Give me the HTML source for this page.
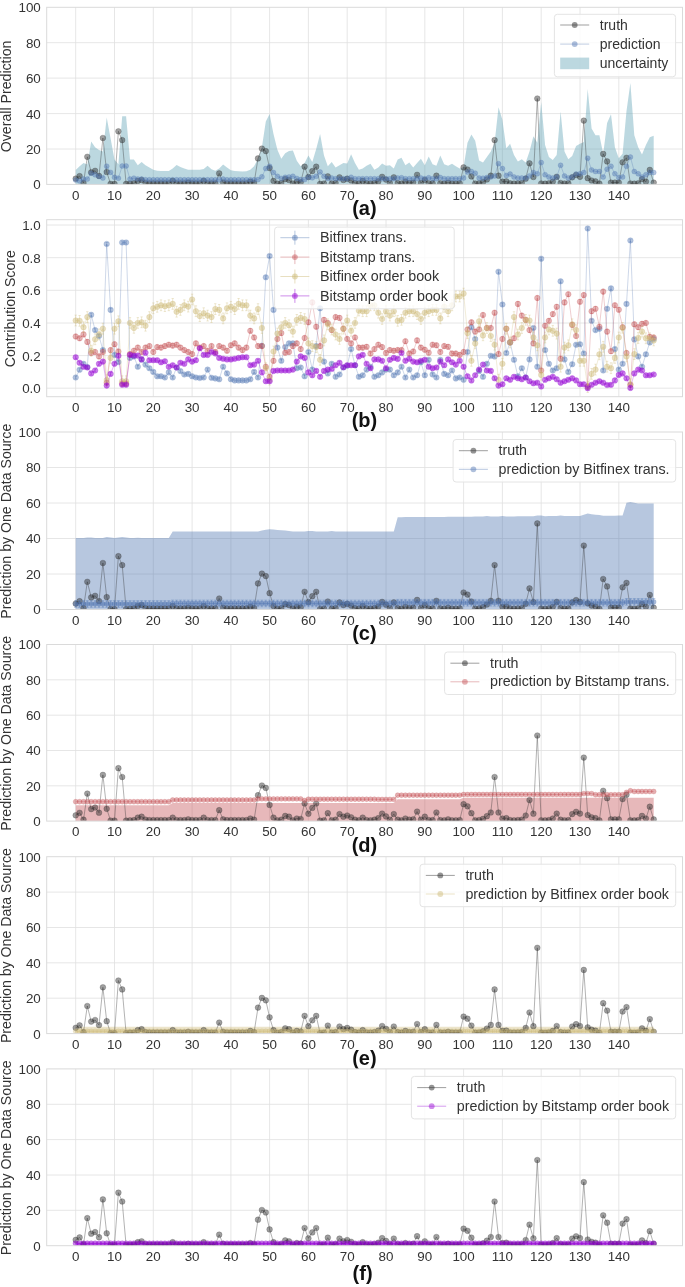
<!DOCTYPE html>
<html lang="en"><head><meta charset="utf-8"><title>Figure</title>
<style>html,body{margin:0;padding:0;background:#fff}svg{display:block;will-change:transform}text{font-family:"Liberation Sans",Arial,sans-serif}</style>
</head><body>
<svg width="685" height="1287" viewBox="0 0 685 1287">
<rect width="685" height="1287" fill="#fff"/>
<rect x="46.7" y="7.3" width="635.8" height="177.1" fill="#fff"/>
<path d="M75.7 7.3V184.4M114.5 7.3V184.4M153.3 7.3V184.4M192.1 7.3V184.4M230.9 7.3V184.4M269.6 7.3V184.4M308.4 7.3V184.4M347.2 7.3V184.4M386 7.3V184.4M424.8 7.3V184.4M463.6 7.3V184.4M502.4 7.3V184.4M541.2 7.3V184.4M580 7.3V184.4M618.8 7.3V184.4M46.7 149H682.5M46.7 113.6H682.5M46.7 78.1H682.5M46.7 42.7H682.5" stroke="#e0e0e0" stroke-width="0.8" fill="none"/>
<clipPath id="cpa"><rect x="46.7" y="7.3" width="635.8" height="177.1"/></clipPath><g clip-path="url(#cpa)">
<polygon points="75.7,170.1 79.6,166.2 83.5,163.1 87.3,164.6 91.2,141.5 95.1,147.2 99,149.9 102.9,151.6 106.7,117.5 110.6,138.4 114.5,159.6 118.4,164.2 122.2,116.2 126.1,116.2 130,159.6 133.9,159.6 137.8,165.3 141.6,161.9 145.5,165.3 149.4,167.4 153.3,169.7 157.2,170.8 161,171.1 164.9,171.1 168.8,171.1 172.7,168.5 176.6,164.9 180.4,167 184.3,168.5 188.2,169.7 192.1,169.7 195.9,169.7 199.8,169.7 203.7,169 207.6,165.8 211.5,169.3 215.3,170.8 219.2,168.5 223.1,164.6 227,167.6 230.9,170.2 234.7,171.1 238.6,171.3 242.5,171.6 246.4,171.3 250.3,169.7 254.1,166.3 258,158.7 261.9,147.2 265.8,121.4 269.6,113.9 273.5,133.9 277.4,149.7 281.3,158.7 285.2,153.2 289,150.9 292.9,150.6 296.8,160.8 300.7,166.3 304.6,163.1 308.4,155.4 312.3,161.9 316.2,149 320.1,134.1 324,155.4 327.8,166.3 331.7,161.9 335.6,167.4 339.5,165.3 343.4,163.1 347.2,163.5 351.1,154.3 355,163.1 358.9,169.7 362.7,168.5 366.6,165.8 370.5,163.7 374.4,169.7 378.3,167.4 382.1,163.5 386,165.8 389.9,165.3 393.8,168.5 397.7,159.6 401.5,157.8 405.4,165.3 409.3,162.6 413.2,167.4 417.1,163.1 420.9,158.7 424.8,165.3 428.7,156.4 432.6,164.2 436.4,165.8 440.3,155.4 444.2,164.2 448.1,165.8 452,163.7 455.8,166.3 459.7,168.5 463.6,167 467.5,142.8 471.4,134.5 475.2,140.7 479.1,160.5 483,162.6 486.9,157.1 490.8,151.6 494.6,142.8 498.5,107.2 502.4,119.8 506.3,148.3 510.1,143.8 514,155 517.9,161.6 521.8,159.3 525.7,162.6 529.5,151.6 533.4,136.2 537.3,142.8 541.2,102 545.1,145.1 548.9,157.1 552.8,160 556.7,155 560.6,111.6 564.5,151.6 568.3,159.3 572.2,156.1 576.1,146.1 580,143.8 583.8,141.9 587.7,88.9 591.6,128.4 595.5,135.2 599.4,135.2 603.2,153.8 607.1,122.9 611,114.3 614.9,147.2 618.8,158.2 622.6,153.8 626.5,110.9 630.4,82.9 634.3,135.2 638.2,147.2 642,154.5 645.9,145.1 649.8,137.3 653.7,135.7 653.7,184.4 649.8,184.4 645.9,184.4 642,184.4 638.2,184.4 634.3,184.4 630.4,184.4 626.5,184.4 622.6,184.4 618.8,184.4 614.9,184.4 611,184.4 607.1,184.4 603.2,184.4 599.4,184.4 595.5,184.4 591.6,184.4 587.7,184.4 583.8,184.4 580,184.4 576.1,184.4 572.2,184.4 568.3,184.4 564.5,184.4 560.6,184.4 556.7,184.4 552.8,184.4 548.9,184.4 545.1,184.4 541.2,184.4 537.3,184.4 533.4,184.4 529.5,184.4 525.7,184.4 521.8,184.4 517.9,184.4 514,184.4 510.1,184.4 506.3,184.4 502.4,184.4 498.5,184.4 494.6,184.4 490.8,184.4 486.9,184.4 483,184.4 479.1,184.4 475.2,184.4 471.4,184.4 467.5,184.4 463.6,184.4 459.7,184.4 455.8,184.4 452,184.4 448.1,184.4 444.2,184.4 440.3,184.4 436.4,184.4 432.6,184.4 428.7,184.4 424.8,184.4 420.9,184.4 417.1,184.4 413.2,184.4 409.3,184.4 405.4,184.4 401.5,184.4 397.7,184.4 393.8,184.4 389.9,184.4 386,184.4 382.1,184.4 378.3,184.4 374.4,184.4 370.5,184.4 366.6,184.4 362.7,184.4 358.9,184.4 355,184.4 351.1,184.4 347.2,184.4 343.4,184.4 339.5,184.4 335.6,184.4 331.7,184.4 327.8,184.4 324,184.4 320.1,184.4 316.2,184.4 312.3,184.4 308.4,184.4 304.6,184.4 300.7,184.4 296.8,184.4 292.9,184.4 289,184.4 285.2,184.4 281.3,184.4 277.4,184.4 273.5,184.4 269.6,184.4 265.8,184.4 261.9,184.4 258,184.4 254.1,184.4 250.3,184.4 246.4,184.4 242.5,184.4 238.6,184.4 234.7,184.4 230.9,184.4 227,184.4 223.1,184.4 219.2,184.4 215.3,184.4 211.5,184.4 207.6,184.4 203.7,184.4 199.8,184.4 195.9,184.4 192.1,184.4 188.2,184.4 184.3,184.4 180.4,184.4 176.6,184.4 172.7,184.4 168.8,184.4 164.9,184.4 161,184.4 157.2,184.4 153.3,184.4 149.4,184.4 145.5,184.4 141.6,184.4 137.8,184.4 133.9,184.4 130,184.4 126.1,184.4 122.2,184.4 118.4,184.4 114.5,184.4 110.6,184.4 106.7,184.4 102.9,184.4 99,184.4 95.1,184.4 91.2,184.4 87.3,184.4 83.5,184.4 79.6,184.4 75.7,184.4" fill="#5FA3B5" fill-opacity="0.42"/>
<polyline points="75.7,178.6 79.6,176.1 83.5,183 87.3,156.8 91.2,172.4 95.1,170.8 99,175.9 102.9,138 106.7,172 110.6,183.9 114.5,183.9 118.4,131.3 122.2,140.1 126.1,183.9 130,183.5 133.9,183.3 137.8,180.9 141.6,180 145.5,183 149.4,183.3 153.3,183.3 157.2,183.3 161,183.3 164.9,183.3 168.8,183.3 172.7,180.9 176.6,183.3 180.4,183.3 184.3,183.3 188.2,182.6 192.1,183.3 195.9,183.3 199.8,183.3 203.7,180.9 207.6,183.3 211.5,183.3 215.3,183.3 219.2,173.4 223.1,182.6 227,183.3 230.9,183.3 234.7,183.3 238.6,183.3 242.5,183.3 246.4,183.3 250.3,181.7 254.1,183 258,158.4 261.9,148.6 265.8,151.1 269.6,168.1 273.5,180.9 277.4,183.7 281.3,183 285.2,179.1 289,180 292.9,183.5 296.8,181.7 300.7,182.3 304.6,166.7 308.4,177 312.3,171.1 316.2,166.7 320.1,183.9 324,183.5 327.8,176.4 331.7,183.5 335.6,183 339.5,177.3 343.4,180 347.2,178.7 351.1,180.5 355,183 358.9,183.5 362.7,180.9 366.6,183.3 370.5,183.5 374.4,183 378.3,181.4 382.1,176.8 386,179.6 389.9,183 393.8,177.3 397.7,183 401.5,183.5 405.4,181.7 409.3,183 413.2,182.6 417.1,174.8 420.9,183 424.8,180 428.7,183.3 432.6,183.3 436.4,175.7 440.3,183.3 444.2,183.5 448.1,182.6 452,183.5 455.8,183.5 459.7,183.3 463.6,167.4 467.5,169.5 471.4,176.4 475.2,183.5 479.1,183.3 483,182.1 486.9,179.4 490.8,175.7 494.6,140.1 498.5,175.7 502.4,181.7 506.3,181.4 510.1,183.3 514,183.5 517.9,183.3 521.8,183 525.7,178.7 529.5,163.3 533.4,177 537.3,98.5 541.2,183.5 545.1,183.7 548.9,183.3 552.8,181.7 556.7,176.8 560.6,183 564.5,183.5 568.3,183.3 572.2,177.3 576.1,175 580,176.8 583.8,120.6 587.7,178.2 591.6,180.5 595.5,181.4 599.4,183.7 603.2,153.9 607.1,161.4 611,182.6 614.9,182.6 618.8,182.6 622.6,162.3 626.5,157.8 630.4,183.5 634.3,183.7 638.2,183.3 642,179.1 645.9,181.7 649.8,169.9 653.7,182.6" fill="none" stroke="#2a2a2a" stroke-width="0.8" stroke-opacity="0.45" stroke-linejoin="round"/>
<g fill="#2a2a2a" fill-opacity="0.45" stroke="#2a2a2a" stroke-opacity="0.45" stroke-width="0.5">
<circle cx="75.7" cy="178.6" r="2.85"/><circle cx="79.6" cy="176.1" r="2.85"/><circle cx="83.5" cy="183" r="2.85"/><circle cx="87.3" cy="156.8" r="2.85"/><circle cx="91.2" cy="172.4" r="2.85"/><circle cx="95.1" cy="170.8" r="2.85"/><circle cx="99" cy="175.9" r="2.85"/><circle cx="102.9" cy="138" r="2.85"/><circle cx="106.7" cy="172" r="2.85"/><circle cx="110.6" cy="183.9" r="2.85"/><circle cx="114.5" cy="183.9" r="2.85"/><circle cx="118.4" cy="131.3" r="2.85"/><circle cx="122.2" cy="140.1" r="2.85"/><circle cx="126.1" cy="183.9" r="2.85"/><circle cx="130" cy="183.5" r="2.85"/><circle cx="133.9" cy="183.3" r="2.85"/><circle cx="137.8" cy="180.9" r="2.85"/><circle cx="141.6" cy="180" r="2.85"/><circle cx="145.5" cy="183" r="2.85"/><circle cx="149.4" cy="183.3" r="2.85"/><circle cx="153.3" cy="183.3" r="2.85"/><circle cx="157.2" cy="183.3" r="2.85"/><circle cx="161" cy="183.3" r="2.85"/><circle cx="164.9" cy="183.3" r="2.85"/><circle cx="168.8" cy="183.3" r="2.85"/><circle cx="172.7" cy="180.9" r="2.85"/><circle cx="176.6" cy="183.3" r="2.85"/><circle cx="180.4" cy="183.3" r="2.85"/><circle cx="184.3" cy="183.3" r="2.85"/><circle cx="188.2" cy="182.6" r="2.85"/><circle cx="192.1" cy="183.3" r="2.85"/><circle cx="195.9" cy="183.3" r="2.85"/><circle cx="199.8" cy="183.3" r="2.85"/><circle cx="203.7" cy="180.9" r="2.85"/><circle cx="207.6" cy="183.3" r="2.85"/><circle cx="211.5" cy="183.3" r="2.85"/><circle cx="215.3" cy="183.3" r="2.85"/><circle cx="219.2" cy="173.4" r="2.85"/><circle cx="223.1" cy="182.6" r="2.85"/><circle cx="227" cy="183.3" r="2.85"/><circle cx="230.9" cy="183.3" r="2.85"/><circle cx="234.7" cy="183.3" r="2.85"/><circle cx="238.6" cy="183.3" r="2.85"/><circle cx="242.5" cy="183.3" r="2.85"/><circle cx="246.4" cy="183.3" r="2.85"/><circle cx="250.3" cy="181.7" r="2.85"/><circle cx="254.1" cy="183" r="2.85"/><circle cx="258" cy="158.4" r="2.85"/><circle cx="261.9" cy="148.6" r="2.85"/><circle cx="265.8" cy="151.1" r="2.85"/><circle cx="269.6" cy="168.1" r="2.85"/><circle cx="273.5" cy="180.9" r="2.85"/><circle cx="277.4" cy="183.7" r="2.85"/><circle cx="281.3" cy="183" r="2.85"/><circle cx="285.2" cy="179.1" r="2.85"/><circle cx="289" cy="180" r="2.85"/><circle cx="292.9" cy="183.5" r="2.85"/><circle cx="296.8" cy="181.7" r="2.85"/><circle cx="300.7" cy="182.3" r="2.85"/><circle cx="304.6" cy="166.7" r="2.85"/><circle cx="308.4" cy="177" r="2.85"/><circle cx="312.3" cy="171.1" r="2.85"/><circle cx="316.2" cy="166.7" r="2.85"/><circle cx="320.1" cy="183.9" r="2.85"/><circle cx="324" cy="183.5" r="2.85"/><circle cx="327.8" cy="176.4" r="2.85"/><circle cx="331.7" cy="183.5" r="2.85"/><circle cx="335.6" cy="183" r="2.85"/><circle cx="339.5" cy="177.3" r="2.85"/><circle cx="343.4" cy="180" r="2.85"/><circle cx="347.2" cy="178.7" r="2.85"/><circle cx="351.1" cy="180.5" r="2.85"/><circle cx="355" cy="183" r="2.85"/><circle cx="358.9" cy="183.5" r="2.85"/><circle cx="362.7" cy="180.9" r="2.85"/><circle cx="366.6" cy="183.3" r="2.85"/><circle cx="370.5" cy="183.5" r="2.85"/><circle cx="374.4" cy="183" r="2.85"/><circle cx="378.3" cy="181.4" r="2.85"/><circle cx="382.1" cy="176.8" r="2.85"/><circle cx="386" cy="179.6" r="2.85"/><circle cx="389.9" cy="183" r="2.85"/><circle cx="393.8" cy="177.3" r="2.85"/><circle cx="397.7" cy="183" r="2.85"/><circle cx="401.5" cy="183.5" r="2.85"/><circle cx="405.4" cy="181.7" r="2.85"/><circle cx="409.3" cy="183" r="2.85"/><circle cx="413.2" cy="182.6" r="2.85"/><circle cx="417.1" cy="174.8" r="2.85"/><circle cx="420.9" cy="183" r="2.85"/><circle cx="424.8" cy="180" r="2.85"/><circle cx="428.7" cy="183.3" r="2.85"/><circle cx="432.6" cy="183.3" r="2.85"/><circle cx="436.4" cy="175.7" r="2.85"/><circle cx="440.3" cy="183.3" r="2.85"/><circle cx="444.2" cy="183.5" r="2.85"/><circle cx="448.1" cy="182.6" r="2.85"/><circle cx="452" cy="183.5" r="2.85"/><circle cx="455.8" cy="183.5" r="2.85"/><circle cx="459.7" cy="183.3" r="2.85"/><circle cx="463.6" cy="167.4" r="2.85"/><circle cx="467.5" cy="169.5" r="2.85"/><circle cx="471.4" cy="176.4" r="2.85"/><circle cx="475.2" cy="183.5" r="2.85"/><circle cx="479.1" cy="183.3" r="2.85"/><circle cx="483" cy="182.1" r="2.85"/><circle cx="486.9" cy="179.4" r="2.85"/><circle cx="490.8" cy="175.7" r="2.85"/><circle cx="494.6" cy="140.1" r="2.85"/><circle cx="498.5" cy="175.7" r="2.85"/><circle cx="502.4" cy="181.7" r="2.85"/><circle cx="506.3" cy="181.4" r="2.85"/><circle cx="510.1" cy="183.3" r="2.85"/><circle cx="514" cy="183.5" r="2.85"/><circle cx="517.9" cy="183.3" r="2.85"/><circle cx="521.8" cy="183" r="2.85"/><circle cx="525.7" cy="178.7" r="2.85"/><circle cx="529.5" cy="163.3" r="2.85"/><circle cx="533.4" cy="177" r="2.85"/><circle cx="537.3" cy="98.5" r="2.85"/><circle cx="541.2" cy="183.5" r="2.85"/><circle cx="545.1" cy="183.7" r="2.85"/><circle cx="548.9" cy="183.3" r="2.85"/><circle cx="552.8" cy="181.7" r="2.85"/><circle cx="556.7" cy="176.8" r="2.85"/><circle cx="560.6" cy="183" r="2.85"/><circle cx="564.5" cy="183.5" r="2.85"/><circle cx="568.3" cy="183.3" r="2.85"/><circle cx="572.2" cy="177.3" r="2.85"/><circle cx="576.1" cy="175" r="2.85"/><circle cx="580" cy="176.8" r="2.85"/><circle cx="583.8" cy="120.6" r="2.85"/><circle cx="587.7" cy="178.2" r="2.85"/><circle cx="591.6" cy="180.5" r="2.85"/><circle cx="595.5" cy="181.4" r="2.85"/><circle cx="599.4" cy="183.7" r="2.85"/><circle cx="603.2" cy="153.9" r="2.85"/><circle cx="607.1" cy="161.4" r="2.85"/><circle cx="611" cy="182.6" r="2.85"/><circle cx="614.9" cy="182.6" r="2.85"/><circle cx="618.8" cy="182.6" r="2.85"/><circle cx="622.6" cy="162.3" r="2.85"/><circle cx="626.5" cy="157.8" r="2.85"/><circle cx="630.4" cy="183.5" r="2.85"/><circle cx="634.3" cy="183.7" r="2.85"/><circle cx="638.2" cy="183.3" r="2.85"/><circle cx="642" cy="179.1" r="2.85"/><circle cx="645.9" cy="181.7" r="2.85"/><circle cx="649.8" cy="169.9" r="2.85"/><circle cx="653.7" cy="182.6" r="2.85"/>
</g>
<polyline points="75.7,180 79.6,180.9 83.5,179.1 87.3,179.1 91.2,173.2 95.1,174.8 99,176.4 102.9,178 106.7,166.2 110.6,172.4 114.5,177.3 118.4,178.2 122.2,166 126.1,166 130,179.1 133.9,178.2 137.8,179.1 141.6,179.1 145.5,179.8 149.4,179.8 153.3,179.8 157.2,179.8 161,179.8 164.9,179.8 168.8,179.8 172.7,179.8 176.6,179.8 180.4,179.8 184.3,179.8 188.2,179.8 192.1,179.8 195.9,179.8 199.8,179.8 203.7,179.8 207.6,179.8 211.5,179.8 215.3,179.8 219.2,179.8 223.1,179.1 227,179.8 230.9,179.8 234.7,179.8 238.6,179.8 242.5,179.8 246.4,179.8 250.3,179.8 254.1,179.8 258,179.6 261.9,176.8 265.8,168.5 269.6,166.3 273.5,172.5 277.4,176.3 281.3,178.4 285.2,177.3 289,177 292.9,176.3 296.8,178.4 300.7,179.6 304.6,179.6 308.4,177.3 312.3,177.8 316.2,176.3 320.1,172 324,176.3 327.8,178.4 331.7,178 335.6,178.7 339.5,178.7 343.4,178.7 347.2,178.7 351.1,177.3 355,178.7 358.9,178.7 362.7,178.7 366.6,178.7 370.5,178.7 374.4,178.7 378.3,178.7 382.1,178.7 386,178.7 389.9,178.7 393.8,178.7 397.7,178 401.5,177.7 405.4,178.7 409.3,178.7 413.2,178.7 417.1,178.7 420.9,178 424.8,178.7 428.7,177.7 432.6,178.7 436.4,178.7 440.3,177.5 444.2,178.7 448.1,178.7 452,178.7 455.8,178.7 459.7,178.7 463.6,178 467.5,172 471.4,171.5 475.2,173.2 479.1,178 483,178.2 486.9,177.5 490.8,177 494.6,175.9 498.5,163.7 502.4,168.5 506.3,175.4 510.1,174.1 514,177 517.9,178 521.8,178 525.7,178 529.5,175.9 533.4,172.5 537.3,173.8 541.2,162.6 545.1,174.7 548.9,177 552.8,178 556.7,177 560.6,165.3 564.5,175.9 568.3,178 572.2,177 576.1,174.1 580,173.8 583.8,172.5 587.7,158.2 591.6,169.9 595.5,171.5 599.4,171.5 603.2,177 607.1,169.2 611,166.3 614.9,173.8 618.8,177.5 622.6,177 626.5,166.3 630.4,157.1 634.3,171.5 638.2,173.8 642,177 645.9,174.7 649.8,172.5 653.7,172.5" fill="none" stroke="#4C72B0" stroke-width="0.8" stroke-opacity="0.35" stroke-linejoin="round"/>
<g fill="#4C72B0" fill-opacity="0.42" stroke="#4C72B0" stroke-opacity="0.42" stroke-width="0.5">
<circle cx="75.7" cy="180" r="2.5"/><circle cx="79.6" cy="180.9" r="2.5"/><circle cx="83.5" cy="179.1" r="2.5"/><circle cx="87.3" cy="179.1" r="2.5"/><circle cx="91.2" cy="173.2" r="2.5"/><circle cx="95.1" cy="174.8" r="2.5"/><circle cx="99" cy="176.4" r="2.5"/><circle cx="102.9" cy="178" r="2.5"/><circle cx="106.7" cy="166.2" r="2.5"/><circle cx="110.6" cy="172.4" r="2.5"/><circle cx="114.5" cy="177.3" r="2.5"/><circle cx="118.4" cy="178.2" r="2.5"/><circle cx="122.2" cy="166" r="2.5"/><circle cx="126.1" cy="166" r="2.5"/><circle cx="130" cy="179.1" r="2.5"/><circle cx="133.9" cy="178.2" r="2.5"/><circle cx="137.8" cy="179.1" r="2.5"/><circle cx="141.6" cy="179.1" r="2.5"/><circle cx="145.5" cy="179.8" r="2.5"/><circle cx="149.4" cy="179.8" r="2.5"/><circle cx="153.3" cy="179.8" r="2.5"/><circle cx="157.2" cy="179.8" r="2.5"/><circle cx="161" cy="179.8" r="2.5"/><circle cx="164.9" cy="179.8" r="2.5"/><circle cx="168.8" cy="179.8" r="2.5"/><circle cx="172.7" cy="179.8" r="2.5"/><circle cx="176.6" cy="179.8" r="2.5"/><circle cx="180.4" cy="179.8" r="2.5"/><circle cx="184.3" cy="179.8" r="2.5"/><circle cx="188.2" cy="179.8" r="2.5"/><circle cx="192.1" cy="179.8" r="2.5"/><circle cx="195.9" cy="179.8" r="2.5"/><circle cx="199.8" cy="179.8" r="2.5"/><circle cx="203.7" cy="179.8" r="2.5"/><circle cx="207.6" cy="179.8" r="2.5"/><circle cx="211.5" cy="179.8" r="2.5"/><circle cx="215.3" cy="179.8" r="2.5"/><circle cx="219.2" cy="179.8" r="2.5"/><circle cx="223.1" cy="179.1" r="2.5"/><circle cx="227" cy="179.8" r="2.5"/><circle cx="230.9" cy="179.8" r="2.5"/><circle cx="234.7" cy="179.8" r="2.5"/><circle cx="238.6" cy="179.8" r="2.5"/><circle cx="242.5" cy="179.8" r="2.5"/><circle cx="246.4" cy="179.8" r="2.5"/><circle cx="250.3" cy="179.8" r="2.5"/><circle cx="254.1" cy="179.8" r="2.5"/><circle cx="258" cy="179.6" r="2.5"/><circle cx="261.9" cy="176.8" r="2.5"/><circle cx="265.8" cy="168.5" r="2.5"/><circle cx="269.6" cy="166.3" r="2.5"/><circle cx="273.5" cy="172.5" r="2.5"/><circle cx="277.4" cy="176.3" r="2.5"/><circle cx="281.3" cy="178.4" r="2.5"/><circle cx="285.2" cy="177.3" r="2.5"/><circle cx="289" cy="177" r="2.5"/><circle cx="292.9" cy="176.3" r="2.5"/><circle cx="296.8" cy="178.4" r="2.5"/><circle cx="300.7" cy="179.6" r="2.5"/><circle cx="304.6" cy="179.6" r="2.5"/><circle cx="308.4" cy="177.3" r="2.5"/><circle cx="312.3" cy="177.8" r="2.5"/><circle cx="316.2" cy="176.3" r="2.5"/><circle cx="320.1" cy="172" r="2.5"/><circle cx="324" cy="176.3" r="2.5"/><circle cx="327.8" cy="178.4" r="2.5"/><circle cx="331.7" cy="178" r="2.5"/><circle cx="335.6" cy="178.7" r="2.5"/><circle cx="339.5" cy="178.7" r="2.5"/><circle cx="343.4" cy="178.7" r="2.5"/><circle cx="347.2" cy="178.7" r="2.5"/><circle cx="351.1" cy="177.3" r="2.5"/><circle cx="355" cy="178.7" r="2.5"/><circle cx="358.9" cy="178.7" r="2.5"/><circle cx="362.7" cy="178.7" r="2.5"/><circle cx="366.6" cy="178.7" r="2.5"/><circle cx="370.5" cy="178.7" r="2.5"/><circle cx="374.4" cy="178.7" r="2.5"/><circle cx="378.3" cy="178.7" r="2.5"/><circle cx="382.1" cy="178.7" r="2.5"/><circle cx="386" cy="178.7" r="2.5"/><circle cx="389.9" cy="178.7" r="2.5"/><circle cx="393.8" cy="178.7" r="2.5"/><circle cx="397.7" cy="178" r="2.5"/><circle cx="401.5" cy="177.7" r="2.5"/><circle cx="405.4" cy="178.7" r="2.5"/><circle cx="409.3" cy="178.7" r="2.5"/><circle cx="413.2" cy="178.7" r="2.5"/><circle cx="417.1" cy="178.7" r="2.5"/><circle cx="420.9" cy="178" r="2.5"/><circle cx="424.8" cy="178.7" r="2.5"/><circle cx="428.7" cy="177.7" r="2.5"/><circle cx="432.6" cy="178.7" r="2.5"/><circle cx="436.4" cy="178.7" r="2.5"/><circle cx="440.3" cy="177.5" r="2.5"/><circle cx="444.2" cy="178.7" r="2.5"/><circle cx="448.1" cy="178.7" r="2.5"/><circle cx="452" cy="178.7" r="2.5"/><circle cx="455.8" cy="178.7" r="2.5"/><circle cx="459.7" cy="178.7" r="2.5"/><circle cx="463.6" cy="178" r="2.5"/><circle cx="467.5" cy="172" r="2.5"/><circle cx="471.4" cy="171.5" r="2.5"/><circle cx="475.2" cy="173.2" r="2.5"/><circle cx="479.1" cy="178" r="2.5"/><circle cx="483" cy="178.2" r="2.5"/><circle cx="486.9" cy="177.5" r="2.5"/><circle cx="490.8" cy="177" r="2.5"/><circle cx="494.6" cy="175.9" r="2.5"/><circle cx="498.5" cy="163.7" r="2.5"/><circle cx="502.4" cy="168.5" r="2.5"/><circle cx="506.3" cy="175.4" r="2.5"/><circle cx="510.1" cy="174.1" r="2.5"/><circle cx="514" cy="177" r="2.5"/><circle cx="517.9" cy="178" r="2.5"/><circle cx="521.8" cy="178" r="2.5"/><circle cx="525.7" cy="178" r="2.5"/><circle cx="529.5" cy="175.9" r="2.5"/><circle cx="533.4" cy="172.5" r="2.5"/><circle cx="537.3" cy="173.8" r="2.5"/><circle cx="541.2" cy="162.6" r="2.5"/><circle cx="545.1" cy="174.7" r="2.5"/><circle cx="548.9" cy="177" r="2.5"/><circle cx="552.8" cy="178" r="2.5"/><circle cx="556.7" cy="177" r="2.5"/><circle cx="560.6" cy="165.3" r="2.5"/><circle cx="564.5" cy="175.9" r="2.5"/><circle cx="568.3" cy="178" r="2.5"/><circle cx="572.2" cy="177" r="2.5"/><circle cx="576.1" cy="174.1" r="2.5"/><circle cx="580" cy="173.8" r="2.5"/><circle cx="583.8" cy="172.5" r="2.5"/><circle cx="587.7" cy="158.2" r="2.5"/><circle cx="591.6" cy="169.9" r="2.5"/><circle cx="595.5" cy="171.5" r="2.5"/><circle cx="599.4" cy="171.5" r="2.5"/><circle cx="603.2" cy="177" r="2.5"/><circle cx="607.1" cy="169.2" r="2.5"/><circle cx="611" cy="166.3" r="2.5"/><circle cx="614.9" cy="173.8" r="2.5"/><circle cx="618.8" cy="177.5" r="2.5"/><circle cx="622.6" cy="177" r="2.5"/><circle cx="626.5" cy="166.3" r="2.5"/><circle cx="630.4" cy="157.1" r="2.5"/><circle cx="634.3" cy="171.5" r="2.5"/><circle cx="638.2" cy="173.8" r="2.5"/><circle cx="642" cy="177" r="2.5"/><circle cx="645.9" cy="174.7" r="2.5"/><circle cx="649.8" cy="172.5" r="2.5"/><circle cx="653.7" cy="172.5" r="2.5"/>
</g>
</g>
<rect x="46.7" y="7.3" width="635.8" height="177.1" fill="none" stroke="#dadada" stroke-width="1"/>
<g font-family="Liberation Sans, Arial, sans-serif" font-size="13.4" fill="#333">
<text x="75.7" y="199.7" text-anchor="middle">0</text>
<text x="114.5" y="199.7" text-anchor="middle">10</text>
<text x="153.3" y="199.7" text-anchor="middle">20</text>
<text x="192.1" y="199.7" text-anchor="middle">30</text>
<text x="230.9" y="199.7" text-anchor="middle">40</text>
<text x="269.6" y="199.7" text-anchor="middle">50</text>
<text x="308.4" y="199.7" text-anchor="middle">60</text>
<text x="347.2" y="199.7" text-anchor="middle">70</text>
<text x="386" y="199.7" text-anchor="middle">80</text>
<text x="424.8" y="199.7" text-anchor="middle">90</text>
<text x="463.6" y="199.7" text-anchor="middle">100</text>
<text x="502.4" y="199.7" text-anchor="middle">110</text>
<text x="541.2" y="199.7" text-anchor="middle">120</text>
<text x="580" y="199.7" text-anchor="middle">130</text>
<text x="618.8" y="199.7" text-anchor="middle">140</text>
<text x="40.8" y="189.3" text-anchor="end">0</text>
<text x="40.8" y="153.9" text-anchor="end">20</text>
<text x="40.8" y="118.5" text-anchor="end">40</text>
<text x="40.8" y="83" text-anchor="end">60</text>
<text x="40.8" y="47.6" text-anchor="end">80</text>
<text x="40.8" y="12.2" text-anchor="end">100</text>
</g>
<text font-family="Liberation Sans, Arial, sans-serif" font-size="14.15" fill="#333" text-anchor="middle" transform="translate(11.2 96.4) rotate(-90)">Overall Prediction</text>
<text font-family="Liberation Sans, Arial, sans-serif" font-size="20" font-weight="bold" fill="#111" text-anchor="middle" x="364.4" y="214.7">(a)</text>
<rect x="554.4" y="14.3" width="121.2" height="62.5" rx="3" ry="3" fill="#fff" fill-opacity="0.8" stroke="#e4e4e4" stroke-width="1"/>
<line x1="560.2" y1="25" x2="589.2" y2="25" stroke="#2a2a2a" stroke-width="1" stroke-opacity="0.45"/>
<circle cx="574.7" cy="25" r="2.9" fill="#2a2a2a" fill-opacity="0.5"/>
<text font-family="Liberation Sans, Arial, sans-serif" font-size="14" fill="#333" x="599.8" y="29.6">truth</text>
<line x1="560.2" y1="44.1" x2="589.2" y2="44.1" stroke="#4C72B0" stroke-width="1" stroke-opacity="0.35"/>
<circle cx="574.7" cy="44.1" r="2.9" fill="#4C72B0" fill-opacity="0.45"/>
<text font-family="Liberation Sans, Arial, sans-serif" font-size="14" fill="#333" x="599.8" y="48.7">prediction</text>
<rect x="560.2" y="57.6" width="29" height="11.6" fill="#5FA3B5" fill-opacity="0.42"/>
<text font-family="Liberation Sans, Arial, sans-serif" font-size="14" fill="#333" x="599.8" y="67.8">uncertainty</text>
<rect x="46.7" y="219.7" width="635.8" height="177" fill="#fff"/>
<path d="M75.7 219.7V396.7M114.5 219.7V396.7M153.3 219.7V396.7M192.1 219.7V396.7M230.9 219.7V396.7M269.6 219.7V396.7M308.4 219.7V396.7M347.2 219.7V396.7M386 219.7V396.7M424.8 219.7V396.7M463.6 219.7V396.7M502.4 219.7V396.7M541.2 219.7V396.7M580 219.7V396.7M618.8 219.7V396.7M46.7 388.2H682.5M46.7 355.6H682.5M46.7 323H682.5M46.7 290.3H682.5M46.7 257.7H682.5M46.7 225H682.5" stroke="#e0e0e0" stroke-width="0.8" fill="none"/>
<clipPath id="cpb"><rect x="46.7" y="219.7" width="635.8" height="177"/></clipPath><g clip-path="url(#cpb)">
<polyline points="75.7,377.5 79.6,369.8 83.5,363.8 87.3,367 91.2,314.8 95.1,330.1 99,336 102.9,350.1 106.7,244 110.6,309.9 114.5,354.9 118.4,362.1 122.2,242.5 126.1,242.5 130,357.9 133.9,356.4 137.8,366.7 141.6,359.4 145.5,364.6 149.4,368.2 153.3,371.9 157.2,376.3 161,376.3 164.9,377.5 168.8,372.4 172.7,377.5 176.6,367.5 180.4,371.1 184.3,374.5 188.2,373.9 192.1,376.3 195.9,377.5 199.8,378 203.7,377.5 207.6,369.6 211.5,377.8 215.3,378.4 219.2,379.3 223.1,366.7 227,373.4 230.9,379.3 234.7,380.4 238.6,380.4 242.5,380.4 246.4,380.4 250.3,379.3 254.1,371.9 258,377.5 261.9,345.8 265.8,277.3 269.6,256 273.5,309.9 277.4,347.6 281.3,360.8 285.2,347.1 289,343.4 292.9,343.4 296.8,368.2 300.7,367.5 304.6,376.3 308.4,352 312.3,369.6 316.2,346.1 320.1,308.3 324,361.6 327.8,373.4 331.7,363.8 335.6,376.8 339.5,374.5 343.4,367.5 347.2,365.7 351.1,349.1 355,365.2 358.9,376.8 362.7,375.3 366.6,369.6 370.5,366.7 374.4,376.8 378.3,375.3 382.1,372.4 386,369.6 389.9,369.6 393.8,375.3 397.7,372.4 401.5,366.7 405.4,377.5 409.3,369.6 413.2,377.5 417.1,375.3 420.9,362.3 424.8,375.3 428.7,359.8 432.6,374.5 436.4,377.5 440.3,359.8 444.2,373.9 448.1,375.3 452,370.5 455.8,378.4 459.7,377.5 463.6,379.8 467.5,352 471.4,327.2 475.2,339 479.1,370.9 483,376.8 486.9,363.8 490.8,355.8 494.6,356.4 498.5,271.7 502.4,304.5 506.3,353 510.1,342.4 514,359.8 517.9,376.3 521.8,368.2 525.7,377.5 529.5,359.4 533.4,328 537.3,366.7 541.2,258.7 545.1,350.1 548.9,363.8 552.8,370.5 556.7,368.2 560.6,281.3 564.5,359.4 568.3,371.9 572.2,364.2 576.1,344.7 580,344.2 583.8,353.5 587.7,228.5 591.6,320.8 595.5,330.1 599.4,328.7 603.2,370.5 607.1,308.8 611,288.4 614.9,349.1 618.8,369.6 622.6,363.8 626.5,303.9 630.4,240.5 634.3,339.4 638.2,356.4 642,366.7 645.9,354.3 649.8,342.4 653.7,339" fill="none" stroke="#4C72B0" stroke-width="0.8" stroke-opacity="0.35" stroke-linejoin="round"/>
<path d="M75.7 378.9V376M79.6 371.3V368.3M83.5 365.2V362.3M87.3 368.5V365.6M91.2 316.3V313.3M95.1 331.6V328.7M99 337.5V334.5M102.9 351.5V348.6M106.7 245.4V242.5M110.6 311.4V308.4M114.5 356.4V353.5M118.4 363.6V360.7M122.2 244V241M126.1 244V241M130 359.4V356.4M133.9 357.9V354.9M137.8 368.2V365.2M141.6 360.8V357.9M145.5 366V363.1M149.4 369.6V366.7M153.3 373.4V370.5M157.2 377.8V374.9M161 377.8V374.9M164.9 378.9V376M168.8 373.9V370.9M172.7 378.9V376M176.6 369V366M180.4 372.6V369.6M184.3 376V373.1M188.2 375.3V372.4M192.1 377.8V374.9M195.9 378.9V376M199.8 379.4V376.5M203.7 378.9V376M207.6 371.1V368.2M211.5 379.3V376.3M215.3 379.9V377M219.2 380.7V377.8M223.1 368.2V365.2M227 374.9V371.9M230.9 380.7V377.8M234.7 381.9V378.9M238.6 381.9V378.9M242.5 381.9V378.9M246.4 381.9V378.9M250.3 380.7V377.8M254.1 373.4V370.5M258 378.9V376M261.9 347.3V344.3M265.8 278.7V275.8M269.6 257.5V254.6M273.5 311.4V308.4M277.4 349.1V346.1M281.3 362.3V359.4M285.2 348.6V345.6M289 344.8V341.9M292.9 344.8V341.9M296.8 369.6V366.7M300.7 369V366M304.6 377.8V374.9M308.4 353.5V350.5M312.3 371.1V368.2M316.2 347.6V344.7M320.1 309.7V306.8M324 363.1V360.2M327.8 374.9V371.9M331.7 365.2V362.3M335.6 378.3V375.3M339.5 376V373.1M343.4 369V366M347.2 367.2V364.2M351.1 350.5V347.6M355 366.7V363.8M358.9 378.3V375.3M362.7 376.8V373.9M366.6 371.1V368.2M370.5 368.2V365.2M374.4 378.3V375.3M378.3 376.8V373.9M382.1 373.9V370.9M386 371.1V368.2M389.9 371.1V368.2M393.8 376.8V373.9M397.7 373.9V370.9M401.5 368.2V365.2M405.4 378.9V376M409.3 371.1V368.2M413.2 378.9V376M417.1 376.8V373.9M420.9 363.8V360.8M424.8 376.8V373.9M428.7 361.3V358.4M432.6 376V373.1M436.4 378.9V376M440.3 361.3V358.4M444.2 375.3V372.4M448.1 376.8V373.9M452 371.9V369M455.8 379.9V377M459.7 378.9V376M463.6 381.2V378.3M467.5 353.5V350.5M471.4 328.7V325.7M475.2 340.4V337.5M479.1 372.4V369.5M483 378.3V375.3M486.9 365.2V362.3M490.8 357.2V354.3M494.6 357.9V354.9M498.5 273.2V270.2M502.4 306V303M506.3 354.5V351.5M510.1 343.8V340.9M514 361.3V358.4M517.9 377.8V374.9M521.8 369.6V366.7M525.7 378.9V376M529.5 360.8V357.9M533.4 329.5V326.6M537.3 368.2V365.2M541.2 260.1V257.2M545.1 351.5V348.6M548.9 365.2V362.3M552.8 371.9V369M556.7 369.6V366.7M560.6 282.8V279.9M564.5 360.8V357.9M568.3 373.4V370.5M572.2 365.7V362.8M576.1 346.1V343.2M580 345.6V342.7M583.8 354.9V352M587.7 229.9V227M591.6 322.3V319.4M595.5 331.6V328.7M599.4 330.1V327.2M603.2 371.9V369M607.1 310.2V307.3M611 289.8V286.9M614.9 350.5V347.6M618.8 371.1V368.2M622.6 365.2V362.3M626.5 305.3V302.4M630.4 242V239.1M634.3 340.9V338M638.2 357.9V354.9M642 368.2V365.2M645.9 355.8V352.8M649.8 343.8V340.9M653.7 340.4V337.5M74.5 378.9H76.9M74.5 376H76.9M78.4 371.3H80.8M78.4 368.3H80.8M82.3 365.2H84.7M82.3 362.3H84.7M86.1 368.5H88.5M86.1 365.6H88.5M90 316.3H92.4M90 313.3H92.4M93.9 331.6H96.3M93.9 328.7H96.3M97.8 337.5H100.2M97.8 334.5H100.2M101.7 351.5H104.1M101.7 348.6H104.1M105.5 245.4H107.9M105.5 242.5H107.9M109.4 311.4H111.8M109.4 308.4H111.8M113.3 356.4H115.7M113.3 353.5H115.7M117.2 363.6H119.6M117.2 360.7H119.6M121 244H123.4M121 241H123.4M124.9 244H127.3M124.9 241H127.3M128.8 359.4H131.2M128.8 356.4H131.2M132.7 357.9H135.1M132.7 354.9H135.1M136.6 368.2H139M136.6 365.2H139M140.4 360.8H142.8M140.4 357.9H142.8M144.3 366H146.7M144.3 363.1H146.7M148.2 369.6H150.6M148.2 366.7H150.6M152.1 373.4H154.5M152.1 370.5H154.5M156 377.8H158.4M156 374.9H158.4M159.8 377.8H162.2M159.8 374.9H162.2M163.7 378.9H166.1M163.7 376H166.1M167.6 373.9H170M167.6 370.9H170M171.5 378.9H173.9M171.5 376H173.9M175.4 369H177.8M175.4 366H177.8M179.2 372.6H181.6M179.2 369.6H181.6M183.1 376H185.5M183.1 373.1H185.5M187 375.3H189.4M187 372.4H189.4M190.9 377.8H193.3M190.9 374.9H193.3M194.7 378.9H197.1M194.7 376H197.1M198.6 379.4H201M198.6 376.5H201M202.5 378.9H204.9M202.5 376H204.9M206.4 371.1H208.8M206.4 368.2H208.8M210.3 379.3H212.7M210.3 376.3H212.7M214.1 379.9H216.5M214.1 377H216.5M218 380.7H220.4M218 377.8H220.4M221.9 368.2H224.3M221.9 365.2H224.3M225.8 374.9H228.2M225.8 371.9H228.2M229.7 380.7H232.1M229.7 377.8H232.1M233.5 381.9H235.9M233.5 378.9H235.9M237.4 381.9H239.8M237.4 378.9H239.8M241.3 381.9H243.7M241.3 378.9H243.7M245.2 381.9H247.6M245.2 378.9H247.6M249.1 380.7H251.5M249.1 377.8H251.5M252.9 373.4H255.3M252.9 370.5H255.3M256.8 378.9H259.2M256.8 376H259.2M260.7 347.3H263.1M260.7 344.3H263.1M264.6 278.7H267M264.6 275.8H267M268.4 257.5H270.8M268.4 254.6H270.8M272.3 311.4H274.7M272.3 308.4H274.7M276.2 349.1H278.6M276.2 346.1H278.6M280.1 362.3H282.5M280.1 359.4H282.5M284 348.6H286.4M284 345.6H286.4M287.8 344.8H290.2M287.8 341.9H290.2M291.7 344.8H294.1M291.7 341.9H294.1M295.6 369.6H298M295.6 366.7H298M299.5 369H301.9M299.5 366H301.9M303.4 377.8H305.8M303.4 374.9H305.8M307.2 353.5H309.6M307.2 350.5H309.6M311.1 371.1H313.5M311.1 368.2H313.5M315 347.6H317.4M315 344.7H317.4M318.9 309.7H321.3M318.9 306.8H321.3M322.8 363.1H325.2M322.8 360.2H325.2M326.6 374.9H329M326.6 371.9H329M330.5 365.2H332.9M330.5 362.3H332.9M334.4 378.3H336.8M334.4 375.3H336.8M338.3 376H340.7M338.3 373.1H340.7M342.2 369H344.6M342.2 366H344.6M346 367.2H348.4M346 364.2H348.4M349.9 350.5H352.3M349.9 347.6H352.3M353.8 366.7H356.2M353.8 363.8H356.2M357.7 378.3H360.1M357.7 375.3H360.1M361.5 376.8H363.9M361.5 373.9H363.9M365.4 371.1H367.8M365.4 368.2H367.8M369.3 368.2H371.7M369.3 365.2H371.7M373.2 378.3H375.6M373.2 375.3H375.6M377.1 376.8H379.5M377.1 373.9H379.5M380.9 373.9H383.3M380.9 370.9H383.3M384.8 371.1H387.2M384.8 368.2H387.2M388.7 371.1H391.1M388.7 368.2H391.1M392.6 376.8H395M392.6 373.9H395M396.5 373.9H398.9M396.5 370.9H398.9M400.3 368.2H402.7M400.3 365.2H402.7M404.2 378.9H406.6M404.2 376H406.6M408.1 371.1H410.5M408.1 368.2H410.5M412 378.9H414.4M412 376H414.4M415.9 376.8H418.3M415.9 373.9H418.3M419.7 363.8H422.1M419.7 360.8H422.1M423.6 376.8H426M423.6 373.9H426M427.5 361.3H429.9M427.5 358.4H429.9M431.4 376H433.8M431.4 373.1H433.8M435.2 378.9H437.6M435.2 376H437.6M439.1 361.3H441.5M439.1 358.4H441.5M443 375.3H445.4M443 372.4H445.4M446.9 376.8H449.3M446.9 373.9H449.3M450.8 371.9H453.2M450.8 369H453.2M454.6 379.9H457M454.6 377H457M458.5 378.9H460.9M458.5 376H460.9M462.4 381.2H464.8M462.4 378.3H464.8M466.3 353.5H468.7M466.3 350.5H468.7M470.2 328.7H472.6M470.2 325.7H472.6M474 340.4H476.4M474 337.5H476.4M477.9 372.4H480.3M477.9 369.5H480.3M481.8 378.3H484.2M481.8 375.3H484.2M485.7 365.2H488.1M485.7 362.3H488.1M489.6 357.2H492M489.6 354.3H492M493.4 357.9H495.8M493.4 354.9H495.8M497.3 273.2H499.7M497.3 270.2H499.7M501.2 306H503.6M501.2 303H503.6M505.1 354.5H507.5M505.1 351.5H507.5M508.9 343.8H511.3M508.9 340.9H511.3M512.8 361.3H515.2M512.8 358.4H515.2M516.7 377.8H519.1M516.7 374.9H519.1M520.6 369.6H523M520.6 366.7H523M524.5 378.9H526.9M524.5 376H526.9M528.3 360.8H530.7M528.3 357.9H530.7M532.2 329.5H534.6M532.2 326.6H534.6M536.1 368.2H538.5M536.1 365.2H538.5M540 260.1H542.4M540 257.2H542.4M543.9 351.5H546.3M543.9 348.6H546.3M547.7 365.2H550.1M547.7 362.3H550.1M551.6 371.9H554M551.6 369H554M555.5 369.6H557.9M555.5 366.7H557.9M559.4 282.8H561.8M559.4 279.9H561.8M563.3 360.8H565.7M563.3 357.9H565.7M567.1 373.4H569.5M567.1 370.5H569.5M571 365.7H573.4M571 362.8H573.4M574.9 346.1H577.3M574.9 343.2H577.3M578.8 345.6H581.2M578.8 342.7H581.2M582.6 354.9H585M582.6 352H585M586.5 229.9H588.9M586.5 227H588.9M590.4 322.3H592.8M590.4 319.4H592.8M594.3 331.6H596.7M594.3 328.7H596.7M598.2 330.1H600.6M598.2 327.2H600.6M602 371.9H604.4M602 369H604.4M605.9 310.2H608.3M605.9 307.3H608.3M609.8 289.8H612.2M609.8 286.9H612.2M613.7 350.5H616.1M613.7 347.6H616.1M617.6 371.1H620M617.6 368.2H620M621.4 365.2H623.8M621.4 362.3H623.8M625.3 305.3H627.7M625.3 302.4H627.7M629.2 242H631.6M629.2 239.1H631.6M633.1 340.9H635.5M633.1 338H635.5M637 357.9H639.4M637 354.9H639.4M640.8 368.2H643.2M640.8 365.2H643.2M644.7 355.8H647.1M644.7 352.8H647.1M648.6 343.8H651M648.6 340.9H651M652.5 340.4H654.9M652.5 337.5H654.9" stroke="#4C72B0" stroke-width="0.8" stroke-opacity="0.4" fill="none"/>
<g fill="#4C72B0" fill-opacity="0.42" stroke="#4C72B0" stroke-opacity="0.42" stroke-width="0.5">
<circle cx="75.7" cy="377.5" r="2.8"/><circle cx="79.6" cy="369.8" r="2.8"/><circle cx="83.5" cy="363.8" r="2.8"/><circle cx="87.3" cy="367" r="2.8"/><circle cx="91.2" cy="314.8" r="2.8"/><circle cx="95.1" cy="330.1" r="2.8"/><circle cx="99" cy="336" r="2.8"/><circle cx="102.9" cy="350.1" r="2.8"/><circle cx="106.7" cy="244" r="2.8"/><circle cx="110.6" cy="309.9" r="2.8"/><circle cx="114.5" cy="354.9" r="2.8"/><circle cx="118.4" cy="362.1" r="2.8"/><circle cx="122.2" cy="242.5" r="2.8"/><circle cx="126.1" cy="242.5" r="2.8"/><circle cx="130" cy="357.9" r="2.8"/><circle cx="133.9" cy="356.4" r="2.8"/><circle cx="137.8" cy="366.7" r="2.8"/><circle cx="141.6" cy="359.4" r="2.8"/><circle cx="145.5" cy="364.6" r="2.8"/><circle cx="149.4" cy="368.2" r="2.8"/><circle cx="153.3" cy="371.9" r="2.8"/><circle cx="157.2" cy="376.3" r="2.8"/><circle cx="161" cy="376.3" r="2.8"/><circle cx="164.9" cy="377.5" r="2.8"/><circle cx="168.8" cy="372.4" r="2.8"/><circle cx="172.7" cy="377.5" r="2.8"/><circle cx="176.6" cy="367.5" r="2.8"/><circle cx="180.4" cy="371.1" r="2.8"/><circle cx="184.3" cy="374.5" r="2.8"/><circle cx="188.2" cy="373.9" r="2.8"/><circle cx="192.1" cy="376.3" r="2.8"/><circle cx="195.9" cy="377.5" r="2.8"/><circle cx="199.8" cy="378" r="2.8"/><circle cx="203.7" cy="377.5" r="2.8"/><circle cx="207.6" cy="369.6" r="2.8"/><circle cx="211.5" cy="377.8" r="2.8"/><circle cx="215.3" cy="378.4" r="2.8"/><circle cx="219.2" cy="379.3" r="2.8"/><circle cx="223.1" cy="366.7" r="2.8"/><circle cx="227" cy="373.4" r="2.8"/><circle cx="230.9" cy="379.3" r="2.8"/><circle cx="234.7" cy="380.4" r="2.8"/><circle cx="238.6" cy="380.4" r="2.8"/><circle cx="242.5" cy="380.4" r="2.8"/><circle cx="246.4" cy="380.4" r="2.8"/><circle cx="250.3" cy="379.3" r="2.8"/><circle cx="254.1" cy="371.9" r="2.8"/><circle cx="258" cy="377.5" r="2.8"/><circle cx="261.9" cy="345.8" r="2.8"/><circle cx="265.8" cy="277.3" r="2.8"/><circle cx="269.6" cy="256" r="2.8"/><circle cx="273.5" cy="309.9" r="2.8"/><circle cx="277.4" cy="347.6" r="2.8"/><circle cx="281.3" cy="360.8" r="2.8"/><circle cx="285.2" cy="347.1" r="2.8"/><circle cx="289" cy="343.4" r="2.8"/><circle cx="292.9" cy="343.4" r="2.8"/><circle cx="296.8" cy="368.2" r="2.8"/><circle cx="300.7" cy="367.5" r="2.8"/><circle cx="304.6" cy="376.3" r="2.8"/><circle cx="308.4" cy="352" r="2.8"/><circle cx="312.3" cy="369.6" r="2.8"/><circle cx="316.2" cy="346.1" r="2.8"/><circle cx="320.1" cy="308.3" r="2.8"/><circle cx="324" cy="361.6" r="2.8"/><circle cx="327.8" cy="373.4" r="2.8"/><circle cx="331.7" cy="363.8" r="2.8"/><circle cx="335.6" cy="376.8" r="2.8"/><circle cx="339.5" cy="374.5" r="2.8"/><circle cx="343.4" cy="367.5" r="2.8"/><circle cx="347.2" cy="365.7" r="2.8"/><circle cx="351.1" cy="349.1" r="2.8"/><circle cx="355" cy="365.2" r="2.8"/><circle cx="358.9" cy="376.8" r="2.8"/><circle cx="362.7" cy="375.3" r="2.8"/><circle cx="366.6" cy="369.6" r="2.8"/><circle cx="370.5" cy="366.7" r="2.8"/><circle cx="374.4" cy="376.8" r="2.8"/><circle cx="378.3" cy="375.3" r="2.8"/><circle cx="382.1" cy="372.4" r="2.8"/><circle cx="386" cy="369.6" r="2.8"/><circle cx="389.9" cy="369.6" r="2.8"/><circle cx="393.8" cy="375.3" r="2.8"/><circle cx="397.7" cy="372.4" r="2.8"/><circle cx="401.5" cy="366.7" r="2.8"/><circle cx="405.4" cy="377.5" r="2.8"/><circle cx="409.3" cy="369.6" r="2.8"/><circle cx="413.2" cy="377.5" r="2.8"/><circle cx="417.1" cy="375.3" r="2.8"/><circle cx="420.9" cy="362.3" r="2.8"/><circle cx="424.8" cy="375.3" r="2.8"/><circle cx="428.7" cy="359.8" r="2.8"/><circle cx="432.6" cy="374.5" r="2.8"/><circle cx="436.4" cy="377.5" r="2.8"/><circle cx="440.3" cy="359.8" r="2.8"/><circle cx="444.2" cy="373.9" r="2.8"/><circle cx="448.1" cy="375.3" r="2.8"/><circle cx="452" cy="370.5" r="2.8"/><circle cx="455.8" cy="378.4" r="2.8"/><circle cx="459.7" cy="377.5" r="2.8"/><circle cx="463.6" cy="379.8" r="2.8"/><circle cx="467.5" cy="352" r="2.8"/><circle cx="471.4" cy="327.2" r="2.8"/><circle cx="475.2" cy="339" r="2.8"/><circle cx="479.1" cy="370.9" r="2.8"/><circle cx="483" cy="376.8" r="2.8"/><circle cx="486.9" cy="363.8" r="2.8"/><circle cx="490.8" cy="355.8" r="2.8"/><circle cx="494.6" cy="356.4" r="2.8"/><circle cx="498.5" cy="271.7" r="2.8"/><circle cx="502.4" cy="304.5" r="2.8"/><circle cx="506.3" cy="353" r="2.8"/><circle cx="510.1" cy="342.4" r="2.8"/><circle cx="514" cy="359.8" r="2.8"/><circle cx="517.9" cy="376.3" r="2.8"/><circle cx="521.8" cy="368.2" r="2.8"/><circle cx="525.7" cy="377.5" r="2.8"/><circle cx="529.5" cy="359.4" r="2.8"/><circle cx="533.4" cy="328" r="2.8"/><circle cx="537.3" cy="366.7" r="2.8"/><circle cx="541.2" cy="258.7" r="2.8"/><circle cx="545.1" cy="350.1" r="2.8"/><circle cx="548.9" cy="363.8" r="2.8"/><circle cx="552.8" cy="370.5" r="2.8"/><circle cx="556.7" cy="368.2" r="2.8"/><circle cx="560.6" cy="281.3" r="2.8"/><circle cx="564.5" cy="359.4" r="2.8"/><circle cx="568.3" cy="371.9" r="2.8"/><circle cx="572.2" cy="364.2" r="2.8"/><circle cx="576.1" cy="344.7" r="2.8"/><circle cx="580" cy="344.2" r="2.8"/><circle cx="583.8" cy="353.5" r="2.8"/><circle cx="587.7" cy="228.5" r="2.8"/><circle cx="591.6" cy="320.8" r="2.8"/><circle cx="595.5" cy="330.1" r="2.8"/><circle cx="599.4" cy="328.7" r="2.8"/><circle cx="603.2" cy="370.5" r="2.8"/><circle cx="607.1" cy="308.8" r="2.8"/><circle cx="611" cy="288.4" r="2.8"/><circle cx="614.9" cy="349.1" r="2.8"/><circle cx="618.8" cy="369.6" r="2.8"/><circle cx="622.6" cy="363.8" r="2.8"/><circle cx="626.5" cy="303.9" r="2.8"/><circle cx="630.4" cy="240.5" r="2.8"/><circle cx="634.3" cy="339.4" r="2.8"/><circle cx="638.2" cy="356.4" r="2.8"/><circle cx="642" cy="366.7" r="2.8"/><circle cx="645.9" cy="354.3" r="2.8"/><circle cx="649.8" cy="342.4" r="2.8"/><circle cx="653.7" cy="339" r="2.8"/>
</g>
<polyline points="75.7,336.5 79.6,338.3 83.5,334.4 87.3,341.9 91.2,353 95.1,352 99,356.4 102.9,352 106.7,382.7 110.6,350.1 114.5,344.2 118.4,351.5 122.2,383.5 126.1,383.5 130,354.1 133.9,350.7 137.8,347.6 141.6,352 145.5,347.6 149.4,346.1 153.3,352 157.2,347.1 161,347.6 164.9,346.1 168.8,344.7 172.7,345.6 176.6,344.7 180.4,347.6 184.3,350.1 188.2,352 192.1,354.1 195.9,343.4 199.8,347.6 203.7,346.1 207.6,350.7 211.5,346.1 215.3,352 219.2,346.1 223.1,347.6 227,350.7 230.9,345.3 234.7,343.4 238.6,347.6 242.5,350.1 246.4,347.6 250.3,330.8 254.1,337.5 258,346.1 261.9,346.1 265.8,366.7 269.6,376.8 273.5,360.8 277.4,339 281.3,333.1 285.2,352.7 289,352 292.9,346.1 296.8,343.4 300.7,349.1 304.6,338 308.4,322.3 312.3,302.4 316.2,326.7 320.1,346.1 324,319.9 327.8,323 331.7,330.1 335.6,317.1 339.5,317.9 343.4,328.7 347.2,339 351.1,343.4 355,337.5 358.9,347.6 362.7,347.6 366.6,346.8 370.5,353.5 374.4,349.1 378.3,344.7 382.1,347.1 386,353 389.9,350.1 393.8,350.7 397.7,350.1 401.5,350.1 405.4,341.2 409.3,353.5 413.2,351.5 417.1,340.4 420.9,347.6 424.8,349.7 428.7,352.7 432.6,344.7 436.4,345.3 440.3,352 444.2,346.1 448.1,346.8 452,353.5 455.8,353.5 459.7,354.9 463.6,352 467.5,329.5 471.4,322.3 475.2,331.6 479.1,329.5 483,315 486.9,328 490.8,328 494.6,312.7 498.5,354 502.4,339 506.3,328.7 510.1,342.4 514,338.3 517.9,303.9 521.8,315.6 525.7,319.9 529.5,330.1 533.4,343.4 537.3,298 541.2,370.5 545.1,325.7 548.9,320.8 552.8,314.1 556.7,306.8 560.6,358.7 564.5,302.4 568.3,294.2 572.2,324.9 576.1,336 580,301.7 583.8,295.1 587.7,386.4 591.6,311.2 595.5,308.8 599.4,326.7 603.2,291.6 607.1,331.6 611,351.2 614.9,305.3 618.8,309.7 622.6,327.2 626.5,353 630.4,385 634.3,324.3 638.2,327.2 642,323.8 645.9,323 649.8,336.8 653.7,337.5" fill="none" stroke="#C44E52" stroke-width="0.8" stroke-opacity="0.35" stroke-linejoin="round"/>
<path d="M75.7 338.8V334.2M79.6 340.6V336M83.5 336.7V332.1M87.3 344.2V339.6M91.2 355.3V350.7M95.1 354.3V349.7M99 358.7V354.1M102.9 354.3V349.7M106.7 385V380.4M110.6 352.3V347.8M114.5 346.5V341.9M118.4 353.8V349.2M122.2 385.8V381.2M126.1 385.8V381.2M130 356.4V351.8M133.9 353V348.4M137.8 349.9V345.3M141.6 354.3V349.7M145.5 349.9V345.3M149.4 348.4V343.8M153.3 354.3V349.7M157.2 349.4V344.8M161 349.9V345.3M164.9 348.4V343.8M168.8 347V342.4M172.7 347.9V343.4M176.6 347V342.4M180.4 349.9V345.3M184.3 352.3V347.8M188.2 354.3V349.7M192.1 356.4V351.8M195.9 345.6V341.1M199.8 349.9V345.3M203.7 348.4V343.8M207.6 353V348.4M211.5 348.4V343.8M215.3 354.3V349.7M219.2 348.4V343.8M223.1 349.9V345.3M227 353V348.4M230.9 347.6V343M234.7 345.6V341.1M238.6 349.9V345.3M242.5 352.3V347.8M246.4 349.9V345.3M250.3 333.1V328.5M254.1 339.8V335.2M258 348.4V343.8M261.9 348.4V343.8M265.8 369V364.4M269.6 379.1V374.5M273.5 363.1V358.5M277.4 341.2V336.7M281.3 335.4V330.8M285.2 354.9V350.4M289 354.3V349.7M292.9 348.4V343.8M296.8 345.6V341.1M300.7 351.4V346.8M304.6 340.3V335.7M308.4 324.6V320M312.3 304.7V300.1M316.2 329V324.4M320.1 348.4V343.8M324 322.1V317.6M327.8 325.2V320.7M331.7 332.4V327.9M335.6 319.4V314.8M339.5 320.2V315.6M343.4 331V326.4M347.2 341.2V336.7M351.1 345.6V341.1M355 339.8V335.2M358.9 349.9V345.3M362.7 349.9V345.3M366.6 349.1V344.5M370.5 355.8V351.2M374.4 351.4V346.8M378.3 347V342.4M382.1 349.4V344.8M386 355.3V350.7M389.9 352.3V347.8M393.8 353V348.4M397.7 352.3V347.8M401.5 352.3V347.8M405.4 343.5V339M409.3 355.8V351.2M413.2 353.8V349.2M417.1 342.7V338.1M420.9 349.9V345.3M424.8 352V347.4M428.7 354.9V350.4M432.6 347V342.4M436.4 347.6V343M440.3 354.3V349.7M444.2 348.4V343.8M448.1 349.1V344.5M452 355.8V351.2M455.8 355.8V351.2M459.7 357.2V352.7M463.6 354.3V349.7M467.5 331.8V327.2M471.4 324.6V320M475.2 333.9V329.3M479.1 331.8V327.2M483 317.2V312.7M486.9 330.3V325.7M490.8 330.3V325.7M494.6 315V310.4M498.5 356.3V351.7M502.4 341.2V336.7M506.3 331V326.4M510.1 344.7V340.1M514 340.6V336M517.9 306.2V301.6M521.8 317.9V313.3M525.7 322.1V317.6M529.5 332.4V327.9M533.4 345.6V341.1M537.3 300.3V295.7M541.2 372.7V368.2M545.1 328V323.4M548.9 323.1V318.6M552.8 316.4V311.9M556.7 309.1V304.5M560.6 361V356.4M564.5 304.7V300.1M568.3 296.5V292M572.2 327.2V322.6M576.1 338.3V333.7M580 304V299.5M583.8 297.3V292.8M587.7 388.7V384.2M591.6 313.5V308.9M595.5 311V306.5M599.4 329V324.4M603.2 293.9V289.3M607.1 333.9V329.3M611 353.5V348.9M614.9 307.6V303M618.8 312V307.5M622.6 329.5V324.9M626.5 355.3V350.7M630.4 387.3V382.7M634.3 326.6V322M638.2 329.5V324.9M642 326.1V321.5M645.9 325.2V320.7M649.8 339.1V334.5M653.7 339.8V335.2M74.5 338.8H76.9M74.5 334.2H76.9M78.4 340.6H80.8M78.4 336H80.8M82.3 336.7H84.7M82.3 332.1H84.7M86.1 344.2H88.5M86.1 339.6H88.5M90 355.3H92.4M90 350.7H92.4M93.9 354.3H96.3M93.9 349.7H96.3M97.8 358.7H100.2M97.8 354.1H100.2M101.7 354.3H104.1M101.7 349.7H104.1M105.5 385H107.9M105.5 380.4H107.9M109.4 352.3H111.8M109.4 347.8H111.8M113.3 346.5H115.7M113.3 341.9H115.7M117.2 353.8H119.6M117.2 349.2H119.6M121 385.8H123.4M121 381.2H123.4M124.9 385.8H127.3M124.9 381.2H127.3M128.8 356.4H131.2M128.8 351.8H131.2M132.7 353H135.1M132.7 348.4H135.1M136.6 349.9H139M136.6 345.3H139M140.4 354.3H142.8M140.4 349.7H142.8M144.3 349.9H146.7M144.3 345.3H146.7M148.2 348.4H150.6M148.2 343.8H150.6M152.1 354.3H154.5M152.1 349.7H154.5M156 349.4H158.4M156 344.8H158.4M159.8 349.9H162.2M159.8 345.3H162.2M163.7 348.4H166.1M163.7 343.8H166.1M167.6 347H170M167.6 342.4H170M171.5 347.9H173.9M171.5 343.4H173.9M175.4 347H177.8M175.4 342.4H177.8M179.2 349.9H181.6M179.2 345.3H181.6M183.1 352.3H185.5M183.1 347.8H185.5M187 354.3H189.4M187 349.7H189.4M190.9 356.4H193.3M190.9 351.8H193.3M194.7 345.6H197.1M194.7 341.1H197.1M198.6 349.9H201M198.6 345.3H201M202.5 348.4H204.9M202.5 343.8H204.9M206.4 353H208.8M206.4 348.4H208.8M210.3 348.4H212.7M210.3 343.8H212.7M214.1 354.3H216.5M214.1 349.7H216.5M218 348.4H220.4M218 343.8H220.4M221.9 349.9H224.3M221.9 345.3H224.3M225.8 353H228.2M225.8 348.4H228.2M229.7 347.6H232.1M229.7 343H232.1M233.5 345.6H235.9M233.5 341.1H235.9M237.4 349.9H239.8M237.4 345.3H239.8M241.3 352.3H243.7M241.3 347.8H243.7M245.2 349.9H247.6M245.2 345.3H247.6M249.1 333.1H251.5M249.1 328.5H251.5M252.9 339.8H255.3M252.9 335.2H255.3M256.8 348.4H259.2M256.8 343.8H259.2M260.7 348.4H263.1M260.7 343.8H263.1M264.6 369H267M264.6 364.4H267M268.4 379.1H270.8M268.4 374.5H270.8M272.3 363.1H274.7M272.3 358.5H274.7M276.2 341.2H278.6M276.2 336.7H278.6M280.1 335.4H282.5M280.1 330.8H282.5M284 354.9H286.4M284 350.4H286.4M287.8 354.3H290.2M287.8 349.7H290.2M291.7 348.4H294.1M291.7 343.8H294.1M295.6 345.6H298M295.6 341.1H298M299.5 351.4H301.9M299.5 346.8H301.9M303.4 340.3H305.8M303.4 335.7H305.8M307.2 324.6H309.6M307.2 320H309.6M311.1 304.7H313.5M311.1 300.1H313.5M315 329H317.4M315 324.4H317.4M318.9 348.4H321.3M318.9 343.8H321.3M322.8 322.1H325.2M322.8 317.6H325.2M326.6 325.2H329M326.6 320.7H329M330.5 332.4H332.9M330.5 327.9H332.9M334.4 319.4H336.8M334.4 314.8H336.8M338.3 320.2H340.7M338.3 315.6H340.7M342.2 331H344.6M342.2 326.4H344.6M346 341.2H348.4M346 336.7H348.4M349.9 345.6H352.3M349.9 341.1H352.3M353.8 339.8H356.2M353.8 335.2H356.2M357.7 349.9H360.1M357.7 345.3H360.1M361.5 349.9H363.9M361.5 345.3H363.9M365.4 349.1H367.8M365.4 344.5H367.8M369.3 355.8H371.7M369.3 351.2H371.7M373.2 351.4H375.6M373.2 346.8H375.6M377.1 347H379.5M377.1 342.4H379.5M380.9 349.4H383.3M380.9 344.8H383.3M384.8 355.3H387.2M384.8 350.7H387.2M388.7 352.3H391.1M388.7 347.8H391.1M392.6 353H395M392.6 348.4H395M396.5 352.3H398.9M396.5 347.8H398.9M400.3 352.3H402.7M400.3 347.8H402.7M404.2 343.5H406.6M404.2 339H406.6M408.1 355.8H410.5M408.1 351.2H410.5M412 353.8H414.4M412 349.2H414.4M415.9 342.7H418.3M415.9 338.1H418.3M419.7 349.9H422.1M419.7 345.3H422.1M423.6 352H426M423.6 347.4H426M427.5 354.9H429.9M427.5 350.4H429.9M431.4 347H433.8M431.4 342.4H433.8M435.2 347.6H437.6M435.2 343H437.6M439.1 354.3H441.5M439.1 349.7H441.5M443 348.4H445.4M443 343.8H445.4M446.9 349.1H449.3M446.9 344.5H449.3M450.8 355.8H453.2M450.8 351.2H453.2M454.6 355.8H457M454.6 351.2H457M458.5 357.2H460.9M458.5 352.7H460.9M462.4 354.3H464.8M462.4 349.7H464.8M466.3 331.8H468.7M466.3 327.2H468.7M470.2 324.6H472.6M470.2 320H472.6M474 333.9H476.4M474 329.3H476.4M477.9 331.8H480.3M477.9 327.2H480.3M481.8 317.2H484.2M481.8 312.7H484.2M485.7 330.3H488.1M485.7 325.7H488.1M489.6 330.3H492M489.6 325.7H492M493.4 315H495.8M493.4 310.4H495.8M497.3 356.3H499.7M497.3 351.7H499.7M501.2 341.2H503.6M501.2 336.7H503.6M505.1 331H507.5M505.1 326.4H507.5M508.9 344.7H511.3M508.9 340.1H511.3M512.8 340.6H515.2M512.8 336H515.2M516.7 306.2H519.1M516.7 301.6H519.1M520.6 317.9H523M520.6 313.3H523M524.5 322.1H526.9M524.5 317.6H526.9M528.3 332.4H530.7M528.3 327.9H530.7M532.2 345.6H534.6M532.2 341.1H534.6M536.1 300.3H538.5M536.1 295.7H538.5M540 372.7H542.4M540 368.2H542.4M543.9 328H546.3M543.9 323.4H546.3M547.7 323.1H550.1M547.7 318.6H550.1M551.6 316.4H554M551.6 311.9H554M555.5 309.1H557.9M555.5 304.5H557.9M559.4 361H561.8M559.4 356.4H561.8M563.3 304.7H565.7M563.3 300.1H565.7M567.1 296.5H569.5M567.1 292H569.5M571 327.2H573.4M571 322.6H573.4M574.9 338.3H577.3M574.9 333.7H577.3M578.8 304H581.2M578.8 299.5H581.2M582.6 297.3H585M582.6 292.8H585M586.5 388.7H588.9M586.5 384.2H588.9M590.4 313.5H592.8M590.4 308.9H592.8M594.3 311H596.7M594.3 306.5H596.7M598.2 329H600.6M598.2 324.4H600.6M602 293.9H604.4M602 289.3H604.4M605.9 333.9H608.3M605.9 329.3H608.3M609.8 353.5H612.2M609.8 348.9H612.2M613.7 307.6H616.1M613.7 303H616.1M617.6 312H620M617.6 307.5H620M621.4 329.5H623.8M621.4 324.9H623.8M625.3 355.3H627.7M625.3 350.7H627.7M629.2 387.3H631.6M629.2 382.7H631.6M633.1 326.6H635.5M633.1 322H635.5M637 329.5H639.4M637 324.9H639.4M640.8 326.1H643.2M640.8 321.5H643.2M644.7 325.2H647.1M644.7 320.7H647.1M648.6 339.1H651M648.6 334.5H651M652.5 339.8H654.9M652.5 335.2H654.9" stroke="#C44E52" stroke-width="0.8" stroke-opacity="0.4" fill="none"/>
<g fill="#C44E52" fill-opacity="0.42" stroke="#C44E52" stroke-opacity="0.42" stroke-width="0.5">
<circle cx="75.7" cy="336.5" r="2.8"/><circle cx="79.6" cy="338.3" r="2.8"/><circle cx="83.5" cy="334.4" r="2.8"/><circle cx="87.3" cy="341.9" r="2.8"/><circle cx="91.2" cy="353" r="2.8"/><circle cx="95.1" cy="352" r="2.8"/><circle cx="99" cy="356.4" r="2.8"/><circle cx="102.9" cy="352" r="2.8"/><circle cx="106.7" cy="382.7" r="2.8"/><circle cx="110.6" cy="350.1" r="2.8"/><circle cx="114.5" cy="344.2" r="2.8"/><circle cx="118.4" cy="351.5" r="2.8"/><circle cx="122.2" cy="383.5" r="2.8"/><circle cx="126.1" cy="383.5" r="2.8"/><circle cx="130" cy="354.1" r="2.8"/><circle cx="133.9" cy="350.7" r="2.8"/><circle cx="137.8" cy="347.6" r="2.8"/><circle cx="141.6" cy="352" r="2.8"/><circle cx="145.5" cy="347.6" r="2.8"/><circle cx="149.4" cy="346.1" r="2.8"/><circle cx="153.3" cy="352" r="2.8"/><circle cx="157.2" cy="347.1" r="2.8"/><circle cx="161" cy="347.6" r="2.8"/><circle cx="164.9" cy="346.1" r="2.8"/><circle cx="168.8" cy="344.7" r="2.8"/><circle cx="172.7" cy="345.6" r="2.8"/><circle cx="176.6" cy="344.7" r="2.8"/><circle cx="180.4" cy="347.6" r="2.8"/><circle cx="184.3" cy="350.1" r="2.8"/><circle cx="188.2" cy="352" r="2.8"/><circle cx="192.1" cy="354.1" r="2.8"/><circle cx="195.9" cy="343.4" r="2.8"/><circle cx="199.8" cy="347.6" r="2.8"/><circle cx="203.7" cy="346.1" r="2.8"/><circle cx="207.6" cy="350.7" r="2.8"/><circle cx="211.5" cy="346.1" r="2.8"/><circle cx="215.3" cy="352" r="2.8"/><circle cx="219.2" cy="346.1" r="2.8"/><circle cx="223.1" cy="347.6" r="2.8"/><circle cx="227" cy="350.7" r="2.8"/><circle cx="230.9" cy="345.3" r="2.8"/><circle cx="234.7" cy="343.4" r="2.8"/><circle cx="238.6" cy="347.6" r="2.8"/><circle cx="242.5" cy="350.1" r="2.8"/><circle cx="246.4" cy="347.6" r="2.8"/><circle cx="250.3" cy="330.8" r="2.8"/><circle cx="254.1" cy="337.5" r="2.8"/><circle cx="258" cy="346.1" r="2.8"/><circle cx="261.9" cy="346.1" r="2.8"/><circle cx="265.8" cy="366.7" r="2.8"/><circle cx="269.6" cy="376.8" r="2.8"/><circle cx="273.5" cy="360.8" r="2.8"/><circle cx="277.4" cy="339" r="2.8"/><circle cx="281.3" cy="333.1" r="2.8"/><circle cx="285.2" cy="352.7" r="2.8"/><circle cx="289" cy="352" r="2.8"/><circle cx="292.9" cy="346.1" r="2.8"/><circle cx="296.8" cy="343.4" r="2.8"/><circle cx="300.7" cy="349.1" r="2.8"/><circle cx="304.6" cy="338" r="2.8"/><circle cx="308.4" cy="322.3" r="2.8"/><circle cx="312.3" cy="302.4" r="2.8"/><circle cx="316.2" cy="326.7" r="2.8"/><circle cx="320.1" cy="346.1" r="2.8"/><circle cx="324" cy="319.9" r="2.8"/><circle cx="327.8" cy="323" r="2.8"/><circle cx="331.7" cy="330.1" r="2.8"/><circle cx="335.6" cy="317.1" r="2.8"/><circle cx="339.5" cy="317.9" r="2.8"/><circle cx="343.4" cy="328.7" r="2.8"/><circle cx="347.2" cy="339" r="2.8"/><circle cx="351.1" cy="343.4" r="2.8"/><circle cx="355" cy="337.5" r="2.8"/><circle cx="358.9" cy="347.6" r="2.8"/><circle cx="362.7" cy="347.6" r="2.8"/><circle cx="366.6" cy="346.8" r="2.8"/><circle cx="370.5" cy="353.5" r="2.8"/><circle cx="374.4" cy="349.1" r="2.8"/><circle cx="378.3" cy="344.7" r="2.8"/><circle cx="382.1" cy="347.1" r="2.8"/><circle cx="386" cy="353" r="2.8"/><circle cx="389.9" cy="350.1" r="2.8"/><circle cx="393.8" cy="350.7" r="2.8"/><circle cx="397.7" cy="350.1" r="2.8"/><circle cx="401.5" cy="350.1" r="2.8"/><circle cx="405.4" cy="341.2" r="2.8"/><circle cx="409.3" cy="353.5" r="2.8"/><circle cx="413.2" cy="351.5" r="2.8"/><circle cx="417.1" cy="340.4" r="2.8"/><circle cx="420.9" cy="347.6" r="2.8"/><circle cx="424.8" cy="349.7" r="2.8"/><circle cx="428.7" cy="352.7" r="2.8"/><circle cx="432.6" cy="344.7" r="2.8"/><circle cx="436.4" cy="345.3" r="2.8"/><circle cx="440.3" cy="352" r="2.8"/><circle cx="444.2" cy="346.1" r="2.8"/><circle cx="448.1" cy="346.8" r="2.8"/><circle cx="452" cy="353.5" r="2.8"/><circle cx="455.8" cy="353.5" r="2.8"/><circle cx="459.7" cy="354.9" r="2.8"/><circle cx="463.6" cy="352" r="2.8"/><circle cx="467.5" cy="329.5" r="2.8"/><circle cx="471.4" cy="322.3" r="2.8"/><circle cx="475.2" cy="331.6" r="2.8"/><circle cx="479.1" cy="329.5" r="2.8"/><circle cx="483" cy="315" r="2.8"/><circle cx="486.9" cy="328" r="2.8"/><circle cx="490.8" cy="328" r="2.8"/><circle cx="494.6" cy="312.7" r="2.8"/><circle cx="498.5" cy="354" r="2.8"/><circle cx="502.4" cy="339" r="2.8"/><circle cx="506.3" cy="328.7" r="2.8"/><circle cx="510.1" cy="342.4" r="2.8"/><circle cx="514" cy="338.3" r="2.8"/><circle cx="517.9" cy="303.9" r="2.8"/><circle cx="521.8" cy="315.6" r="2.8"/><circle cx="525.7" cy="319.9" r="2.8"/><circle cx="529.5" cy="330.1" r="2.8"/><circle cx="533.4" cy="343.4" r="2.8"/><circle cx="537.3" cy="298" r="2.8"/><circle cx="541.2" cy="370.5" r="2.8"/><circle cx="545.1" cy="325.7" r="2.8"/><circle cx="548.9" cy="320.8" r="2.8"/><circle cx="552.8" cy="314.1" r="2.8"/><circle cx="556.7" cy="306.8" r="2.8"/><circle cx="560.6" cy="358.7" r="2.8"/><circle cx="564.5" cy="302.4" r="2.8"/><circle cx="568.3" cy="294.2" r="2.8"/><circle cx="572.2" cy="324.9" r="2.8"/><circle cx="576.1" cy="336" r="2.8"/><circle cx="580" cy="301.7" r="2.8"/><circle cx="583.8" cy="295.1" r="2.8"/><circle cx="587.7" cy="386.4" r="2.8"/><circle cx="591.6" cy="311.2" r="2.8"/><circle cx="595.5" cy="308.8" r="2.8"/><circle cx="599.4" cy="326.7" r="2.8"/><circle cx="603.2" cy="291.6" r="2.8"/><circle cx="607.1" cy="331.6" r="2.8"/><circle cx="611" cy="351.2" r="2.8"/><circle cx="614.9" cy="305.3" r="2.8"/><circle cx="618.8" cy="309.7" r="2.8"/><circle cx="622.6" cy="327.2" r="2.8"/><circle cx="626.5" cy="353" r="2.8"/><circle cx="630.4" cy="385" r="2.8"/><circle cx="634.3" cy="324.3" r="2.8"/><circle cx="638.2" cy="327.2" r="2.8"/><circle cx="642" cy="323.8" r="2.8"/><circle cx="645.9" cy="323" r="2.8"/><circle cx="649.8" cy="336.8" r="2.8"/><circle cx="653.7" cy="337.5" r="2.8"/>
</g>
<polyline points="75.7,320.5 79.6,320.8 83.5,327.2 87.3,317.1 91.2,350.7 95.1,339.3 99,334.4 102.9,328.7 106.7,380.1 110.6,357.9 114.5,328.7 118.4,321.3 122.2,381.2 126.1,381.2 130,323 133.9,327.9 137.8,323 141.6,322.3 145.5,325.7 149.4,317.1 153.3,308.3 157.2,306.8 161,305.3 164.9,306.2 168.8,305.3 172.7,303.9 176.6,311.7 180.4,309.9 184.3,305.3 188.2,306.6 192.1,299.5 195.9,311.2 199.8,316.1 203.7,313.2 207.6,315.6 211.5,317.1 215.3,309.1 219.2,309.9 223.1,318.4 227,308.3 230.9,306.8 234.7,309.1 238.6,303.9 242.5,305.3 246.4,305.3 250.3,315.6 254.1,318.4 258,309.1 261.9,328 265.8,368.2 269.6,379.8 273.5,351.5 277.4,333.6 281.3,327.2 285.2,323 289,325.2 292.9,331.6 296.8,319.9 300.7,317.9 304.6,319 308.4,343.4 312.3,346.1 316.2,347.1 320.1,359.8 324,340.4 327.8,324.3 331.7,329.5 335.6,334.5 339.5,339 343.4,328.7 347.2,320.5 351.1,330.8 355,323 358.9,310.6 362.7,311.2 366.6,311.2 370.5,305.3 374.4,305.3 378.3,312.7 382.1,319 386,311.2 389.9,315.6 393.8,311.2 397.7,320.8 401.5,319.9 405.4,312.7 409.3,311.2 413.2,311.2 417.1,314.1 420.9,319 424.8,312.7 428.7,311.2 432.6,309.9 436.4,309.9 440.3,318.4 444.2,306.8 448.1,311.2 452,305.3 455.8,296.5 459.7,296.5 463.6,293.6 467.5,333.1 471.4,360.8 475.2,343.4 479.1,321.3 483,335.4 486.9,328 490.8,336 494.6,344.7 498.5,379.8 502.4,363.8 506.3,328.7 510.1,342.4 514,317.1 517.9,334.5 521.8,328 525.7,319.9 529.5,320.5 533.4,337.5 537.3,345.3 541.2,374.9 545.1,337.5 548.9,329.5 552.8,330.8 556.7,333.6 560.6,366.7 564.5,347.6 568.3,345.3 572.2,324.3 576.1,330.1 580,360.8 583.8,360.8 587.7,387.1 591.6,373.9 595.5,369.6 599.4,354.3 603.2,346.8 607.1,366.7 611,368.2 614.9,357.9 618.8,337.5 622.6,327.9 626.5,356.4 630.4,384.2 634.3,354.1 638.2,338 642,331.6 645.9,338.3 649.8,338.3 653.7,340.4" fill="none" stroke="#CCB974" stroke-width="0.8" stroke-opacity="0.35" stroke-linejoin="round"/>
<path d="M75.7 325.9V315.1M79.6 326.2V315.5M83.5 332.6V321.8M87.3 322.5V311.7M91.2 356.1V345.3M95.1 344.7V333.9M99 339.8V329M102.9 334.1V323.3M106.7 385.5V374.7M110.6 363.3V352.5M114.5 334.1V323.3M118.4 326.7V315.9M122.2 386.6V375.8M126.1 386.6V375.8M130 328.3V317.6M133.9 333.2V322.5M137.8 328.3V317.6M141.6 327.7V316.9M145.5 331.1V320.3M149.4 322.5V311.7M153.3 313.7V302.9M157.2 312.2V301.4M161 310.7V299.9M164.9 311.5V300.8M168.8 310.7V299.9M172.7 309.3V298.5M176.6 317.1V306.3M180.4 315.3V304.5M184.3 310.7V299.9M188.2 312V301.3M192.1 304.8V294.1M195.9 316.6V305.8M199.8 321.5V310.7M203.7 318.6V307.8M207.6 321V310.2M211.5 322.5V311.7M215.3 314.5V303.7M219.2 315.3V304.5M223.1 323.8V313M227 313.7V302.9M230.9 312.2V301.4M234.7 314.5V303.7M238.6 309.3V298.5M242.5 310.7V299.9M246.4 310.7V299.9M250.3 321V310.2M254.1 323.8V313M258 314.5V303.7M261.9 333.4V322.6M265.8 373.6V362.8M269.6 385.1V374.4M273.5 356.9V346.1M277.4 339V328.2M281.3 332.6V321.8M285.2 328.3V317.6M289 330.6V319.9M292.9 337V326.2M296.8 325.2V314.5M300.7 323.3V312.5M304.6 324.4V313.7M308.4 348.7V338M312.3 351.5V340.7M316.2 352.5V341.7M320.1 365.2V354.5M324 345.8V335M327.8 329.7V318.9M331.7 334.9V324.1M335.6 339.9V329.2M339.5 344.3V333.6M343.4 334.1V323.3M347.2 325.9V315.1M351.1 336.2V325.4M355 328.3V317.6M358.9 315.9V305.2M362.7 316.6V305.8M366.6 316.6V305.8M370.5 310.7V299.9M374.4 310.7V299.9M378.3 318.1V307.3M382.1 324.4V313.7M386 316.6V305.8M389.9 321V310.2M393.8 316.6V305.8M397.7 326.2V315.5M401.5 325.2V314.5M405.4 318.1V307.3M409.3 316.6V305.8M413.2 316.6V305.8M417.1 319.5V308.8M420.9 324.4V313.7M424.8 318.1V307.3M428.7 316.6V305.8M432.6 315.3V304.5M436.4 315.3V304.5M440.3 323.8V313M444.2 312.2V301.4M448.1 316.6V305.8M452 310.7V299.9M455.8 301.9V291.1M459.7 301.9V291.1M463.6 299V288.2M467.5 338.5V327.7M471.4 366.2V355.4M475.2 348.7V338M479.1 326.7V315.9M483 340.7V330M486.9 333.4V322.6M490.8 341.4V330.6M494.6 350.1V339.3M498.5 385.1V374.4M502.4 369.1V358.4M506.3 334.1V323.3M510.1 347.8V337M514 322.5V311.7M517.9 339.9V329.2M521.8 333.4V322.6M525.7 325.2V314.5M529.5 325.9V315.1M533.4 342.9V332.1M537.3 350.7V339.9M541.2 380.2V369.5M545.1 342.9V332.1M548.9 334.9V324.1M552.8 336.2V325.4M556.7 339V328.2M560.6 372.1V361.3M564.5 353V342.2M568.3 350.7V339.9M572.2 329.7V318.9M576.1 335.5V324.8M580 366.2V355.4M583.8 366.2V355.4M587.7 392.5V381.7M591.6 379.3V368.5M595.5 375V364.2M599.4 359.7V348.9M603.2 352.2V341.4M607.1 372.1V361.3M611 373.6V362.8M614.9 363.3V352.5M618.8 342.9V332.1M622.6 333.2V322.5M626.5 361.8V351M630.4 389.5V378.8M634.3 359.5V348.7M638.2 343.4V332.6M642 337V326.2M645.9 343.7V332.9M649.8 343.7V332.9M653.7 345.8V335M74.5 325.9H76.9M74.5 315.1H76.9M78.4 326.2H80.8M78.4 315.5H80.8M82.3 332.6H84.7M82.3 321.8H84.7M86.1 322.5H88.5M86.1 311.7H88.5M90 356.1H92.4M90 345.3H92.4M93.9 344.7H96.3M93.9 333.9H96.3M97.8 339.8H100.2M97.8 329H100.2M101.7 334.1H104.1M101.7 323.3H104.1M105.5 385.5H107.9M105.5 374.7H107.9M109.4 363.3H111.8M109.4 352.5H111.8M113.3 334.1H115.7M113.3 323.3H115.7M117.2 326.7H119.6M117.2 315.9H119.6M121 386.6H123.4M121 375.8H123.4M124.9 386.6H127.3M124.9 375.8H127.3M128.8 328.3H131.2M128.8 317.6H131.2M132.7 333.2H135.1M132.7 322.5H135.1M136.6 328.3H139M136.6 317.6H139M140.4 327.7H142.8M140.4 316.9H142.8M144.3 331.1H146.7M144.3 320.3H146.7M148.2 322.5H150.6M148.2 311.7H150.6M152.1 313.7H154.5M152.1 302.9H154.5M156 312.2H158.4M156 301.4H158.4M159.8 310.7H162.2M159.8 299.9H162.2M163.7 311.5H166.1M163.7 300.8H166.1M167.6 310.7H170M167.6 299.9H170M171.5 309.3H173.9M171.5 298.5H173.9M175.4 317.1H177.8M175.4 306.3H177.8M179.2 315.3H181.6M179.2 304.5H181.6M183.1 310.7H185.5M183.1 299.9H185.5M187 312H189.4M187 301.3H189.4M190.9 304.8H193.3M190.9 294.1H193.3M194.7 316.6H197.1M194.7 305.8H197.1M198.6 321.5H201M198.6 310.7H201M202.5 318.6H204.9M202.5 307.8H204.9M206.4 321H208.8M206.4 310.2H208.8M210.3 322.5H212.7M210.3 311.7H212.7M214.1 314.5H216.5M214.1 303.7H216.5M218 315.3H220.4M218 304.5H220.4M221.9 323.8H224.3M221.9 313H224.3M225.8 313.7H228.2M225.8 302.9H228.2M229.7 312.2H232.1M229.7 301.4H232.1M233.5 314.5H235.9M233.5 303.7H235.9M237.4 309.3H239.8M237.4 298.5H239.8M241.3 310.7H243.7M241.3 299.9H243.7M245.2 310.7H247.6M245.2 299.9H247.6M249.1 321H251.5M249.1 310.2H251.5M252.9 323.8H255.3M252.9 313H255.3M256.8 314.5H259.2M256.8 303.7H259.2M260.7 333.4H263.1M260.7 322.6H263.1M264.6 373.6H267M264.6 362.8H267M268.4 385.1H270.8M268.4 374.4H270.8M272.3 356.9H274.7M272.3 346.1H274.7M276.2 339H278.6M276.2 328.2H278.6M280.1 332.6H282.5M280.1 321.8H282.5M284 328.3H286.4M284 317.6H286.4M287.8 330.6H290.2M287.8 319.9H290.2M291.7 337H294.1M291.7 326.2H294.1M295.6 325.2H298M295.6 314.5H298M299.5 323.3H301.9M299.5 312.5H301.9M303.4 324.4H305.8M303.4 313.7H305.8M307.2 348.7H309.6M307.2 338H309.6M311.1 351.5H313.5M311.1 340.7H313.5M315 352.5H317.4M315 341.7H317.4M318.9 365.2H321.3M318.9 354.5H321.3M322.8 345.8H325.2M322.8 335H325.2M326.6 329.7H329M326.6 318.9H329M330.5 334.9H332.9M330.5 324.1H332.9M334.4 339.9H336.8M334.4 329.2H336.8M338.3 344.3H340.7M338.3 333.6H340.7M342.2 334.1H344.6M342.2 323.3H344.6M346 325.9H348.4M346 315.1H348.4M349.9 336.2H352.3M349.9 325.4H352.3M353.8 328.3H356.2M353.8 317.6H356.2M357.7 315.9H360.1M357.7 305.2H360.1M361.5 316.6H363.9M361.5 305.8H363.9M365.4 316.6H367.8M365.4 305.8H367.8M369.3 310.7H371.7M369.3 299.9H371.7M373.2 310.7H375.6M373.2 299.9H375.6M377.1 318.1H379.5M377.1 307.3H379.5M380.9 324.4H383.3M380.9 313.7H383.3M384.8 316.6H387.2M384.8 305.8H387.2M388.7 321H391.1M388.7 310.2H391.1M392.6 316.6H395M392.6 305.8H395M396.5 326.2H398.9M396.5 315.5H398.9M400.3 325.2H402.7M400.3 314.5H402.7M404.2 318.1H406.6M404.2 307.3H406.6M408.1 316.6H410.5M408.1 305.8H410.5M412 316.6H414.4M412 305.8H414.4M415.9 319.5H418.3M415.9 308.8H418.3M419.7 324.4H422.1M419.7 313.7H422.1M423.6 318.1H426M423.6 307.3H426M427.5 316.6H429.9M427.5 305.8H429.9M431.4 315.3H433.8M431.4 304.5H433.8M435.2 315.3H437.6M435.2 304.5H437.6M439.1 323.8H441.5M439.1 313H441.5M443 312.2H445.4M443 301.4H445.4M446.9 316.6H449.3M446.9 305.8H449.3M450.8 310.7H453.2M450.8 299.9H453.2M454.6 301.9H457M454.6 291.1H457M458.5 301.9H460.9M458.5 291.1H460.9M462.4 299H464.8M462.4 288.2H464.8M466.3 338.5H468.7M466.3 327.7H468.7M470.2 366.2H472.6M470.2 355.4H472.6M474 348.7H476.4M474 338H476.4M477.9 326.7H480.3M477.9 315.9H480.3M481.8 340.7H484.2M481.8 330H484.2M485.7 333.4H488.1M485.7 322.6H488.1M489.6 341.4H492M489.6 330.6H492M493.4 350.1H495.8M493.4 339.3H495.8M497.3 385.1H499.7M497.3 374.4H499.7M501.2 369.1H503.6M501.2 358.4H503.6M505.1 334.1H507.5M505.1 323.3H507.5M508.9 347.8H511.3M508.9 337H511.3M512.8 322.5H515.2M512.8 311.7H515.2M516.7 339.9H519.1M516.7 329.2H519.1M520.6 333.4H523M520.6 322.6H523M524.5 325.2H526.9M524.5 314.5H526.9M528.3 325.9H530.7M528.3 315.1H530.7M532.2 342.9H534.6M532.2 332.1H534.6M536.1 350.7H538.5M536.1 339.9H538.5M540 380.2H542.4M540 369.5H542.4M543.9 342.9H546.3M543.9 332.1H546.3M547.7 334.9H550.1M547.7 324.1H550.1M551.6 336.2H554M551.6 325.4H554M555.5 339H557.9M555.5 328.2H557.9M559.4 372.1H561.8M559.4 361.3H561.8M563.3 353H565.7M563.3 342.2H565.7M567.1 350.7H569.5M567.1 339.9H569.5M571 329.7H573.4M571 318.9H573.4M574.9 335.5H577.3M574.9 324.8H577.3M578.8 366.2H581.2M578.8 355.4H581.2M582.6 366.2H585M582.6 355.4H585M586.5 392.5H588.9M586.5 381.7H588.9M590.4 379.3H592.8M590.4 368.5H592.8M594.3 375H596.7M594.3 364.2H596.7M598.2 359.7H600.6M598.2 348.9H600.6M602 352.2H604.4M602 341.4H604.4M605.9 372.1H608.3M605.9 361.3H608.3M609.8 373.6H612.2M609.8 362.8H612.2M613.7 363.3H616.1M613.7 352.5H616.1M617.6 342.9H620M617.6 332.1H620M621.4 333.2H623.8M621.4 322.5H623.8M625.3 361.8H627.7M625.3 351H627.7M629.2 389.5H631.6M629.2 378.8H631.6M633.1 359.5H635.5M633.1 348.7H635.5M637 343.4H639.4M637 332.6H639.4M640.8 337H643.2M640.8 326.2H643.2M644.7 343.7H647.1M644.7 332.9H647.1M648.6 343.7H651M648.6 332.9H651M652.5 345.8H654.9M652.5 335H654.9" stroke="#CCB974" stroke-width="0.8" stroke-opacity="0.4" fill="none"/>
<g fill="#CCB974" fill-opacity="0.45" stroke="#CCB974" stroke-opacity="0.45" stroke-width="0.5">
<circle cx="75.7" cy="320.5" r="2.8"/><circle cx="79.6" cy="320.8" r="2.8"/><circle cx="83.5" cy="327.2" r="2.8"/><circle cx="87.3" cy="317.1" r="2.8"/><circle cx="91.2" cy="350.7" r="2.8"/><circle cx="95.1" cy="339.3" r="2.8"/><circle cx="99" cy="334.4" r="2.8"/><circle cx="102.9" cy="328.7" r="2.8"/><circle cx="106.7" cy="380.1" r="2.8"/><circle cx="110.6" cy="357.9" r="2.8"/><circle cx="114.5" cy="328.7" r="2.8"/><circle cx="118.4" cy="321.3" r="2.8"/><circle cx="122.2" cy="381.2" r="2.8"/><circle cx="126.1" cy="381.2" r="2.8"/><circle cx="130" cy="323" r="2.8"/><circle cx="133.9" cy="327.9" r="2.8"/><circle cx="137.8" cy="323" r="2.8"/><circle cx="141.6" cy="322.3" r="2.8"/><circle cx="145.5" cy="325.7" r="2.8"/><circle cx="149.4" cy="317.1" r="2.8"/><circle cx="153.3" cy="308.3" r="2.8"/><circle cx="157.2" cy="306.8" r="2.8"/><circle cx="161" cy="305.3" r="2.8"/><circle cx="164.9" cy="306.2" r="2.8"/><circle cx="168.8" cy="305.3" r="2.8"/><circle cx="172.7" cy="303.9" r="2.8"/><circle cx="176.6" cy="311.7" r="2.8"/><circle cx="180.4" cy="309.9" r="2.8"/><circle cx="184.3" cy="305.3" r="2.8"/><circle cx="188.2" cy="306.6" r="2.8"/><circle cx="192.1" cy="299.5" r="2.8"/><circle cx="195.9" cy="311.2" r="2.8"/><circle cx="199.8" cy="316.1" r="2.8"/><circle cx="203.7" cy="313.2" r="2.8"/><circle cx="207.6" cy="315.6" r="2.8"/><circle cx="211.5" cy="317.1" r="2.8"/><circle cx="215.3" cy="309.1" r="2.8"/><circle cx="219.2" cy="309.9" r="2.8"/><circle cx="223.1" cy="318.4" r="2.8"/><circle cx="227" cy="308.3" r="2.8"/><circle cx="230.9" cy="306.8" r="2.8"/><circle cx="234.7" cy="309.1" r="2.8"/><circle cx="238.6" cy="303.9" r="2.8"/><circle cx="242.5" cy="305.3" r="2.8"/><circle cx="246.4" cy="305.3" r="2.8"/><circle cx="250.3" cy="315.6" r="2.8"/><circle cx="254.1" cy="318.4" r="2.8"/><circle cx="258" cy="309.1" r="2.8"/><circle cx="261.9" cy="328" r="2.8"/><circle cx="265.8" cy="368.2" r="2.8"/><circle cx="269.6" cy="379.8" r="2.8"/><circle cx="273.5" cy="351.5" r="2.8"/><circle cx="277.4" cy="333.6" r="2.8"/><circle cx="281.3" cy="327.2" r="2.8"/><circle cx="285.2" cy="323" r="2.8"/><circle cx="289" cy="325.2" r="2.8"/><circle cx="292.9" cy="331.6" r="2.8"/><circle cx="296.8" cy="319.9" r="2.8"/><circle cx="300.7" cy="317.9" r="2.8"/><circle cx="304.6" cy="319" r="2.8"/><circle cx="308.4" cy="343.4" r="2.8"/><circle cx="312.3" cy="346.1" r="2.8"/><circle cx="316.2" cy="347.1" r="2.8"/><circle cx="320.1" cy="359.8" r="2.8"/><circle cx="324" cy="340.4" r="2.8"/><circle cx="327.8" cy="324.3" r="2.8"/><circle cx="331.7" cy="329.5" r="2.8"/><circle cx="335.6" cy="334.5" r="2.8"/><circle cx="339.5" cy="339" r="2.8"/><circle cx="343.4" cy="328.7" r="2.8"/><circle cx="347.2" cy="320.5" r="2.8"/><circle cx="351.1" cy="330.8" r="2.8"/><circle cx="355" cy="323" r="2.8"/><circle cx="358.9" cy="310.6" r="2.8"/><circle cx="362.7" cy="311.2" r="2.8"/><circle cx="366.6" cy="311.2" r="2.8"/><circle cx="370.5" cy="305.3" r="2.8"/><circle cx="374.4" cy="305.3" r="2.8"/><circle cx="378.3" cy="312.7" r="2.8"/><circle cx="382.1" cy="319" r="2.8"/><circle cx="386" cy="311.2" r="2.8"/><circle cx="389.9" cy="315.6" r="2.8"/><circle cx="393.8" cy="311.2" r="2.8"/><circle cx="397.7" cy="320.8" r="2.8"/><circle cx="401.5" cy="319.9" r="2.8"/><circle cx="405.4" cy="312.7" r="2.8"/><circle cx="409.3" cy="311.2" r="2.8"/><circle cx="413.2" cy="311.2" r="2.8"/><circle cx="417.1" cy="314.1" r="2.8"/><circle cx="420.9" cy="319" r="2.8"/><circle cx="424.8" cy="312.7" r="2.8"/><circle cx="428.7" cy="311.2" r="2.8"/><circle cx="432.6" cy="309.9" r="2.8"/><circle cx="436.4" cy="309.9" r="2.8"/><circle cx="440.3" cy="318.4" r="2.8"/><circle cx="444.2" cy="306.8" r="2.8"/><circle cx="448.1" cy="311.2" r="2.8"/><circle cx="452" cy="305.3" r="2.8"/><circle cx="455.8" cy="296.5" r="2.8"/><circle cx="459.7" cy="296.5" r="2.8"/><circle cx="463.6" cy="293.6" r="2.8"/><circle cx="467.5" cy="333.1" r="2.8"/><circle cx="471.4" cy="360.8" r="2.8"/><circle cx="475.2" cy="343.4" r="2.8"/><circle cx="479.1" cy="321.3" r="2.8"/><circle cx="483" cy="335.4" r="2.8"/><circle cx="486.9" cy="328" r="2.8"/><circle cx="490.8" cy="336" r="2.8"/><circle cx="494.6" cy="344.7" r="2.8"/><circle cx="498.5" cy="379.8" r="2.8"/><circle cx="502.4" cy="363.8" r="2.8"/><circle cx="506.3" cy="328.7" r="2.8"/><circle cx="510.1" cy="342.4" r="2.8"/><circle cx="514" cy="317.1" r="2.8"/><circle cx="517.9" cy="334.5" r="2.8"/><circle cx="521.8" cy="328" r="2.8"/><circle cx="525.7" cy="319.9" r="2.8"/><circle cx="529.5" cy="320.5" r="2.8"/><circle cx="533.4" cy="337.5" r="2.8"/><circle cx="537.3" cy="345.3" r="2.8"/><circle cx="541.2" cy="374.9" r="2.8"/><circle cx="545.1" cy="337.5" r="2.8"/><circle cx="548.9" cy="329.5" r="2.8"/><circle cx="552.8" cy="330.8" r="2.8"/><circle cx="556.7" cy="333.6" r="2.8"/><circle cx="560.6" cy="366.7" r="2.8"/><circle cx="564.5" cy="347.6" r="2.8"/><circle cx="568.3" cy="345.3" r="2.8"/><circle cx="572.2" cy="324.3" r="2.8"/><circle cx="576.1" cy="330.1" r="2.8"/><circle cx="580" cy="360.8" r="2.8"/><circle cx="583.8" cy="360.8" r="2.8"/><circle cx="587.7" cy="387.1" r="2.8"/><circle cx="591.6" cy="373.9" r="2.8"/><circle cx="595.5" cy="369.6" r="2.8"/><circle cx="599.4" cy="354.3" r="2.8"/><circle cx="603.2" cy="346.8" r="2.8"/><circle cx="607.1" cy="366.7" r="2.8"/><circle cx="611" cy="368.2" r="2.8"/><circle cx="614.9" cy="357.9" r="2.8"/><circle cx="618.8" cy="337.5" r="2.8"/><circle cx="622.6" cy="327.9" r="2.8"/><circle cx="626.5" cy="356.4" r="2.8"/><circle cx="630.4" cy="384.2" r="2.8"/><circle cx="634.3" cy="354.1" r="2.8"/><circle cx="638.2" cy="338" r="2.8"/><circle cx="642" cy="331.6" r="2.8"/><circle cx="645.9" cy="338.3" r="2.8"/><circle cx="649.8" cy="338.3" r="2.8"/><circle cx="653.7" cy="340.4" r="2.8"/>
</g>
<polyline points="75.7,357.2 79.6,362.8 83.5,366.7 87.3,367.5 91.2,373.4 95.1,370.5 99,363.8 102.9,361.6 106.7,385.6 110.6,373.9 114.5,363.8 118.4,355.8 122.2,384.8 126.1,384.8 130,354.9 133.9,355.6 137.8,355.6 141.6,359.4 145.5,352.7 149.4,360.2 153.3,360.2 157.2,360.2 161,362.3 164.9,361.3 168.8,366.7 172.7,365.2 176.6,367.5 180.4,362.8 184.3,363.8 188.2,359.4 192.1,361.6 195.9,360.2 199.8,348.3 203.7,354.9 207.6,354.9 211.5,352 215.3,353.5 219.2,357.9 223.1,358.7 227,359.4 230.9,359.4 234.7,358.7 238.6,357.9 242.5,357.2 246.4,357.2 250.3,365.2 254.1,364.6 258,360.8 261.9,372.4 265.8,381.2 269.6,381.2 273.5,370.9 277.4,370.5 281.3,370.5 285.2,370.5 289,370.5 292.9,369.6 296.8,361.6 300.7,356.4 304.6,357.9 308.4,372.4 312.3,375.3 316.2,370.9 320.1,376.8 324,370.9 327.8,369.6 331.7,369 335.6,365.2 339.5,362.8 343.4,367.2 347.2,365.2 351.1,365.2 355,365.2 358.9,356.4 362.7,354.9 366.6,363.8 370.5,368.2 374.4,359.4 378.3,359.4 382.1,360.8 386,368.2 389.9,359.8 393.8,357.9 397.7,358.9 401.5,353 405.4,360.8 409.3,358.7 413.2,361.6 417.1,362.3 420.9,360.8 424.8,359.8 428.7,366.7 432.6,368.2 436.4,367.5 440.3,361.6 444.2,365.2 448.1,359.4 452,362.3 455.8,364.6 459.7,360.8 463.6,366.7 467.5,376.3 471.4,380.4 475.2,375.3 479.1,369.6 483,364.6 486.9,370.5 490.8,370.9 494.6,378.3 498.5,385.6 502.4,384.2 506.3,378.3 510.1,379.8 514,376.8 517.9,378.3 521.8,379.3 525.7,377.5 529.5,381.2 533.4,383.3 537.3,382.7 541.2,386.4 545.1,379.8 548.9,378.3 552.8,376.8 556.7,379.3 560.6,382.7 564.5,381.2 568.3,379.8 572.2,378.3 576.1,380.4 580,384.2 583.8,384.2 587.7,388.2 591.6,384.8 595.5,382.7 599.4,381.2 603.2,382.7 607.1,385 611,384.8 614.9,380.4 618.8,374.9 622.6,373.4 626.5,378.3 630.4,387.9 634.3,373.4 638.2,369.6 642,370.5 645.9,375.3 649.8,375.3 653.7,374.5" fill="none" stroke="#9400D3" stroke-width="0.8" stroke-opacity="0.35" stroke-linejoin="round"/>
<path d="M75.7 358.7V355.8M79.6 364.2V361.3M83.5 368.2V365.2M87.3 369V366M91.2 374.9V371.9M95.1 371.9V369M99 365.2V362.3M102.9 363.1V360.2M106.7 387.1V384.2M110.6 375.3V372.4M114.5 365.2V362.3M118.4 357.2V354.3M122.2 386.3V383.3M126.1 386.3V383.3M130 356.4V353.5M133.9 357.1V354.1M137.8 357.1V354.1M141.6 360.8V357.9M145.5 354.1V351.2M149.4 361.6V358.7M153.3 361.6V358.7M157.2 361.6V358.7M161 363.8V360.8M164.9 362.8V359.8M168.8 368.2V365.2M172.7 366.7V363.8M176.6 369V366M180.4 364.2V361.3M184.3 365.2V362.3M188.2 360.8V357.9M192.1 363.1V360.2M195.9 361.6V358.7M199.8 349.7V346.8M203.7 356.4V353.5M207.6 356.4V353.5M211.5 353.5V350.5M215.3 354.9V352M219.2 359.4V356.4M223.1 360.2V357.2M227 360.8V357.9M230.9 360.8V357.9M234.7 360.2V357.2M238.6 359.4V356.4M242.5 358.7V355.8M246.4 358.7V355.8M250.3 366.7V363.8M254.1 366V363.1M258 362.3V359.4M261.9 373.9V370.9M265.8 382.7V379.8M269.6 382.7V379.8M273.5 372.4V369.5M277.4 371.9V369M281.3 371.9V369M285.2 371.9V369M289 371.9V369M292.9 371.1V368.2M296.8 363.1V360.2M300.7 357.9V354.9M304.6 359.4V356.4M308.4 373.9V370.9M312.3 376.8V373.9M316.2 372.4V369.5M320.1 378.3V375.3M324 372.4V369.5M327.8 371.1V368.2M331.7 370.5V367.5M335.6 366.7V363.8M339.5 364.2V361.3M343.4 368.7V365.7M347.2 366.7V363.8M351.1 366.7V363.8M355 366.7V363.8M358.9 357.9V354.9M362.7 356.4V353.5M366.6 365.2V362.3M370.5 369.6V366.7M374.4 360.8V357.9M378.3 360.8V357.9M382.1 362.3V359.4M386 369.6V366.7M389.9 361.3V358.4M393.8 359.4V356.4M397.7 360.3V357.4M401.5 354.5V351.5M405.4 362.3V359.4M409.3 360.2V357.2M413.2 363.1V360.2M417.1 363.8V360.8M420.9 362.3V359.4M424.8 361.3V358.4M428.7 368.2V365.2M432.6 369.6V366.7M436.4 369V366M440.3 363.1V360.2M444.2 366.7V363.8M448.1 360.8V357.9M452 363.8V360.8M455.8 366V363.1M459.7 362.3V359.4M463.6 368.2V365.2M467.5 377.8V374.9M471.4 381.9V378.9M475.2 376.8V373.9M479.1 371.1V368.2M483 366V363.1M486.9 371.9V369M490.8 372.4V369.5M494.6 379.8V376.8M498.5 387.1V384.2M502.4 385.6V382.7M506.3 379.8V376.8M510.1 381.2V378.3M514 378.3V375.3M517.9 379.8V376.8M521.8 380.7V377.8M525.7 378.9V376M529.5 382.7V379.8M533.4 384.8V381.9M537.3 384.2V381.2M541.2 387.9V385M545.1 381.2V378.3M548.9 379.8V376.8M552.8 378.3V375.3M556.7 380.7V377.8M560.6 384.2V381.2M564.5 382.7V379.8M568.3 381.2V378.3M572.2 379.8V376.8M576.1 381.9V378.9M580 385.6V382.7M583.8 385.6V382.7M587.7 389.7V386.8M591.6 386.3V383.3M595.5 384.2V381.2M599.4 382.7V379.8M603.2 384.2V381.2M607.1 386.4V383.5M611 386.3V383.3M614.9 381.9V378.9M618.8 376.3V373.4M622.6 374.9V371.9M626.5 379.8V376.8M630.4 389.4V386.4M634.3 374.9V371.9M638.2 371.1V368.2M642 371.9V369M645.9 376.8V373.9M649.8 376.8V373.9M653.7 376V373.1M74.5 358.7H76.9M74.5 355.8H76.9M78.4 364.2H80.8M78.4 361.3H80.8M82.3 368.2H84.7M82.3 365.2H84.7M86.1 369H88.5M86.1 366H88.5M90 374.9H92.4M90 371.9H92.4M93.9 371.9H96.3M93.9 369H96.3M97.8 365.2H100.2M97.8 362.3H100.2M101.7 363.1H104.1M101.7 360.2H104.1M105.5 387.1H107.9M105.5 384.2H107.9M109.4 375.3H111.8M109.4 372.4H111.8M113.3 365.2H115.7M113.3 362.3H115.7M117.2 357.2H119.6M117.2 354.3H119.6M121 386.3H123.4M121 383.3H123.4M124.9 386.3H127.3M124.9 383.3H127.3M128.8 356.4H131.2M128.8 353.5H131.2M132.7 357.1H135.1M132.7 354.1H135.1M136.6 357.1H139M136.6 354.1H139M140.4 360.8H142.8M140.4 357.9H142.8M144.3 354.1H146.7M144.3 351.2H146.7M148.2 361.6H150.6M148.2 358.7H150.6M152.1 361.6H154.5M152.1 358.7H154.5M156 361.6H158.4M156 358.7H158.4M159.8 363.8H162.2M159.8 360.8H162.2M163.7 362.8H166.1M163.7 359.8H166.1M167.6 368.2H170M167.6 365.2H170M171.5 366.7H173.9M171.5 363.8H173.9M175.4 369H177.8M175.4 366H177.8M179.2 364.2H181.6M179.2 361.3H181.6M183.1 365.2H185.5M183.1 362.3H185.5M187 360.8H189.4M187 357.9H189.4M190.9 363.1H193.3M190.9 360.2H193.3M194.7 361.6H197.1M194.7 358.7H197.1M198.6 349.7H201M198.6 346.8H201M202.5 356.4H204.9M202.5 353.5H204.9M206.4 356.4H208.8M206.4 353.5H208.8M210.3 353.5H212.7M210.3 350.5H212.7M214.1 354.9H216.5M214.1 352H216.5M218 359.4H220.4M218 356.4H220.4M221.9 360.2H224.3M221.9 357.2H224.3M225.8 360.8H228.2M225.8 357.9H228.2M229.7 360.8H232.1M229.7 357.9H232.1M233.5 360.2H235.9M233.5 357.2H235.9M237.4 359.4H239.8M237.4 356.4H239.8M241.3 358.7H243.7M241.3 355.8H243.7M245.2 358.7H247.6M245.2 355.8H247.6M249.1 366.7H251.5M249.1 363.8H251.5M252.9 366H255.3M252.9 363.1H255.3M256.8 362.3H259.2M256.8 359.4H259.2M260.7 373.9H263.1M260.7 370.9H263.1M264.6 382.7H267M264.6 379.8H267M268.4 382.7H270.8M268.4 379.8H270.8M272.3 372.4H274.7M272.3 369.5H274.7M276.2 371.9H278.6M276.2 369H278.6M280.1 371.9H282.5M280.1 369H282.5M284 371.9H286.4M284 369H286.4M287.8 371.9H290.2M287.8 369H290.2M291.7 371.1H294.1M291.7 368.2H294.1M295.6 363.1H298M295.6 360.2H298M299.5 357.9H301.9M299.5 354.9H301.9M303.4 359.4H305.8M303.4 356.4H305.8M307.2 373.9H309.6M307.2 370.9H309.6M311.1 376.8H313.5M311.1 373.9H313.5M315 372.4H317.4M315 369.5H317.4M318.9 378.3H321.3M318.9 375.3H321.3M322.8 372.4H325.2M322.8 369.5H325.2M326.6 371.1H329M326.6 368.2H329M330.5 370.5H332.9M330.5 367.5H332.9M334.4 366.7H336.8M334.4 363.8H336.8M338.3 364.2H340.7M338.3 361.3H340.7M342.2 368.7H344.6M342.2 365.7H344.6M346 366.7H348.4M346 363.8H348.4M349.9 366.7H352.3M349.9 363.8H352.3M353.8 366.7H356.2M353.8 363.8H356.2M357.7 357.9H360.1M357.7 354.9H360.1M361.5 356.4H363.9M361.5 353.5H363.9M365.4 365.2H367.8M365.4 362.3H367.8M369.3 369.6H371.7M369.3 366.7H371.7M373.2 360.8H375.6M373.2 357.9H375.6M377.1 360.8H379.5M377.1 357.9H379.5M380.9 362.3H383.3M380.9 359.4H383.3M384.8 369.6H387.2M384.8 366.7H387.2M388.7 361.3H391.1M388.7 358.4H391.1M392.6 359.4H395M392.6 356.4H395M396.5 360.3H398.9M396.5 357.4H398.9M400.3 354.5H402.7M400.3 351.5H402.7M404.2 362.3H406.6M404.2 359.4H406.6M408.1 360.2H410.5M408.1 357.2H410.5M412 363.1H414.4M412 360.2H414.4M415.9 363.8H418.3M415.9 360.8H418.3M419.7 362.3H422.1M419.7 359.4H422.1M423.6 361.3H426M423.6 358.4H426M427.5 368.2H429.9M427.5 365.2H429.9M431.4 369.6H433.8M431.4 366.7H433.8M435.2 369H437.6M435.2 366H437.6M439.1 363.1H441.5M439.1 360.2H441.5M443 366.7H445.4M443 363.8H445.4M446.9 360.8H449.3M446.9 357.9H449.3M450.8 363.8H453.2M450.8 360.8H453.2M454.6 366H457M454.6 363.1H457M458.5 362.3H460.9M458.5 359.4H460.9M462.4 368.2H464.8M462.4 365.2H464.8M466.3 377.8H468.7M466.3 374.9H468.7M470.2 381.9H472.6M470.2 378.9H472.6M474 376.8H476.4M474 373.9H476.4M477.9 371.1H480.3M477.9 368.2H480.3M481.8 366H484.2M481.8 363.1H484.2M485.7 371.9H488.1M485.7 369H488.1M489.6 372.4H492M489.6 369.5H492M493.4 379.8H495.8M493.4 376.8H495.8M497.3 387.1H499.7M497.3 384.2H499.7M501.2 385.6H503.6M501.2 382.7H503.6M505.1 379.8H507.5M505.1 376.8H507.5M508.9 381.2H511.3M508.9 378.3H511.3M512.8 378.3H515.2M512.8 375.3H515.2M516.7 379.8H519.1M516.7 376.8H519.1M520.6 380.7H523M520.6 377.8H523M524.5 378.9H526.9M524.5 376H526.9M528.3 382.7H530.7M528.3 379.8H530.7M532.2 384.8H534.6M532.2 381.9H534.6M536.1 384.2H538.5M536.1 381.2H538.5M540 387.9H542.4M540 385H542.4M543.9 381.2H546.3M543.9 378.3H546.3M547.7 379.8H550.1M547.7 376.8H550.1M551.6 378.3H554M551.6 375.3H554M555.5 380.7H557.9M555.5 377.8H557.9M559.4 384.2H561.8M559.4 381.2H561.8M563.3 382.7H565.7M563.3 379.8H565.7M567.1 381.2H569.5M567.1 378.3H569.5M571 379.8H573.4M571 376.8H573.4M574.9 381.9H577.3M574.9 378.9H577.3M578.8 385.6H581.2M578.8 382.7H581.2M582.6 385.6H585M582.6 382.7H585M586.5 389.7H588.9M586.5 386.8H588.9M590.4 386.3H592.8M590.4 383.3H592.8M594.3 384.2H596.7M594.3 381.2H596.7M598.2 382.7H600.6M598.2 379.8H600.6M602 384.2H604.4M602 381.2H604.4M605.9 386.4H608.3M605.9 383.5H608.3M609.8 386.3H612.2M609.8 383.3H612.2M613.7 381.9H616.1M613.7 378.9H616.1M617.6 376.3H620M617.6 373.4H620M621.4 374.9H623.8M621.4 371.9H623.8M625.3 379.8H627.7M625.3 376.8H627.7M629.2 389.4H631.6M629.2 386.4H631.6M633.1 374.9H635.5M633.1 371.9H635.5M637 371.1H639.4M637 368.2H639.4M640.8 371.9H643.2M640.8 369H643.2M644.7 376.8H647.1M644.7 373.9H647.1M648.6 376.8H651M648.6 373.9H651M652.5 376H654.9M652.5 373.1H654.9" stroke="#9400D3" stroke-width="0.8" stroke-opacity="0.4" fill="none"/>
<g fill="#9400D3" fill-opacity="0.5" stroke="#9400D3" stroke-opacity="0.5" stroke-width="0.5">
<circle cx="75.7" cy="357.2" r="2.8"/><circle cx="79.6" cy="362.8" r="2.8"/><circle cx="83.5" cy="366.7" r="2.8"/><circle cx="87.3" cy="367.5" r="2.8"/><circle cx="91.2" cy="373.4" r="2.8"/><circle cx="95.1" cy="370.5" r="2.8"/><circle cx="99" cy="363.8" r="2.8"/><circle cx="102.9" cy="361.6" r="2.8"/><circle cx="106.7" cy="385.6" r="2.8"/><circle cx="110.6" cy="373.9" r="2.8"/><circle cx="114.5" cy="363.8" r="2.8"/><circle cx="118.4" cy="355.8" r="2.8"/><circle cx="122.2" cy="384.8" r="2.8"/><circle cx="126.1" cy="384.8" r="2.8"/><circle cx="130" cy="354.9" r="2.8"/><circle cx="133.9" cy="355.6" r="2.8"/><circle cx="137.8" cy="355.6" r="2.8"/><circle cx="141.6" cy="359.4" r="2.8"/><circle cx="145.5" cy="352.7" r="2.8"/><circle cx="149.4" cy="360.2" r="2.8"/><circle cx="153.3" cy="360.2" r="2.8"/><circle cx="157.2" cy="360.2" r="2.8"/><circle cx="161" cy="362.3" r="2.8"/><circle cx="164.9" cy="361.3" r="2.8"/><circle cx="168.8" cy="366.7" r="2.8"/><circle cx="172.7" cy="365.2" r="2.8"/><circle cx="176.6" cy="367.5" r="2.8"/><circle cx="180.4" cy="362.8" r="2.8"/><circle cx="184.3" cy="363.8" r="2.8"/><circle cx="188.2" cy="359.4" r="2.8"/><circle cx="192.1" cy="361.6" r="2.8"/><circle cx="195.9" cy="360.2" r="2.8"/><circle cx="199.8" cy="348.3" r="2.8"/><circle cx="203.7" cy="354.9" r="2.8"/><circle cx="207.6" cy="354.9" r="2.8"/><circle cx="211.5" cy="352" r="2.8"/><circle cx="215.3" cy="353.5" r="2.8"/><circle cx="219.2" cy="357.9" r="2.8"/><circle cx="223.1" cy="358.7" r="2.8"/><circle cx="227" cy="359.4" r="2.8"/><circle cx="230.9" cy="359.4" r="2.8"/><circle cx="234.7" cy="358.7" r="2.8"/><circle cx="238.6" cy="357.9" r="2.8"/><circle cx="242.5" cy="357.2" r="2.8"/><circle cx="246.4" cy="357.2" r="2.8"/><circle cx="250.3" cy="365.2" r="2.8"/><circle cx="254.1" cy="364.6" r="2.8"/><circle cx="258" cy="360.8" r="2.8"/><circle cx="261.9" cy="372.4" r="2.8"/><circle cx="265.8" cy="381.2" r="2.8"/><circle cx="269.6" cy="381.2" r="2.8"/><circle cx="273.5" cy="370.9" r="2.8"/><circle cx="277.4" cy="370.5" r="2.8"/><circle cx="281.3" cy="370.5" r="2.8"/><circle cx="285.2" cy="370.5" r="2.8"/><circle cx="289" cy="370.5" r="2.8"/><circle cx="292.9" cy="369.6" r="2.8"/><circle cx="296.8" cy="361.6" r="2.8"/><circle cx="300.7" cy="356.4" r="2.8"/><circle cx="304.6" cy="357.9" r="2.8"/><circle cx="308.4" cy="372.4" r="2.8"/><circle cx="312.3" cy="375.3" r="2.8"/><circle cx="316.2" cy="370.9" r="2.8"/><circle cx="320.1" cy="376.8" r="2.8"/><circle cx="324" cy="370.9" r="2.8"/><circle cx="327.8" cy="369.6" r="2.8"/><circle cx="331.7" cy="369" r="2.8"/><circle cx="335.6" cy="365.2" r="2.8"/><circle cx="339.5" cy="362.8" r="2.8"/><circle cx="343.4" cy="367.2" r="2.8"/><circle cx="347.2" cy="365.2" r="2.8"/><circle cx="351.1" cy="365.2" r="2.8"/><circle cx="355" cy="365.2" r="2.8"/><circle cx="358.9" cy="356.4" r="2.8"/><circle cx="362.7" cy="354.9" r="2.8"/><circle cx="366.6" cy="363.8" r="2.8"/><circle cx="370.5" cy="368.2" r="2.8"/><circle cx="374.4" cy="359.4" r="2.8"/><circle cx="378.3" cy="359.4" r="2.8"/><circle cx="382.1" cy="360.8" r="2.8"/><circle cx="386" cy="368.2" r="2.8"/><circle cx="389.9" cy="359.8" r="2.8"/><circle cx="393.8" cy="357.9" r="2.8"/><circle cx="397.7" cy="358.9" r="2.8"/><circle cx="401.5" cy="353" r="2.8"/><circle cx="405.4" cy="360.8" r="2.8"/><circle cx="409.3" cy="358.7" r="2.8"/><circle cx="413.2" cy="361.6" r="2.8"/><circle cx="417.1" cy="362.3" r="2.8"/><circle cx="420.9" cy="360.8" r="2.8"/><circle cx="424.8" cy="359.8" r="2.8"/><circle cx="428.7" cy="366.7" r="2.8"/><circle cx="432.6" cy="368.2" r="2.8"/><circle cx="436.4" cy="367.5" r="2.8"/><circle cx="440.3" cy="361.6" r="2.8"/><circle cx="444.2" cy="365.2" r="2.8"/><circle cx="448.1" cy="359.4" r="2.8"/><circle cx="452" cy="362.3" r="2.8"/><circle cx="455.8" cy="364.6" r="2.8"/><circle cx="459.7" cy="360.8" r="2.8"/><circle cx="463.6" cy="366.7" r="2.8"/><circle cx="467.5" cy="376.3" r="2.8"/><circle cx="471.4" cy="380.4" r="2.8"/><circle cx="475.2" cy="375.3" r="2.8"/><circle cx="479.1" cy="369.6" r="2.8"/><circle cx="483" cy="364.6" r="2.8"/><circle cx="486.9" cy="370.5" r="2.8"/><circle cx="490.8" cy="370.9" r="2.8"/><circle cx="494.6" cy="378.3" r="2.8"/><circle cx="498.5" cy="385.6" r="2.8"/><circle cx="502.4" cy="384.2" r="2.8"/><circle cx="506.3" cy="378.3" r="2.8"/><circle cx="510.1" cy="379.8" r="2.8"/><circle cx="514" cy="376.8" r="2.8"/><circle cx="517.9" cy="378.3" r="2.8"/><circle cx="521.8" cy="379.3" r="2.8"/><circle cx="525.7" cy="377.5" r="2.8"/><circle cx="529.5" cy="381.2" r="2.8"/><circle cx="533.4" cy="383.3" r="2.8"/><circle cx="537.3" cy="382.7" r="2.8"/><circle cx="541.2" cy="386.4" r="2.8"/><circle cx="545.1" cy="379.8" r="2.8"/><circle cx="548.9" cy="378.3" r="2.8"/><circle cx="552.8" cy="376.8" r="2.8"/><circle cx="556.7" cy="379.3" r="2.8"/><circle cx="560.6" cy="382.7" r="2.8"/><circle cx="564.5" cy="381.2" r="2.8"/><circle cx="568.3" cy="379.8" r="2.8"/><circle cx="572.2" cy="378.3" r="2.8"/><circle cx="576.1" cy="380.4" r="2.8"/><circle cx="580" cy="384.2" r="2.8"/><circle cx="583.8" cy="384.2" r="2.8"/><circle cx="587.7" cy="388.2" r="2.8"/><circle cx="591.6" cy="384.8" r="2.8"/><circle cx="595.5" cy="382.7" r="2.8"/><circle cx="599.4" cy="381.2" r="2.8"/><circle cx="603.2" cy="382.7" r="2.8"/><circle cx="607.1" cy="385" r="2.8"/><circle cx="611" cy="384.8" r="2.8"/><circle cx="614.9" cy="380.4" r="2.8"/><circle cx="618.8" cy="374.9" r="2.8"/><circle cx="622.6" cy="373.4" r="2.8"/><circle cx="626.5" cy="378.3" r="2.8"/><circle cx="630.4" cy="387.9" r="2.8"/><circle cx="634.3" cy="373.4" r="2.8"/><circle cx="638.2" cy="369.6" r="2.8"/><circle cx="642" cy="370.5" r="2.8"/><circle cx="645.9" cy="375.3" r="2.8"/><circle cx="649.8" cy="375.3" r="2.8"/><circle cx="653.7" cy="374.5" r="2.8"/>
</g>
</g>
<rect x="46.7" y="219.7" width="635.8" height="177" fill="none" stroke="#dadada" stroke-width="1"/>
<g font-family="Liberation Sans, Arial, sans-serif" font-size="13.4" fill="#333">
<text x="75.7" y="412" text-anchor="middle">0</text>
<text x="114.5" y="412" text-anchor="middle">10</text>
<text x="153.3" y="412" text-anchor="middle">20</text>
<text x="192.1" y="412" text-anchor="middle">30</text>
<text x="230.9" y="412" text-anchor="middle">40</text>
<text x="269.6" y="412" text-anchor="middle">50</text>
<text x="308.4" y="412" text-anchor="middle">60</text>
<text x="347.2" y="412" text-anchor="middle">70</text>
<text x="386" y="412" text-anchor="middle">80</text>
<text x="424.8" y="412" text-anchor="middle">90</text>
<text x="463.6" y="412" text-anchor="middle">100</text>
<text x="502.4" y="412" text-anchor="middle">110</text>
<text x="541.2" y="412" text-anchor="middle">120</text>
<text x="580" y="412" text-anchor="middle">130</text>
<text x="618.8" y="412" text-anchor="middle">140</text>
<text x="40.8" y="393.1" text-anchor="end">0.0</text>
<text x="40.8" y="360.5" text-anchor="end">0.2</text>
<text x="40.8" y="327.9" text-anchor="end">0.4</text>
<text x="40.8" y="295.2" text-anchor="end">0.6</text>
<text x="40.8" y="262.6" text-anchor="end">0.8</text>
<text x="40.8" y="229.9" text-anchor="end">1.0</text>
</g>
<text font-family="Liberation Sans, Arial, sans-serif" font-size="14.15" fill="#333" text-anchor="middle" transform="translate(15.4 308.7) rotate(-90)">Contribution Score</text>
<text font-family="Liberation Sans, Arial, sans-serif" font-size="20" font-weight="bold" fill="#111" text-anchor="middle" x="364.4" y="427">(b)</text>
<rect x="274.6" y="227.1" width="179.6" height="81.7" rx="3" ry="3" fill="#fff" fill-opacity="0.8" stroke="#e4e4e4" stroke-width="1"/>
<line x1="280.4" y1="237.7" x2="309.4" y2="237.7" stroke="#4C72B0" stroke-width="1" stroke-opacity="0.4"/>
<line x1="294.9" y1="230.7" x2="294.9" y2="244.7" stroke="#4C72B0" stroke-width="1" stroke-opacity="0.4"/>
<circle cx="294.9" cy="237.7" r="2.9" fill="#4C72B0" fill-opacity="0.45"/>
<text font-family="Liberation Sans, Arial, sans-serif" font-size="14.3" fill="#333" x="320" y="242.3">Bitfinex trans.</text>
<line x1="280.4" y1="257.1" x2="309.4" y2="257.1" stroke="#C44E52" stroke-width="1" stroke-opacity="0.4"/>
<line x1="294.9" y1="250.1" x2="294.9" y2="264.1" stroke="#C44E52" stroke-width="1" stroke-opacity="0.4"/>
<circle cx="294.9" cy="257.1" r="2.9" fill="#C44E52" fill-opacity="0.45"/>
<text font-family="Liberation Sans, Arial, sans-serif" font-size="14.3" fill="#333" x="320" y="261.7">Bitstamp trans.</text>
<line x1="280.4" y1="276.5" x2="309.4" y2="276.5" stroke="#CCB974" stroke-width="1" stroke-opacity="0.45"/>
<line x1="294.9" y1="269.5" x2="294.9" y2="283.5" stroke="#CCB974" stroke-width="1" stroke-opacity="0.45"/>
<circle cx="294.9" cy="276.5" r="2.9" fill="#CCB974" fill-opacity="0.5"/>
<text font-family="Liberation Sans, Arial, sans-serif" font-size="14.3" fill="#333" x="320" y="281.1">Bitfinex order book</text>
<line x1="280.4" y1="295.9" x2="309.4" y2="295.9" stroke="#9400D3" stroke-width="1" stroke-opacity="0.45"/>
<line x1="294.9" y1="288.9" x2="294.9" y2="302.9" stroke="#9400D3" stroke-width="1" stroke-opacity="0.45"/>
<circle cx="294.9" cy="295.9" r="2.9" fill="#9400D3" fill-opacity="0.5"/>
<text font-family="Liberation Sans, Arial, sans-serif" font-size="14.3" fill="#333" x="320" y="300.5">Bitstamp order book</text>
<rect x="46.7" y="432" width="635.8" height="177.5" fill="#fff"/>
<path d="M75.7 432V609.5M114.5 432V609.5M153.3 432V609.5M192.1 432V609.5M230.9 432V609.5M269.6 432V609.5M308.4 432V609.5M347.2 432V609.5M386 432V609.5M424.8 432V609.5M463.6 432V609.5M502.4 432V609.5M541.2 432V609.5M580 432V609.5M618.8 432V609.5M46.7 574H682.5M46.7 538.5H682.5M46.7 503H682.5M46.7 467.5H682.5" stroke="#e0e0e0" stroke-width="0.8" fill="none"/>
<clipPath id="cpp0"><rect x="46.7" y="432" width="635.8" height="177.5"/></clipPath><g clip-path="url(#cpp0)">
<polygon points="75.7,538.1 79.6,538.1 83.5,538.1 87.3,537.6 91.2,537.4 95.1,538.1 99,538.1 102.9,538.1 106.7,537.1 110.6,537.6 114.5,538.1 118.4,537.4 122.2,536.9 126.1,537.4 130,538.1 133.9,538.1 137.8,537.8 141.6,538.1 145.5,538.1 149.4,538.1 153.3,538.1 157.2,538.1 161,538.1 164.9,538.1 168.8,538.1 172.7,531.4 176.6,531.4 180.4,531.4 184.3,531.4 188.2,531.4 192.1,531.4 195.9,531.4 199.8,531.4 203.7,531.4 207.6,531.4 211.5,531.4 215.3,531.4 219.2,531.4 223.1,531.4 227,531.4 230.9,531.4 234.7,531.4 238.6,531.4 242.5,531.4 246.4,531.4 250.3,531.4 254.1,531.4 258,531.4 261.9,530.5 265.8,529.8 269.6,529.3 273.5,529.6 277.4,530 281.3,530.3 285.2,530.5 289,530.9 292.9,531.4 296.8,531.4 300.7,531.4 304.6,531.4 308.4,530.9 312.3,530.9 316.2,531.4 320.1,531.4 324,531.4 327.8,531.4 331.7,531 335.6,531.4 339.5,531.4 343.4,531.4 347.2,531.4 351.1,531.4 355,531.4 358.9,531.4 362.7,531.4 366.6,531.4 370.5,531.4 374.4,531.4 378.3,531.4 382.1,531.4 386,531.4 389.9,531.4 393.8,531.4 397.7,517.2 401.5,517.2 405.4,517.1 409.3,517.1 413.2,517.1 417.1,517.1 420.9,517 424.8,517 428.7,517 432.6,517 436.4,516.9 440.3,516.9 444.2,516.9 448.1,516.8 452,516.8 455.8,516.8 459.7,516.8 463.6,516.7 467.5,516.7 471.4,516.7 475.2,516.6 479.1,516.6 483,516.6 486.9,516 490.8,516.5 494.6,516.5 498.5,516.5 502.4,515.9 506.3,516.4 510.1,516.4 514,516.4 517.9,516.3 521.8,516.3 525.7,516.3 529.5,516.3 533.4,516.2 537.3,515.5 541.2,515.6 545.1,516.2 548.9,516.1 552.8,516.1 556.7,516.1 560.6,515.5 564.5,516 568.3,516 572.2,516 576.1,515.9 580,515.9 583.8,514.8 587.7,513.4 591.6,514.2 595.5,514.7 599.4,515.1 603.2,515.7 607.1,515.7 611,515.7 614.9,515.7 618.8,515.6 622.6,515.6 626.5,502.8 630.4,502.1 634.3,502.8 638.2,503.4 642,503.4 645.9,503.4 649.8,503.4 653.7,503.4 653.7,609.5 649.8,609.5 645.9,609.5 642,609.5 638.2,609.5 634.3,609.5 630.4,609.5 626.5,609.5 622.6,609.5 618.8,609.5 614.9,609.5 611,609.5 607.1,609.5 603.2,609.5 599.4,609.5 595.5,609.5 591.6,609.5 587.7,609.5 583.8,609.5 580,609.5 576.1,609.5 572.2,609.5 568.3,609.5 564.5,609.5 560.6,609.5 556.7,609.5 552.8,609.5 548.9,609.5 545.1,609.5 541.2,609.5 537.3,609.5 533.4,609.5 529.5,609.5 525.7,609.5 521.8,609.5 517.9,609.5 514,609.5 510.1,609.5 506.3,609.5 502.4,609.5 498.5,609.5 494.6,609.5 490.8,609.5 486.9,609.5 483,609.5 479.1,609.5 475.2,609.5 471.4,609.5 467.5,609.5 463.6,609.5 459.7,609.5 455.8,609.5 452,609.5 448.1,609.5 444.2,609.5 440.3,609.5 436.4,609.5 432.6,609.5 428.7,609.5 424.8,609.5 420.9,609.5 417.1,609.5 413.2,609.5 409.3,609.5 405.4,609.5 401.5,609.5 397.7,609.5 393.8,609.5 389.9,609.5 386,609.5 382.1,609.5 378.3,609.5 374.4,609.5 370.5,609.5 366.6,609.5 362.7,609.5 358.9,609.5 355,609.5 351.1,609.5 347.2,609.5 343.4,609.5 339.5,609.5 335.6,609.5 331.7,609.5 327.8,609.5 324,609.5 320.1,609.5 316.2,609.5 312.3,609.5 308.4,609.5 304.6,609.5 300.7,609.5 296.8,609.5 292.9,609.5 289,609.5 285.2,609.5 281.3,609.5 277.4,609.5 273.5,609.5 269.6,609.5 265.8,609.5 261.9,609.5 258,609.5 254.1,609.5 250.3,609.5 246.4,609.5 242.5,609.5 238.6,609.5 234.7,609.5 230.9,609.5 227,609.5 223.1,609.5 219.2,609.5 215.3,609.5 211.5,609.5 207.6,609.5 203.7,609.5 199.8,609.5 195.9,609.5 192.1,609.5 188.2,609.5 184.3,609.5 180.4,609.5 176.6,609.5 172.7,609.5 168.8,609.5 164.9,609.5 161,609.5 157.2,609.5 153.3,609.5 149.4,609.5 145.5,609.5 141.6,609.5 137.8,609.5 133.9,609.5 130,609.5 126.1,609.5 122.2,609.5 118.4,609.5 114.5,609.5 110.6,609.5 106.7,609.5 102.9,609.5 99,609.5 95.1,609.5 91.2,609.5 87.3,609.5 83.5,609.5 79.6,609.5 75.7,609.5" fill="#4C72B0" fill-opacity="0.4"/>
<polyline points="75.7,603.6 79.6,601.2 83.5,608.1 87.3,581.8 91.2,597.4 95.1,595.8 99,601 102.9,563 106.7,597.1 110.6,609 114.5,609 118.4,556.2 122.2,565.1 126.1,609 130,608.6 133.9,608.4 137.8,606 141.6,605.1 145.5,608.1 149.4,608.4 153.3,608.4 157.2,608.4 161,608.4 164.9,608.4 168.8,608.4 172.7,606 176.6,608.4 180.4,608.4 184.3,608.4 188.2,607.7 192.1,608.4 195.9,608.4 199.8,608.4 203.7,606 207.6,608.4 211.5,608.4 215.3,608.4 219.2,598.5 223.1,607.7 227,608.4 230.9,608.4 234.7,608.4 238.6,608.4 242.5,608.4 246.4,608.4 250.3,606.8 254.1,608.1 258,583.4 261.9,573.6 265.8,576.1 269.6,593.2 273.5,606 277.4,608.8 281.3,608.1 285.2,604.2 289,605.1 292.9,608.6 296.8,606.8 300.7,607.4 304.6,591.8 308.4,602 312.3,596.2 316.2,591.8 320.1,609 324,608.6 327.8,601.5 331.7,608.6 335.6,608.1 339.5,602.4 343.4,605.1 347.2,603.8 351.1,605.6 355,608.1 358.9,608.6 362.7,606 366.6,608.4 370.5,608.6 374.4,608.1 378.3,606.5 382.1,601.9 386,604.7 389.9,608.1 393.8,602.4 397.7,608.1 401.5,608.6 405.4,606.8 409.3,608.1 413.2,607.7 417.1,599.9 420.9,608.1 424.8,605.1 428.7,608.4 432.6,608.4 436.4,600.8 440.3,608.4 444.2,608.6 448.1,607.7 452,608.6 455.8,608.6 459.7,608.4 463.6,592.5 467.5,594.6 471.4,601.5 475.2,608.6 479.1,608.4 483,607.2 486.9,604.5 490.8,600.8 494.6,565.1 498.5,600.8 502.4,606.8 506.3,606.5 510.1,608.4 514,608.6 517.9,608.4 521.8,608.1 525.7,603.8 529.5,588.4 533.4,602 537.3,523.4 541.2,608.6 545.1,608.8 548.9,608.4 552.8,606.8 556.7,601.9 560.6,608.1 564.5,608.6 568.3,608.4 572.2,602.4 576.1,600.1 580,601.9 583.8,545.6 587.7,603.3 591.6,605.6 595.5,606.5 599.4,608.8 603.2,579 607.1,586.4 611,607.7 614.9,607.7 618.8,607.7 622.6,587.3 626.5,582.9 630.4,608.6 634.3,608.8 638.2,608.4 642,604.2 645.9,606.8 649.8,594.9 653.7,607.7" fill="none" stroke="#2a2a2a" stroke-width="0.8" stroke-opacity="0.45" stroke-linejoin="round"/>
<g fill="#2a2a2a" fill-opacity="0.45" stroke="#2a2a2a" stroke-opacity="0.45" stroke-width="0.5">
<circle cx="75.7" cy="603.6" r="2.85"/><circle cx="79.6" cy="601.2" r="2.85"/><circle cx="83.5" cy="608.1" r="2.85"/><circle cx="87.3" cy="581.8" r="2.85"/><circle cx="91.2" cy="597.4" r="2.85"/><circle cx="95.1" cy="595.8" r="2.85"/><circle cx="99" cy="601" r="2.85"/><circle cx="102.9" cy="563" r="2.85"/><circle cx="106.7" cy="597.1" r="2.85"/><circle cx="110.6" cy="609" r="2.85"/><circle cx="114.5" cy="609" r="2.85"/><circle cx="118.4" cy="556.2" r="2.85"/><circle cx="122.2" cy="565.1" r="2.85"/><circle cx="126.1" cy="609" r="2.85"/><circle cx="130" cy="608.6" r="2.85"/><circle cx="133.9" cy="608.4" r="2.85"/><circle cx="137.8" cy="606" r="2.85"/><circle cx="141.6" cy="605.1" r="2.85"/><circle cx="145.5" cy="608.1" r="2.85"/><circle cx="149.4" cy="608.4" r="2.85"/><circle cx="153.3" cy="608.4" r="2.85"/><circle cx="157.2" cy="608.4" r="2.85"/><circle cx="161" cy="608.4" r="2.85"/><circle cx="164.9" cy="608.4" r="2.85"/><circle cx="168.8" cy="608.4" r="2.85"/><circle cx="172.7" cy="606" r="2.85"/><circle cx="176.6" cy="608.4" r="2.85"/><circle cx="180.4" cy="608.4" r="2.85"/><circle cx="184.3" cy="608.4" r="2.85"/><circle cx="188.2" cy="607.7" r="2.85"/><circle cx="192.1" cy="608.4" r="2.85"/><circle cx="195.9" cy="608.4" r="2.85"/><circle cx="199.8" cy="608.4" r="2.85"/><circle cx="203.7" cy="606" r="2.85"/><circle cx="207.6" cy="608.4" r="2.85"/><circle cx="211.5" cy="608.4" r="2.85"/><circle cx="215.3" cy="608.4" r="2.85"/><circle cx="219.2" cy="598.5" r="2.85"/><circle cx="223.1" cy="607.7" r="2.85"/><circle cx="227" cy="608.4" r="2.85"/><circle cx="230.9" cy="608.4" r="2.85"/><circle cx="234.7" cy="608.4" r="2.85"/><circle cx="238.6" cy="608.4" r="2.85"/><circle cx="242.5" cy="608.4" r="2.85"/><circle cx="246.4" cy="608.4" r="2.85"/><circle cx="250.3" cy="606.8" r="2.85"/><circle cx="254.1" cy="608.1" r="2.85"/><circle cx="258" cy="583.4" r="2.85"/><circle cx="261.9" cy="573.6" r="2.85"/><circle cx="265.8" cy="576.1" r="2.85"/><circle cx="269.6" cy="593.2" r="2.85"/><circle cx="273.5" cy="606" r="2.85"/><circle cx="277.4" cy="608.8" r="2.85"/><circle cx="281.3" cy="608.1" r="2.85"/><circle cx="285.2" cy="604.2" r="2.85"/><circle cx="289" cy="605.1" r="2.85"/><circle cx="292.9" cy="608.6" r="2.85"/><circle cx="296.8" cy="606.8" r="2.85"/><circle cx="300.7" cy="607.4" r="2.85"/><circle cx="304.6" cy="591.8" r="2.85"/><circle cx="308.4" cy="602" r="2.85"/><circle cx="312.3" cy="596.2" r="2.85"/><circle cx="316.2" cy="591.8" r="2.85"/><circle cx="320.1" cy="609" r="2.85"/><circle cx="324" cy="608.6" r="2.85"/><circle cx="327.8" cy="601.5" r="2.85"/><circle cx="331.7" cy="608.6" r="2.85"/><circle cx="335.6" cy="608.1" r="2.85"/><circle cx="339.5" cy="602.4" r="2.85"/><circle cx="343.4" cy="605.1" r="2.85"/><circle cx="347.2" cy="603.8" r="2.85"/><circle cx="351.1" cy="605.6" r="2.85"/><circle cx="355" cy="608.1" r="2.85"/><circle cx="358.9" cy="608.6" r="2.85"/><circle cx="362.7" cy="606" r="2.85"/><circle cx="366.6" cy="608.4" r="2.85"/><circle cx="370.5" cy="608.6" r="2.85"/><circle cx="374.4" cy="608.1" r="2.85"/><circle cx="378.3" cy="606.5" r="2.85"/><circle cx="382.1" cy="601.9" r="2.85"/><circle cx="386" cy="604.7" r="2.85"/><circle cx="389.9" cy="608.1" r="2.85"/><circle cx="393.8" cy="602.4" r="2.85"/><circle cx="397.7" cy="608.1" r="2.85"/><circle cx="401.5" cy="608.6" r="2.85"/><circle cx="405.4" cy="606.8" r="2.85"/><circle cx="409.3" cy="608.1" r="2.85"/><circle cx="413.2" cy="607.7" r="2.85"/><circle cx="417.1" cy="599.9" r="2.85"/><circle cx="420.9" cy="608.1" r="2.85"/><circle cx="424.8" cy="605.1" r="2.85"/><circle cx="428.7" cy="608.4" r="2.85"/><circle cx="432.6" cy="608.4" r="2.85"/><circle cx="436.4" cy="600.8" r="2.85"/><circle cx="440.3" cy="608.4" r="2.85"/><circle cx="444.2" cy="608.6" r="2.85"/><circle cx="448.1" cy="607.7" r="2.85"/><circle cx="452" cy="608.6" r="2.85"/><circle cx="455.8" cy="608.6" r="2.85"/><circle cx="459.7" cy="608.4" r="2.85"/><circle cx="463.6" cy="592.5" r="2.85"/><circle cx="467.5" cy="594.6" r="2.85"/><circle cx="471.4" cy="601.5" r="2.85"/><circle cx="475.2" cy="608.6" r="2.85"/><circle cx="479.1" cy="608.4" r="2.85"/><circle cx="483" cy="607.2" r="2.85"/><circle cx="486.9" cy="604.5" r="2.85"/><circle cx="490.8" cy="600.8" r="2.85"/><circle cx="494.6" cy="565.1" r="2.85"/><circle cx="498.5" cy="600.8" r="2.85"/><circle cx="502.4" cy="606.8" r="2.85"/><circle cx="506.3" cy="606.5" r="2.85"/><circle cx="510.1" cy="608.4" r="2.85"/><circle cx="514" cy="608.6" r="2.85"/><circle cx="517.9" cy="608.4" r="2.85"/><circle cx="521.8" cy="608.1" r="2.85"/><circle cx="525.7" cy="603.8" r="2.85"/><circle cx="529.5" cy="588.4" r="2.85"/><circle cx="533.4" cy="602" r="2.85"/><circle cx="537.3" cy="523.4" r="2.85"/><circle cx="541.2" cy="608.6" r="2.85"/><circle cx="545.1" cy="608.8" r="2.85"/><circle cx="548.9" cy="608.4" r="2.85"/><circle cx="552.8" cy="606.8" r="2.85"/><circle cx="556.7" cy="601.9" r="2.85"/><circle cx="560.6" cy="608.1" r="2.85"/><circle cx="564.5" cy="608.6" r="2.85"/><circle cx="568.3" cy="608.4" r="2.85"/><circle cx="572.2" cy="602.4" r="2.85"/><circle cx="576.1" cy="600.1" r="2.85"/><circle cx="580" cy="601.9" r="2.85"/><circle cx="583.8" cy="545.6" r="2.85"/><circle cx="587.7" cy="603.3" r="2.85"/><circle cx="591.6" cy="605.6" r="2.85"/><circle cx="595.5" cy="606.5" r="2.85"/><circle cx="599.4" cy="608.8" r="2.85"/><circle cx="603.2" cy="579" r="2.85"/><circle cx="607.1" cy="586.4" r="2.85"/><circle cx="611" cy="607.7" r="2.85"/><circle cx="614.9" cy="607.7" r="2.85"/><circle cx="618.8" cy="607.7" r="2.85"/><circle cx="622.6" cy="587.3" r="2.85"/><circle cx="626.5" cy="582.9" r="2.85"/><circle cx="630.4" cy="608.6" r="2.85"/><circle cx="634.3" cy="608.8" r="2.85"/><circle cx="638.2" cy="608.4" r="2.85"/><circle cx="642" cy="604.2" r="2.85"/><circle cx="645.9" cy="606.8" r="2.85"/><circle cx="649.8" cy="594.9" r="2.85"/><circle cx="653.7" cy="607.7" r="2.85"/>
</g>
<polyline points="75.7,604 79.6,604 83.5,604 87.3,604 91.2,604 95.1,604 99,604 102.9,604 106.7,604 110.6,604 114.5,604 118.4,604 122.2,604 126.1,604 130,604 133.9,604 137.8,604 141.6,604 145.5,604 149.4,604 153.3,604 157.2,604 161,604 164.9,604 168.8,604 172.7,603.5 176.6,603.5 180.4,603.5 184.3,603.5 188.2,603.5 192.1,603.5 195.9,603.5 199.8,603.5 203.7,603.5 207.6,603.5 211.5,603.5 215.3,603.5 219.2,603.5 223.1,603.5 227,603.5 230.9,603.5 234.7,603.5 238.6,603.5 242.5,603.5 246.4,603.5 250.3,603.5 254.1,603.5 258,603.5 261.9,603.5 265.8,603.5 269.6,603.5 273.5,603.5 277.4,603.5 281.3,603.5 285.2,603.5 289,603.5 292.9,603.5 296.8,603.5 300.7,603.5 304.6,603.5 308.4,603.5 312.3,603.5 316.2,603.5 320.1,603.5 324,603.5 327.8,603.5 331.7,603.5 335.6,603.5 339.5,603.5 343.4,603.5 347.2,603.5 351.1,603.5 355,603.5 358.9,603.5 362.7,603.5 366.6,603.5 370.5,603.5 374.4,603.5 378.3,603.5 382.1,603.5 386,603.5 389.9,603.5 393.8,603.5 397.7,602.8 401.5,602.8 405.4,602.8 409.3,602.8 413.2,602.8 417.1,602.8 420.9,602.8 424.8,602.8 428.7,602.8 432.6,602.8 436.4,602.8 440.3,602.8 444.2,602.8 448.1,602.8 452,602.8 455.8,602.8 459.7,602.8 463.6,602.8 467.5,602.8 471.4,602.8 475.2,602.8 479.1,602.8 483,602.8 486.9,602.8 490.8,602.8 494.6,602.8 498.5,602.8 502.4,602.8 506.3,602.8 510.1,602.8 514,602.8 517.9,602.8 521.8,602.8 525.7,602.8 529.5,602.8 533.4,602.8 537.3,602.8 541.2,602.8 545.1,602.8 548.9,602.8 552.8,602.8 556.7,602.8 560.6,602.8 564.5,602.8 568.3,602.8 572.2,602.8 576.1,602.8 580,602.8 583.8,602.8 587.7,602.8 591.6,602.8 595.5,602.8 599.4,602.8 603.2,602.8 607.1,602.8 611,602.8 614.9,602.8 618.8,602.8 622.6,602.8 626.5,601.9 630.4,601.9 634.3,601.9 638.2,601.9 642,601.9 645.9,601.9 649.8,601.9 653.7,601.9" fill="none" stroke="#4C72B0" stroke-width="0.8" stroke-opacity="0.35" stroke-linejoin="round"/>
<path d="M75.7 607.4V600.6M79.6 607.4V600.6M83.5 607.4V600.6M87.3 607.4V600.6M91.2 607.4V600.6M95.1 607.4V600.6M99 607.4V600.6M102.9 607.4V600.6M106.7 607.4V600.6M110.6 607.4V600.6M114.5 607.4V600.6M118.4 607.4V600.6M122.2 607.4V600.6M126.1 607.4V600.6M130 607.4V600.6M133.9 607.4V600.6M137.8 607.4V600.6M141.6 607.4V600.6M145.5 607.4V600.6M149.4 607.4V600.6M153.3 607.4V600.6M157.2 607.4V600.6M161 607.4V600.6M164.9 607.4V600.6M168.8 607.4V600.6M172.7 606.8V600.1M176.6 606.8V600.1M180.4 606.8V600.1M184.3 606.8V600.1M188.2 606.8V600.1M192.1 606.8V600.1M195.9 606.8V600.1M199.8 606.8V600.1M203.7 606.8V600.1M207.6 606.8V600.1M211.5 606.8V600.1M215.3 606.8V600.1M219.2 606.8V600.1M223.1 606.8V600.1M227 606.8V600.1M230.9 606.8V600.1M234.7 606.8V600.1M238.6 606.8V600.1M242.5 606.8V600.1M246.4 606.8V600.1M250.3 606.8V600.1M254.1 606.8V600.1M258 606.8V600.1M261.9 606.8V600.1M265.8 606.8V600.1M269.6 606.8V600.1M273.5 606.8V600.1M277.4 606.8V600.1M281.3 606.8V600.1M285.2 606.8V600.1M289 606.8V600.1M292.9 606.8V600.1M296.8 606.8V600.1M300.7 606.8V600.1M304.6 606.8V600.1M308.4 606.8V600.1M312.3 606.8V600.1M316.2 606.8V600.1M320.1 606.8V600.1M324 606.8V600.1M327.8 606.8V600.1M331.7 606.8V600.1M335.6 606.8V600.1M339.5 606.8V600.1M343.4 606.8V600.1M347.2 606.8V600.1M351.1 606.8V600.1M355 606.8V600.1M358.9 606.8V600.1M362.7 606.8V600.1M366.6 606.8V600.1M370.5 606.8V600.1M374.4 606.8V600.1M378.3 606.8V600.1M382.1 606.8V600.1M386 606.8V600.1M389.9 606.8V600.1M393.8 606.8V600.1M397.7 606.1V599.4M401.5 606.1V599.4M405.4 606.1V599.4M409.3 606.1V599.4M413.2 606.1V599.4M417.1 606.1V599.4M420.9 606.1V599.4M424.8 606.1V599.4M428.7 606.1V599.4M432.6 606.1V599.4M436.4 606.1V599.4M440.3 606.1V599.4M444.2 606.1V599.4M448.1 606.1V599.4M452 606.1V599.4M455.8 606.1V599.4M459.7 606.1V599.4M463.6 606.1V599.4M467.5 606.1V599.4M471.4 606.1V599.4M475.2 606.1V599.4M479.1 606.1V599.4M483 606.1V599.4M486.9 606.1V599.4M490.8 606.1V599.4M494.6 606.1V599.4M498.5 606.1V599.4M502.4 606.1V599.4M506.3 606.1V599.4M510.1 606.1V599.4M514 606.1V599.4M517.9 606.1V599.4M521.8 606.1V599.4M525.7 606.1V599.4M529.5 606.1V599.4M533.4 606.1V599.4M537.3 606.1V599.4M541.2 606.1V599.4M545.1 606.1V599.4M548.9 606.1V599.4M552.8 606.1V599.4M556.7 606.1V599.4M560.6 606.1V599.4M564.5 606.1V599.4M568.3 606.1V599.4M572.2 606.1V599.4M576.1 606.1V599.4M580 606.1V599.4M583.8 606.1V599.4M587.7 606.1V599.4M591.6 606.1V599.4M595.5 606.1V599.4M599.4 606.1V599.4M603.2 606.1V599.4M607.1 606.1V599.4M611 606.1V599.4M614.9 606.1V599.4M618.8 606.1V599.4M622.6 606.1V599.4M626.5 605.2V598.5M630.4 605.2V598.5M634.3 605.2V598.5M638.2 605.2V598.5M642 605.2V598.5M645.9 605.2V598.5M649.8 605.2V598.5M653.7 605.2V598.5M74.1 607.4H77.3M74.1 600.6H77.3M78 607.4H81.2M78 600.6H81.2M81.9 607.4H85.1M81.9 600.6H85.1M85.7 607.4H88.9M85.7 600.6H88.9M89.6 607.4H92.8M89.6 600.6H92.8M93.5 607.4H96.7M93.5 600.6H96.7M97.4 607.4H100.6M97.4 600.6H100.6M101.3 607.4H104.5M101.3 600.6H104.5M105.1 607.4H108.3M105.1 600.6H108.3M109 607.4H112.2M109 600.6H112.2M112.9 607.4H116.1M112.9 600.6H116.1M116.8 607.4H120M116.8 600.6H120M120.6 607.4H123.8M120.6 600.6H123.8M124.5 607.4H127.7M124.5 600.6H127.7M128.4 607.4H131.6M128.4 600.6H131.6M132.3 607.4H135.5M132.3 600.6H135.5M136.2 607.4H139.4M136.2 600.6H139.4M140 607.4H143.2M140 600.6H143.2M143.9 607.4H147.1M143.9 600.6H147.1M147.8 607.4H151M147.8 600.6H151M151.7 607.4H154.9M151.7 600.6H154.9M155.6 607.4H158.8M155.6 600.6H158.8M159.4 607.4H162.6M159.4 600.6H162.6M163.3 607.4H166.5M163.3 600.6H166.5M167.2 607.4H170.4M167.2 600.6H170.4M171.1 606.8H174.3M171.1 600.1H174.3M175 606.8H178.2M175 600.1H178.2M178.8 606.8H182M178.8 600.1H182M182.7 606.8H185.9M182.7 600.1H185.9M186.6 606.8H189.8M186.6 600.1H189.8M190.5 606.8H193.7M190.5 600.1H193.7M194.3 606.8H197.5M194.3 600.1H197.5M198.2 606.8H201.4M198.2 600.1H201.4M202.1 606.8H205.3M202.1 600.1H205.3M206 606.8H209.2M206 600.1H209.2M209.9 606.8H213.1M209.9 600.1H213.1M213.7 606.8H216.9M213.7 600.1H216.9M217.6 606.8H220.8M217.6 600.1H220.8M221.5 606.8H224.7M221.5 600.1H224.7M225.4 606.8H228.6M225.4 600.1H228.6M229.3 606.8H232.5M229.3 600.1H232.5M233.1 606.8H236.3M233.1 600.1H236.3M237 606.8H240.2M237 600.1H240.2M240.9 606.8H244.1M240.9 600.1H244.1M244.8 606.8H248M244.8 600.1H248M248.7 606.8H251.9M248.7 600.1H251.9M252.5 606.8H255.7M252.5 600.1H255.7M256.4 606.8H259.6M256.4 600.1H259.6M260.3 606.8H263.5M260.3 600.1H263.5M264.2 606.8H267.4M264.2 600.1H267.4M268 606.8H271.2M268 600.1H271.2M271.9 606.8H275.1M271.9 600.1H275.1M275.8 606.8H279M275.8 600.1H279M279.7 606.8H282.9M279.7 600.1H282.9M283.6 606.8H286.8M283.6 600.1H286.8M287.4 606.8H290.6M287.4 600.1H290.6M291.3 606.8H294.5M291.3 600.1H294.5M295.2 606.8H298.4M295.2 600.1H298.4M299.1 606.8H302.3M299.1 600.1H302.3M303 606.8H306.2M303 600.1H306.2M306.8 606.8H310M306.8 600.1H310M310.7 606.8H313.9M310.7 600.1H313.9M314.6 606.8H317.8M314.6 600.1H317.8M318.5 606.8H321.7M318.5 600.1H321.7M322.4 606.8H325.6M322.4 600.1H325.6M326.2 606.8H329.4M326.2 600.1H329.4M330.1 606.8H333.3M330.1 600.1H333.3M334 606.8H337.2M334 600.1H337.2M337.9 606.8H341.1M337.9 600.1H341.1M341.8 606.8H345M341.8 600.1H345M345.6 606.8H348.8M345.6 600.1H348.8M349.5 606.8H352.7M349.5 600.1H352.7M353.4 606.8H356.6M353.4 600.1H356.6M357.3 606.8H360.5M357.3 600.1H360.5M361.1 606.8H364.3M361.1 600.1H364.3M365 606.8H368.2M365 600.1H368.2M368.9 606.8H372.1M368.9 600.1H372.1M372.8 606.8H376M372.8 600.1H376M376.7 606.8H379.9M376.7 600.1H379.9M380.5 606.8H383.7M380.5 600.1H383.7M384.4 606.8H387.6M384.4 600.1H387.6M388.3 606.8H391.5M388.3 600.1H391.5M392.2 606.8H395.4M392.2 600.1H395.4M396.1 606.1H399.3M396.1 599.4H399.3M399.9 606.1H403.1M399.9 599.4H403.1M403.8 606.1H407M403.8 599.4H407M407.7 606.1H410.9M407.7 599.4H410.9M411.6 606.1H414.8M411.6 599.4H414.8M415.5 606.1H418.7M415.5 599.4H418.7M419.3 606.1H422.5M419.3 599.4H422.5M423.2 606.1H426.4M423.2 599.4H426.4M427.1 606.1H430.3M427.1 599.4H430.3M431 606.1H434.2M431 599.4H434.2M434.8 606.1H438M434.8 599.4H438M438.7 606.1H441.9M438.7 599.4H441.9M442.6 606.1H445.8M442.6 599.4H445.8M446.5 606.1H449.7M446.5 599.4H449.7M450.4 606.1H453.6M450.4 599.4H453.6M454.2 606.1H457.4M454.2 599.4H457.4M458.1 606.1H461.3M458.1 599.4H461.3M462 606.1H465.2M462 599.4H465.2M465.9 606.1H469.1M465.9 599.4H469.1M469.8 606.1H473M469.8 599.4H473M473.6 606.1H476.8M473.6 599.4H476.8M477.5 606.1H480.7M477.5 599.4H480.7M481.4 606.1H484.6M481.4 599.4H484.6M485.3 606.1H488.5M485.3 599.4H488.5M489.2 606.1H492.4M489.2 599.4H492.4M493 606.1H496.2M493 599.4H496.2M496.9 606.1H500.1M496.9 599.4H500.1M500.8 606.1H504M500.8 599.4H504M504.7 606.1H507.9M504.7 599.4H507.9M508.5 606.1H511.7M508.5 599.4H511.7M512.4 606.1H515.6M512.4 599.4H515.6M516.3 606.1H519.5M516.3 599.4H519.5M520.2 606.1H523.4M520.2 599.4H523.4M524.1 606.1H527.3M524.1 599.4H527.3M527.9 606.1H531.1M527.9 599.4H531.1M531.8 606.1H535M531.8 599.4H535M535.7 606.1H538.9M535.7 599.4H538.9M539.6 606.1H542.8M539.6 599.4H542.8M543.5 606.1H546.7M543.5 599.4H546.7M547.3 606.1H550.5M547.3 599.4H550.5M551.2 606.1H554.4M551.2 599.4H554.4M555.1 606.1H558.3M555.1 599.4H558.3M559 606.1H562.2M559 599.4H562.2M562.9 606.1H566.1M562.9 599.4H566.1M566.7 606.1H569.9M566.7 599.4H569.9M570.6 606.1H573.8M570.6 599.4H573.8M574.5 606.1H577.7M574.5 599.4H577.7M578.4 606.1H581.6M578.4 599.4H581.6M582.2 606.1H585.4M582.2 599.4H585.4M586.1 606.1H589.3M586.1 599.4H589.3M590 606.1H593.2M590 599.4H593.2M593.9 606.1H597.1M593.9 599.4H597.1M597.8 606.1H601M597.8 599.4H601M601.6 606.1H604.8M601.6 599.4H604.8M605.5 606.1H608.7M605.5 599.4H608.7M609.4 606.1H612.6M609.4 599.4H612.6M613.3 606.1H616.5M613.3 599.4H616.5M617.2 606.1H620.4M617.2 599.4H620.4M621 606.1H624.2M621 599.4H624.2M624.9 605.2H628.1M624.9 598.5H628.1M628.8 605.2H632M628.8 598.5H632M632.7 605.2H635.9M632.7 598.5H635.9M636.6 605.2H639.8M636.6 598.5H639.8M640.4 605.2H643.6M640.4 598.5H643.6M644.3 605.2H647.5M644.3 598.5H647.5M648.2 605.2H651.4M648.2 598.5H651.4M652.1 605.2H655.3M652.1 598.5H655.3" stroke="#4C72B0" stroke-width="0.9" stroke-opacity="0.4" fill="none"/>
<g fill="#4C72B0" fill-opacity="0.45" stroke="#4C72B0" stroke-opacity="0.45" stroke-width="0.5">
<circle cx="75.7" cy="604" r="2.45"/><circle cx="79.6" cy="604" r="2.45"/><circle cx="83.5" cy="604" r="2.45"/><circle cx="87.3" cy="604" r="2.45"/><circle cx="91.2" cy="604" r="2.45"/><circle cx="95.1" cy="604" r="2.45"/><circle cx="99" cy="604" r="2.45"/><circle cx="102.9" cy="604" r="2.45"/><circle cx="106.7" cy="604" r="2.45"/><circle cx="110.6" cy="604" r="2.45"/><circle cx="114.5" cy="604" r="2.45"/><circle cx="118.4" cy="604" r="2.45"/><circle cx="122.2" cy="604" r="2.45"/><circle cx="126.1" cy="604" r="2.45"/><circle cx="130" cy="604" r="2.45"/><circle cx="133.9" cy="604" r="2.45"/><circle cx="137.8" cy="604" r="2.45"/><circle cx="141.6" cy="604" r="2.45"/><circle cx="145.5" cy="604" r="2.45"/><circle cx="149.4" cy="604" r="2.45"/><circle cx="153.3" cy="604" r="2.45"/><circle cx="157.2" cy="604" r="2.45"/><circle cx="161" cy="604" r="2.45"/><circle cx="164.9" cy="604" r="2.45"/><circle cx="168.8" cy="604" r="2.45"/><circle cx="172.7" cy="603.5" r="2.45"/><circle cx="176.6" cy="603.5" r="2.45"/><circle cx="180.4" cy="603.5" r="2.45"/><circle cx="184.3" cy="603.5" r="2.45"/><circle cx="188.2" cy="603.5" r="2.45"/><circle cx="192.1" cy="603.5" r="2.45"/><circle cx="195.9" cy="603.5" r="2.45"/><circle cx="199.8" cy="603.5" r="2.45"/><circle cx="203.7" cy="603.5" r="2.45"/><circle cx="207.6" cy="603.5" r="2.45"/><circle cx="211.5" cy="603.5" r="2.45"/><circle cx="215.3" cy="603.5" r="2.45"/><circle cx="219.2" cy="603.5" r="2.45"/><circle cx="223.1" cy="603.5" r="2.45"/><circle cx="227" cy="603.5" r="2.45"/><circle cx="230.9" cy="603.5" r="2.45"/><circle cx="234.7" cy="603.5" r="2.45"/><circle cx="238.6" cy="603.5" r="2.45"/><circle cx="242.5" cy="603.5" r="2.45"/><circle cx="246.4" cy="603.5" r="2.45"/><circle cx="250.3" cy="603.5" r="2.45"/><circle cx="254.1" cy="603.5" r="2.45"/><circle cx="258" cy="603.5" r="2.45"/><circle cx="261.9" cy="603.5" r="2.45"/><circle cx="265.8" cy="603.5" r="2.45"/><circle cx="269.6" cy="603.5" r="2.45"/><circle cx="273.5" cy="603.5" r="2.45"/><circle cx="277.4" cy="603.5" r="2.45"/><circle cx="281.3" cy="603.5" r="2.45"/><circle cx="285.2" cy="603.5" r="2.45"/><circle cx="289" cy="603.5" r="2.45"/><circle cx="292.9" cy="603.5" r="2.45"/><circle cx="296.8" cy="603.5" r="2.45"/><circle cx="300.7" cy="603.5" r="2.45"/><circle cx="304.6" cy="603.5" r="2.45"/><circle cx="308.4" cy="603.5" r="2.45"/><circle cx="312.3" cy="603.5" r="2.45"/><circle cx="316.2" cy="603.5" r="2.45"/><circle cx="320.1" cy="603.5" r="2.45"/><circle cx="324" cy="603.5" r="2.45"/><circle cx="327.8" cy="603.5" r="2.45"/><circle cx="331.7" cy="603.5" r="2.45"/><circle cx="335.6" cy="603.5" r="2.45"/><circle cx="339.5" cy="603.5" r="2.45"/><circle cx="343.4" cy="603.5" r="2.45"/><circle cx="347.2" cy="603.5" r="2.45"/><circle cx="351.1" cy="603.5" r="2.45"/><circle cx="355" cy="603.5" r="2.45"/><circle cx="358.9" cy="603.5" r="2.45"/><circle cx="362.7" cy="603.5" r="2.45"/><circle cx="366.6" cy="603.5" r="2.45"/><circle cx="370.5" cy="603.5" r="2.45"/><circle cx="374.4" cy="603.5" r="2.45"/><circle cx="378.3" cy="603.5" r="2.45"/><circle cx="382.1" cy="603.5" r="2.45"/><circle cx="386" cy="603.5" r="2.45"/><circle cx="389.9" cy="603.5" r="2.45"/><circle cx="393.8" cy="603.5" r="2.45"/><circle cx="397.7" cy="602.8" r="2.45"/><circle cx="401.5" cy="602.8" r="2.45"/><circle cx="405.4" cy="602.8" r="2.45"/><circle cx="409.3" cy="602.8" r="2.45"/><circle cx="413.2" cy="602.8" r="2.45"/><circle cx="417.1" cy="602.8" r="2.45"/><circle cx="420.9" cy="602.8" r="2.45"/><circle cx="424.8" cy="602.8" r="2.45"/><circle cx="428.7" cy="602.8" r="2.45"/><circle cx="432.6" cy="602.8" r="2.45"/><circle cx="436.4" cy="602.8" r="2.45"/><circle cx="440.3" cy="602.8" r="2.45"/><circle cx="444.2" cy="602.8" r="2.45"/><circle cx="448.1" cy="602.8" r="2.45"/><circle cx="452" cy="602.8" r="2.45"/><circle cx="455.8" cy="602.8" r="2.45"/><circle cx="459.7" cy="602.8" r="2.45"/><circle cx="463.6" cy="602.8" r="2.45"/><circle cx="467.5" cy="602.8" r="2.45"/><circle cx="471.4" cy="602.8" r="2.45"/><circle cx="475.2" cy="602.8" r="2.45"/><circle cx="479.1" cy="602.8" r="2.45"/><circle cx="483" cy="602.8" r="2.45"/><circle cx="486.9" cy="602.8" r="2.45"/><circle cx="490.8" cy="602.8" r="2.45"/><circle cx="494.6" cy="602.8" r="2.45"/><circle cx="498.5" cy="602.8" r="2.45"/><circle cx="502.4" cy="602.8" r="2.45"/><circle cx="506.3" cy="602.8" r="2.45"/><circle cx="510.1" cy="602.8" r="2.45"/><circle cx="514" cy="602.8" r="2.45"/><circle cx="517.9" cy="602.8" r="2.45"/><circle cx="521.8" cy="602.8" r="2.45"/><circle cx="525.7" cy="602.8" r="2.45"/><circle cx="529.5" cy="602.8" r="2.45"/><circle cx="533.4" cy="602.8" r="2.45"/><circle cx="537.3" cy="602.8" r="2.45"/><circle cx="541.2" cy="602.8" r="2.45"/><circle cx="545.1" cy="602.8" r="2.45"/><circle cx="548.9" cy="602.8" r="2.45"/><circle cx="552.8" cy="602.8" r="2.45"/><circle cx="556.7" cy="602.8" r="2.45"/><circle cx="560.6" cy="602.8" r="2.45"/><circle cx="564.5" cy="602.8" r="2.45"/><circle cx="568.3" cy="602.8" r="2.45"/><circle cx="572.2" cy="602.8" r="2.45"/><circle cx="576.1" cy="602.8" r="2.45"/><circle cx="580" cy="602.8" r="2.45"/><circle cx="583.8" cy="602.8" r="2.45"/><circle cx="587.7" cy="602.8" r="2.45"/><circle cx="591.6" cy="602.8" r="2.45"/><circle cx="595.5" cy="602.8" r="2.45"/><circle cx="599.4" cy="602.8" r="2.45"/><circle cx="603.2" cy="602.8" r="2.45"/><circle cx="607.1" cy="602.8" r="2.45"/><circle cx="611" cy="602.8" r="2.45"/><circle cx="614.9" cy="602.8" r="2.45"/><circle cx="618.8" cy="602.8" r="2.45"/><circle cx="622.6" cy="602.8" r="2.45"/><circle cx="626.5" cy="601.9" r="2.45"/><circle cx="630.4" cy="601.9" r="2.45"/><circle cx="634.3" cy="601.9" r="2.45"/><circle cx="638.2" cy="601.9" r="2.45"/><circle cx="642" cy="601.9" r="2.45"/><circle cx="645.9" cy="601.9" r="2.45"/><circle cx="649.8" cy="601.9" r="2.45"/><circle cx="653.7" cy="601.9" r="2.45"/>
</g>
</g>
<rect x="46.7" y="432" width="635.8" height="177.5" fill="none" stroke="#dadada" stroke-width="1"/>
<g font-family="Liberation Sans, Arial, sans-serif" font-size="13.4" fill="#333">
<text x="75.7" y="624.8" text-anchor="middle">0</text>
<text x="114.5" y="624.8" text-anchor="middle">10</text>
<text x="153.3" y="624.8" text-anchor="middle">20</text>
<text x="192.1" y="624.8" text-anchor="middle">30</text>
<text x="230.9" y="624.8" text-anchor="middle">40</text>
<text x="269.6" y="624.8" text-anchor="middle">50</text>
<text x="308.4" y="624.8" text-anchor="middle">60</text>
<text x="347.2" y="624.8" text-anchor="middle">70</text>
<text x="386" y="624.8" text-anchor="middle">80</text>
<text x="424.8" y="624.8" text-anchor="middle">90</text>
<text x="463.6" y="624.8" text-anchor="middle">100</text>
<text x="502.4" y="624.8" text-anchor="middle">110</text>
<text x="541.2" y="624.8" text-anchor="middle">120</text>
<text x="580" y="624.8" text-anchor="middle">130</text>
<text x="618.8" y="624.8" text-anchor="middle">140</text>
<text x="40.8" y="614.4" text-anchor="end">0</text>
<text x="40.8" y="578.9" text-anchor="end">20</text>
<text x="40.8" y="543.4" text-anchor="end">40</text>
<text x="40.8" y="507.9" text-anchor="end">60</text>
<text x="40.8" y="472.4" text-anchor="end">80</text>
<text x="40.8" y="436.9" text-anchor="end">100</text>
</g>
<text font-family="Liberation Sans, Arial, sans-serif" font-size="14.15" fill="#333" text-anchor="middle" transform="translate(11.2 521.2) rotate(-90)">Prediction by One Data Source</text>
<text font-family="Liberation Sans, Arial, sans-serif" font-size="20" font-weight="bold" fill="#111" text-anchor="middle" x="364.4" y="639.8">(c)</text>
<rect x="453.1" y="439.5" width="222.6" height="42.5" rx="3" ry="3" fill="#fff" fill-opacity="0.8" stroke="#e4e4e4" stroke-width="1"/>
<line x1="458.9" y1="450.7" x2="487.9" y2="450.7" stroke="#2a2a2a" stroke-width="1" stroke-opacity="0.45"/>
<circle cx="473.4" cy="450.7" r="2.9" fill="#2a2a2a" fill-opacity="0.5"/>
<text font-family="Liberation Sans, Arial, sans-serif" font-size="14.25" fill="#333" x="498.5" y="455.3">truth</text>
<line x1="458.9" y1="469.3" x2="487.9" y2="469.3" stroke="#4C72B0" stroke-width="1" stroke-opacity="0.4"/>
<circle cx="473.4" cy="469.3" r="2.9" fill="#4C72B0" fill-opacity="0.45"/>
<text font-family="Liberation Sans, Arial, sans-serif" font-size="14.25" fill="#333" x="498.5" y="473.9">prediction by Bitfinex trans.</text>
<rect x="46.7" y="644.5" width="635.8" height="176.6" fill="#fff"/>
<path d="M75.7 644.5V821.1M114.5 644.5V821.1M153.3 644.5V821.1M192.1 644.5V821.1M230.9 644.5V821.1M269.6 644.5V821.1M308.4 644.5V821.1M347.2 644.5V821.1M386 644.5V821.1M424.8 644.5V821.1M463.6 644.5V821.1M502.4 644.5V821.1M541.2 644.5V821.1M580 644.5V821.1M618.8 644.5V821.1M46.7 785.8H682.5M46.7 750.5H682.5M46.7 715.2H682.5M46.7 679.8H682.5" stroke="#e0e0e0" stroke-width="0.8" fill="none"/>
<clipPath id="cpp1"><rect x="46.7" y="644.5" width="635.8" height="176.6"/></clipPath><g clip-path="url(#cpp1)">
<polygon points="75.7,805.3 79.6,805.3 83.5,805.3 87.3,805.3 91.2,805.3 95.1,805.3 99,805.3 102.9,805.3 106.7,805.3 110.6,805.3 114.5,805.3 118.4,805.3 122.2,805.3 126.1,805.3 130,805.3 133.9,805.3 137.8,805.3 141.6,805.3 145.5,805.3 149.4,805.3 153.3,805.3 157.2,805.3 161,805.3 164.9,805.3 168.8,805.3 172.7,803.1 176.6,803.1 180.4,803.1 184.3,803.1 188.2,803.1 192.1,803.1 195.9,803.1 199.8,803.1 203.7,803.1 207.6,803.1 211.5,803.1 215.3,803.1 219.2,803.1 223.1,803.1 227,803.1 230.9,803.1 234.7,803.1 238.6,803.1 242.5,803.1 246.4,803.1 250.3,803.1 254.1,803.1 258,803.1 261.9,803.1 265.8,803.1 269.6,803.1 273.5,803.1 277.4,803.1 281.3,803.1 285.2,803.1 289,803.1 292.9,803.1 296.8,803.1 300.7,803.1 304.6,803.1 308.4,803.1 312.3,803.1 316.2,803.1 320.1,803.1 324,803.1 327.8,803.1 331.7,803.1 335.6,803.1 339.5,803.1 343.4,803.1 347.2,803.1 351.1,803.1 355,803.1 358.9,803.1 362.7,803.1 366.6,803.1 370.5,803.1 374.4,803.1 378.3,803.1 382.1,803.1 386,803.1 389.9,803.1 393.8,803.1 397.7,799.2 401.5,799.2 405.4,799.2 409.3,799.2 413.2,799.2 417.1,799.2 420.9,799.2 424.8,799.2 428.7,799.2 432.6,799.2 436.4,799.2 440.3,799.2 444.2,799.2 448.1,799.2 452,799.2 455.8,799.2 459.7,799.2 463.6,797.8 467.5,797.8 471.4,797.8 475.2,797.8 479.1,797.8 483,797.8 486.9,797.8 490.8,797.8 494.6,797.8 498.5,797.8 502.4,797.8 506.3,797.8 510.1,797.8 514,797.8 517.9,797.8 521.8,797.8 525.7,797.8 529.5,797.8 533.4,797.8 537.3,797.8 541.2,797.8 545.1,797.8 548.9,797.8 552.8,797.8 556.7,797.8 560.6,797.8 564.5,797.8 568.3,797.8 572.2,797.8 576.1,797.8 580,797.8 583.8,797.8 587.7,797.8 591.6,797.8 595.5,797.8 599.4,797.8 603.2,797.8 607.1,797.8 611,797.8 614.9,797.8 618.8,797.8 622.6,797.8 626.5,797.8 630.4,797.8 634.3,797.8 638.2,797.8 642,797.8 645.9,797.8 649.8,797.8 653.7,797.8 653.7,821.1 649.8,821.1 645.9,821.1 642,821.1 638.2,821.1 634.3,821.1 630.4,821.1 626.5,821.1 622.6,821.1 618.8,821.1 614.9,821.1 611,821.1 607.1,821.1 603.2,821.1 599.4,821.1 595.5,821.1 591.6,821.1 587.7,821.1 583.8,821.1 580,821.1 576.1,821.1 572.2,821.1 568.3,821.1 564.5,821.1 560.6,821.1 556.7,821.1 552.8,821.1 548.9,821.1 545.1,821.1 541.2,821.1 537.3,821.1 533.4,821.1 529.5,821.1 525.7,821.1 521.8,821.1 517.9,821.1 514,821.1 510.1,821.1 506.3,821.1 502.4,821.1 498.5,821.1 494.6,821.1 490.8,821.1 486.9,821.1 483,821.1 479.1,821.1 475.2,821.1 471.4,821.1 467.5,821.1 463.6,821.1 459.7,821.1 455.8,821.1 452,821.1 448.1,821.1 444.2,821.1 440.3,821.1 436.4,821.1 432.6,821.1 428.7,821.1 424.8,821.1 420.9,821.1 417.1,821.1 413.2,821.1 409.3,821.1 405.4,821.1 401.5,821.1 397.7,821.1 393.8,821.1 389.9,821.1 386,821.1 382.1,821.1 378.3,821.1 374.4,821.1 370.5,821.1 366.6,821.1 362.7,821.1 358.9,821.1 355,821.1 351.1,821.1 347.2,821.1 343.4,821.1 339.5,821.1 335.6,821.1 331.7,821.1 327.8,821.1 324,821.1 320.1,821.1 316.2,821.1 312.3,821.1 308.4,821.1 304.6,821.1 300.7,821.1 296.8,821.1 292.9,821.1 289,821.1 285.2,821.1 281.3,821.1 277.4,821.1 273.5,821.1 269.6,821.1 265.8,821.1 261.9,821.1 258,821.1 254.1,821.1 250.3,821.1 246.4,821.1 242.5,821.1 238.6,821.1 234.7,821.1 230.9,821.1 227,821.1 223.1,821.1 219.2,821.1 215.3,821.1 211.5,821.1 207.6,821.1 203.7,821.1 199.8,821.1 195.9,821.1 192.1,821.1 188.2,821.1 184.3,821.1 180.4,821.1 176.6,821.1 172.7,821.1 168.8,821.1 164.9,821.1 161,821.1 157.2,821.1 153.3,821.1 149.4,821.1 145.5,821.1 141.6,821.1 137.8,821.1 133.9,821.1 130,821.1 126.1,821.1 122.2,821.1 118.4,821.1 114.5,821.1 110.6,821.1 106.7,821.1 102.9,821.1 99,821.1 95.1,821.1 91.2,821.1 87.3,821.1 83.5,821.1 79.6,821.1 75.7,821.1" fill="#C44E52" fill-opacity="0.4"/>
<polyline points="75.7,815.3 79.6,812.8 83.5,819.7 87.3,793.6 91.2,809.1 95.1,807.5 99,812.7 102.9,774.9 106.7,808.8 110.6,820.6 114.5,820.6 118.4,768.2 122.2,777 126.1,820.6 130,820.3 133.9,820.1 137.8,817.6 141.6,816.7 145.5,819.7 149.4,820.1 153.3,820.1 157.2,820.1 161,820.1 164.9,820.1 168.8,820.1 172.7,817.6 176.6,820.1 180.4,820.1 184.3,820.1 188.2,819.4 192.1,820.1 195.9,820.1 199.8,820.1 203.7,817.6 207.6,820.1 211.5,820.1 215.3,820.1 219.2,810.2 223.1,819.4 227,820.1 230.9,820.1 234.7,820.1 238.6,820.1 242.5,820.1 246.4,820.1 250.3,818.5 254.1,819.7 258,795.2 261.9,785.5 265.8,787.9 269.6,804.9 273.5,817.6 277.4,820.4 281.3,819.7 285.2,815.9 289,816.7 292.9,820.3 296.8,818.5 300.7,819 304.6,803.5 308.4,813.7 312.3,807.9 316.2,803.5 320.1,820.6 324,820.3 327.8,813.2 331.7,820.3 335.6,819.7 339.5,814.1 343.4,816.7 347.2,815.5 351.1,817.3 355,819.7 358.9,820.3 362.7,817.6 366.6,820.1 370.5,820.3 374.4,819.7 378.3,818.1 382.1,813.6 386,816.4 389.9,819.7 393.8,814.1 397.7,819.7 401.5,820.3 405.4,818.5 409.3,819.7 413.2,819.4 417.1,811.6 420.9,819.7 424.8,816.7 428.7,820.1 432.6,820.1 436.4,812.5 440.3,820.1 444.2,820.3 448.1,819.4 452,820.3 455.8,820.3 459.7,820.1 463.6,804.2 467.5,806.3 471.4,813.2 475.2,820.3 479.1,820.1 483,818.9 486.9,816.2 490.8,812.5 494.6,777 498.5,812.5 502.4,818.5 506.3,818.1 510.1,820.1 514,820.3 517.9,820.1 521.8,819.7 525.7,815.5 529.5,800.1 533.4,813.7 537.3,735.5 541.2,820.3 545.1,820.4 548.9,820.1 552.8,818.5 556.7,813.6 560.6,819.7 564.5,820.3 568.3,820.1 572.2,814.1 576.1,811.8 580,813.6 583.8,757.6 587.7,815 591.6,817.3 595.5,818.1 599.4,820.4 603.2,790.8 607.1,798.2 611,819.4 614.9,819.4 618.8,819.4 622.6,799.1 626.5,794.7 630.4,820.3 634.3,820.4 638.2,820.1 642,815.9 645.9,818.5 649.8,806.7 653.7,819.4" fill="none" stroke="#2a2a2a" stroke-width="0.8" stroke-opacity="0.45" stroke-linejoin="round"/>
<g fill="#2a2a2a" fill-opacity="0.45" stroke="#2a2a2a" stroke-opacity="0.45" stroke-width="0.5">
<circle cx="75.7" cy="815.3" r="2.85"/><circle cx="79.6" cy="812.8" r="2.85"/><circle cx="83.5" cy="819.7" r="2.85"/><circle cx="87.3" cy="793.6" r="2.85"/><circle cx="91.2" cy="809.1" r="2.85"/><circle cx="95.1" cy="807.5" r="2.85"/><circle cx="99" cy="812.7" r="2.85"/><circle cx="102.9" cy="774.9" r="2.85"/><circle cx="106.7" cy="808.8" r="2.85"/><circle cx="110.6" cy="820.6" r="2.85"/><circle cx="114.5" cy="820.6" r="2.85"/><circle cx="118.4" cy="768.2" r="2.85"/><circle cx="122.2" cy="777" r="2.85"/><circle cx="126.1" cy="820.6" r="2.85"/><circle cx="130" cy="820.3" r="2.85"/><circle cx="133.9" cy="820.1" r="2.85"/><circle cx="137.8" cy="817.6" r="2.85"/><circle cx="141.6" cy="816.7" r="2.85"/><circle cx="145.5" cy="819.7" r="2.85"/><circle cx="149.4" cy="820.1" r="2.85"/><circle cx="153.3" cy="820.1" r="2.85"/><circle cx="157.2" cy="820.1" r="2.85"/><circle cx="161" cy="820.1" r="2.85"/><circle cx="164.9" cy="820.1" r="2.85"/><circle cx="168.8" cy="820.1" r="2.85"/><circle cx="172.7" cy="817.6" r="2.85"/><circle cx="176.6" cy="820.1" r="2.85"/><circle cx="180.4" cy="820.1" r="2.85"/><circle cx="184.3" cy="820.1" r="2.85"/><circle cx="188.2" cy="819.4" r="2.85"/><circle cx="192.1" cy="820.1" r="2.85"/><circle cx="195.9" cy="820.1" r="2.85"/><circle cx="199.8" cy="820.1" r="2.85"/><circle cx="203.7" cy="817.6" r="2.85"/><circle cx="207.6" cy="820.1" r="2.85"/><circle cx="211.5" cy="820.1" r="2.85"/><circle cx="215.3" cy="820.1" r="2.85"/><circle cx="219.2" cy="810.2" r="2.85"/><circle cx="223.1" cy="819.4" r="2.85"/><circle cx="227" cy="820.1" r="2.85"/><circle cx="230.9" cy="820.1" r="2.85"/><circle cx="234.7" cy="820.1" r="2.85"/><circle cx="238.6" cy="820.1" r="2.85"/><circle cx="242.5" cy="820.1" r="2.85"/><circle cx="246.4" cy="820.1" r="2.85"/><circle cx="250.3" cy="818.5" r="2.85"/><circle cx="254.1" cy="819.7" r="2.85"/><circle cx="258" cy="795.2" r="2.85"/><circle cx="261.9" cy="785.5" r="2.85"/><circle cx="265.8" cy="787.9" r="2.85"/><circle cx="269.6" cy="804.9" r="2.85"/><circle cx="273.5" cy="817.6" r="2.85"/><circle cx="277.4" cy="820.4" r="2.85"/><circle cx="281.3" cy="819.7" r="2.85"/><circle cx="285.2" cy="815.9" r="2.85"/><circle cx="289" cy="816.7" r="2.85"/><circle cx="292.9" cy="820.3" r="2.85"/><circle cx="296.8" cy="818.5" r="2.85"/><circle cx="300.7" cy="819" r="2.85"/><circle cx="304.6" cy="803.5" r="2.85"/><circle cx="308.4" cy="813.7" r="2.85"/><circle cx="312.3" cy="807.9" r="2.85"/><circle cx="316.2" cy="803.5" r="2.85"/><circle cx="320.1" cy="820.6" r="2.85"/><circle cx="324" cy="820.3" r="2.85"/><circle cx="327.8" cy="813.2" r="2.85"/><circle cx="331.7" cy="820.3" r="2.85"/><circle cx="335.6" cy="819.7" r="2.85"/><circle cx="339.5" cy="814.1" r="2.85"/><circle cx="343.4" cy="816.7" r="2.85"/><circle cx="347.2" cy="815.5" r="2.85"/><circle cx="351.1" cy="817.3" r="2.85"/><circle cx="355" cy="819.7" r="2.85"/><circle cx="358.9" cy="820.3" r="2.85"/><circle cx="362.7" cy="817.6" r="2.85"/><circle cx="366.6" cy="820.1" r="2.85"/><circle cx="370.5" cy="820.3" r="2.85"/><circle cx="374.4" cy="819.7" r="2.85"/><circle cx="378.3" cy="818.1" r="2.85"/><circle cx="382.1" cy="813.6" r="2.85"/><circle cx="386" cy="816.4" r="2.85"/><circle cx="389.9" cy="819.7" r="2.85"/><circle cx="393.8" cy="814.1" r="2.85"/><circle cx="397.7" cy="819.7" r="2.85"/><circle cx="401.5" cy="820.3" r="2.85"/><circle cx="405.4" cy="818.5" r="2.85"/><circle cx="409.3" cy="819.7" r="2.85"/><circle cx="413.2" cy="819.4" r="2.85"/><circle cx="417.1" cy="811.6" r="2.85"/><circle cx="420.9" cy="819.7" r="2.85"/><circle cx="424.8" cy="816.7" r="2.85"/><circle cx="428.7" cy="820.1" r="2.85"/><circle cx="432.6" cy="820.1" r="2.85"/><circle cx="436.4" cy="812.5" r="2.85"/><circle cx="440.3" cy="820.1" r="2.85"/><circle cx="444.2" cy="820.3" r="2.85"/><circle cx="448.1" cy="819.4" r="2.85"/><circle cx="452" cy="820.3" r="2.85"/><circle cx="455.8" cy="820.3" r="2.85"/><circle cx="459.7" cy="820.1" r="2.85"/><circle cx="463.6" cy="804.2" r="2.85"/><circle cx="467.5" cy="806.3" r="2.85"/><circle cx="471.4" cy="813.2" r="2.85"/><circle cx="475.2" cy="820.3" r="2.85"/><circle cx="479.1" cy="820.1" r="2.85"/><circle cx="483" cy="818.9" r="2.85"/><circle cx="486.9" cy="816.2" r="2.85"/><circle cx="490.8" cy="812.5" r="2.85"/><circle cx="494.6" cy="777" r="2.85"/><circle cx="498.5" cy="812.5" r="2.85"/><circle cx="502.4" cy="818.5" r="2.85"/><circle cx="506.3" cy="818.1" r="2.85"/><circle cx="510.1" cy="820.1" r="2.85"/><circle cx="514" cy="820.3" r="2.85"/><circle cx="517.9" cy="820.1" r="2.85"/><circle cx="521.8" cy="819.7" r="2.85"/><circle cx="525.7" cy="815.5" r="2.85"/><circle cx="529.5" cy="800.1" r="2.85"/><circle cx="533.4" cy="813.7" r="2.85"/><circle cx="537.3" cy="735.5" r="2.85"/><circle cx="541.2" cy="820.3" r="2.85"/><circle cx="545.1" cy="820.4" r="2.85"/><circle cx="548.9" cy="820.1" r="2.85"/><circle cx="552.8" cy="818.5" r="2.85"/><circle cx="556.7" cy="813.6" r="2.85"/><circle cx="560.6" cy="819.7" r="2.85"/><circle cx="564.5" cy="820.3" r="2.85"/><circle cx="568.3" cy="820.1" r="2.85"/><circle cx="572.2" cy="814.1" r="2.85"/><circle cx="576.1" cy="811.8" r="2.85"/><circle cx="580" cy="813.6" r="2.85"/><circle cx="583.8" cy="757.6" r="2.85"/><circle cx="587.7" cy="815" r="2.85"/><circle cx="591.6" cy="817.3" r="2.85"/><circle cx="595.5" cy="818.1" r="2.85"/><circle cx="599.4" cy="820.4" r="2.85"/><circle cx="603.2" cy="790.8" r="2.85"/><circle cx="607.1" cy="798.2" r="2.85"/><circle cx="611" cy="819.4" r="2.85"/><circle cx="614.9" cy="819.4" r="2.85"/><circle cx="618.8" cy="819.4" r="2.85"/><circle cx="622.6" cy="799.1" r="2.85"/><circle cx="626.5" cy="794.7" r="2.85"/><circle cx="630.4" cy="820.3" r="2.85"/><circle cx="634.3" cy="820.4" r="2.85"/><circle cx="638.2" cy="820.1" r="2.85"/><circle cx="642" cy="815.9" r="2.85"/><circle cx="645.9" cy="818.5" r="2.85"/><circle cx="649.8" cy="806.7" r="2.85"/><circle cx="653.7" cy="819.4" r="2.85"/>
</g>
<polyline points="75.7,801.7 79.6,801.7 83.5,801.7 87.3,801.7 91.2,801.7 95.1,801.7 99,801.7 102.9,801.7 106.7,801.7 110.6,801.7 114.5,801.7 118.4,801.7 122.2,801.7 126.1,801.7 130,801.7 133.9,801.7 137.8,801.7 141.6,801.7 145.5,801.7 149.4,801.7 153.3,801.7 157.2,801.7 161,801.7 164.9,801.7 168.8,801.7 172.7,800 176.6,800 180.4,800 184.3,800 188.2,800 192.1,800 195.9,800 199.8,800 203.7,800 207.6,800 211.5,800 215.3,800 219.2,800 223.1,800 227,800 230.9,800 234.7,800 238.6,800 242.5,800 246.4,800 250.3,800 254.1,800 258,798.9 261.9,798.9 265.8,798.9 269.6,798.9 273.5,798.9 277.4,798.9 281.3,798.9 285.2,798.9 289,798.9 292.9,798.9 296.8,798.9 300.7,798.9 304.6,800.5 308.4,799.2 312.3,799.2 316.2,799.2 320.1,799.2 324,799.2 327.8,799.2 331.7,799.2 335.6,799.2 339.5,799.2 343.4,799.2 347.2,799.2 351.1,799.2 355,799.2 358.9,799.2 362.7,799.2 366.6,799.2 370.5,799.2 374.4,799.2 378.3,799.4 382.1,799.4 386,799.4 389.9,799.4 393.8,799.4 397.7,795.2 401.5,795.2 405.4,795.2 409.3,795.2 413.2,795.2 417.1,795.2 420.9,795.2 424.8,795.2 428.7,795.2 432.6,795.2 436.4,795.2 440.3,795.2 444.2,795.2 448.1,795.2 452,795.2 455.8,795.2 459.7,795.2 463.6,794.5 467.5,794.5 471.4,794.5 475.2,794.5 479.1,794.5 483,794.5 486.9,794.5 490.8,794.5 494.6,794.5 498.5,794.5 502.4,794.5 506.3,794.5 510.1,794.5 514,794.5 517.9,794.5 521.8,794.5 525.7,794.5 529.5,794.5 533.4,794.5 537.3,794.5 541.2,794.5 545.1,794.5 548.9,794.5 552.8,794.5 556.7,794.5 560.6,794.5 564.5,794.5 568.3,794.5 572.2,794.5 576.1,794.5 580,794.5 583.8,793.6 587.7,793.6 591.6,793.6 595.5,794.7 599.4,794.7 603.2,794.7 607.1,794.7 611,794.7 614.9,794.7 618.8,794.7 622.6,794.7 626.5,792.4 630.4,790.8 634.3,791.5 638.2,791.5 642,791.5 645.9,791.5 649.8,791.5 653.7,791.5" fill="none" stroke="#C44E52" stroke-width="0.8" stroke-opacity="0.35" stroke-linejoin="round"/>
<g fill="#C44E52" fill-opacity="0.45" stroke="#C44E52" stroke-opacity="0.45" stroke-width="0.5">
<circle cx="75.7" cy="801.7" r="2.45"/><circle cx="79.6" cy="801.7" r="2.45"/><circle cx="83.5" cy="801.7" r="2.45"/><circle cx="87.3" cy="801.7" r="2.45"/><circle cx="91.2" cy="801.7" r="2.45"/><circle cx="95.1" cy="801.7" r="2.45"/><circle cx="99" cy="801.7" r="2.45"/><circle cx="102.9" cy="801.7" r="2.45"/><circle cx="106.7" cy="801.7" r="2.45"/><circle cx="110.6" cy="801.7" r="2.45"/><circle cx="114.5" cy="801.7" r="2.45"/><circle cx="118.4" cy="801.7" r="2.45"/><circle cx="122.2" cy="801.7" r="2.45"/><circle cx="126.1" cy="801.7" r="2.45"/><circle cx="130" cy="801.7" r="2.45"/><circle cx="133.9" cy="801.7" r="2.45"/><circle cx="137.8" cy="801.7" r="2.45"/><circle cx="141.6" cy="801.7" r="2.45"/><circle cx="145.5" cy="801.7" r="2.45"/><circle cx="149.4" cy="801.7" r="2.45"/><circle cx="153.3" cy="801.7" r="2.45"/><circle cx="157.2" cy="801.7" r="2.45"/><circle cx="161" cy="801.7" r="2.45"/><circle cx="164.9" cy="801.7" r="2.45"/><circle cx="168.8" cy="801.7" r="2.45"/><circle cx="172.7" cy="800" r="2.45"/><circle cx="176.6" cy="800" r="2.45"/><circle cx="180.4" cy="800" r="2.45"/><circle cx="184.3" cy="800" r="2.45"/><circle cx="188.2" cy="800" r="2.45"/><circle cx="192.1" cy="800" r="2.45"/><circle cx="195.9" cy="800" r="2.45"/><circle cx="199.8" cy="800" r="2.45"/><circle cx="203.7" cy="800" r="2.45"/><circle cx="207.6" cy="800" r="2.45"/><circle cx="211.5" cy="800" r="2.45"/><circle cx="215.3" cy="800" r="2.45"/><circle cx="219.2" cy="800" r="2.45"/><circle cx="223.1" cy="800" r="2.45"/><circle cx="227" cy="800" r="2.45"/><circle cx="230.9" cy="800" r="2.45"/><circle cx="234.7" cy="800" r="2.45"/><circle cx="238.6" cy="800" r="2.45"/><circle cx="242.5" cy="800" r="2.45"/><circle cx="246.4" cy="800" r="2.45"/><circle cx="250.3" cy="800" r="2.45"/><circle cx="254.1" cy="800" r="2.45"/><circle cx="258" cy="798.9" r="2.45"/><circle cx="261.9" cy="798.9" r="2.45"/><circle cx="265.8" cy="798.9" r="2.45"/><circle cx="269.6" cy="798.9" r="2.45"/><circle cx="273.5" cy="798.9" r="2.45"/><circle cx="277.4" cy="798.9" r="2.45"/><circle cx="281.3" cy="798.9" r="2.45"/><circle cx="285.2" cy="798.9" r="2.45"/><circle cx="289" cy="798.9" r="2.45"/><circle cx="292.9" cy="798.9" r="2.45"/><circle cx="296.8" cy="798.9" r="2.45"/><circle cx="300.7" cy="798.9" r="2.45"/><circle cx="304.6" cy="800.5" r="2.45"/><circle cx="308.4" cy="799.2" r="2.45"/><circle cx="312.3" cy="799.2" r="2.45"/><circle cx="316.2" cy="799.2" r="2.45"/><circle cx="320.1" cy="799.2" r="2.45"/><circle cx="324" cy="799.2" r="2.45"/><circle cx="327.8" cy="799.2" r="2.45"/><circle cx="331.7" cy="799.2" r="2.45"/><circle cx="335.6" cy="799.2" r="2.45"/><circle cx="339.5" cy="799.2" r="2.45"/><circle cx="343.4" cy="799.2" r="2.45"/><circle cx="347.2" cy="799.2" r="2.45"/><circle cx="351.1" cy="799.2" r="2.45"/><circle cx="355" cy="799.2" r="2.45"/><circle cx="358.9" cy="799.2" r="2.45"/><circle cx="362.7" cy="799.2" r="2.45"/><circle cx="366.6" cy="799.2" r="2.45"/><circle cx="370.5" cy="799.2" r="2.45"/><circle cx="374.4" cy="799.2" r="2.45"/><circle cx="378.3" cy="799.4" r="2.45"/><circle cx="382.1" cy="799.4" r="2.45"/><circle cx="386" cy="799.4" r="2.45"/><circle cx="389.9" cy="799.4" r="2.45"/><circle cx="393.8" cy="799.4" r="2.45"/><circle cx="397.7" cy="795.2" r="2.45"/><circle cx="401.5" cy="795.2" r="2.45"/><circle cx="405.4" cy="795.2" r="2.45"/><circle cx="409.3" cy="795.2" r="2.45"/><circle cx="413.2" cy="795.2" r="2.45"/><circle cx="417.1" cy="795.2" r="2.45"/><circle cx="420.9" cy="795.2" r="2.45"/><circle cx="424.8" cy="795.2" r="2.45"/><circle cx="428.7" cy="795.2" r="2.45"/><circle cx="432.6" cy="795.2" r="2.45"/><circle cx="436.4" cy="795.2" r="2.45"/><circle cx="440.3" cy="795.2" r="2.45"/><circle cx="444.2" cy="795.2" r="2.45"/><circle cx="448.1" cy="795.2" r="2.45"/><circle cx="452" cy="795.2" r="2.45"/><circle cx="455.8" cy="795.2" r="2.45"/><circle cx="459.7" cy="795.2" r="2.45"/><circle cx="463.6" cy="794.5" r="2.45"/><circle cx="467.5" cy="794.5" r="2.45"/><circle cx="471.4" cy="794.5" r="2.45"/><circle cx="475.2" cy="794.5" r="2.45"/><circle cx="479.1" cy="794.5" r="2.45"/><circle cx="483" cy="794.5" r="2.45"/><circle cx="486.9" cy="794.5" r="2.45"/><circle cx="490.8" cy="794.5" r="2.45"/><circle cx="494.6" cy="794.5" r="2.45"/><circle cx="498.5" cy="794.5" r="2.45"/><circle cx="502.4" cy="794.5" r="2.45"/><circle cx="506.3" cy="794.5" r="2.45"/><circle cx="510.1" cy="794.5" r="2.45"/><circle cx="514" cy="794.5" r="2.45"/><circle cx="517.9" cy="794.5" r="2.45"/><circle cx="521.8" cy="794.5" r="2.45"/><circle cx="525.7" cy="794.5" r="2.45"/><circle cx="529.5" cy="794.5" r="2.45"/><circle cx="533.4" cy="794.5" r="2.45"/><circle cx="537.3" cy="794.5" r="2.45"/><circle cx="541.2" cy="794.5" r="2.45"/><circle cx="545.1" cy="794.5" r="2.45"/><circle cx="548.9" cy="794.5" r="2.45"/><circle cx="552.8" cy="794.5" r="2.45"/><circle cx="556.7" cy="794.5" r="2.45"/><circle cx="560.6" cy="794.5" r="2.45"/><circle cx="564.5" cy="794.5" r="2.45"/><circle cx="568.3" cy="794.5" r="2.45"/><circle cx="572.2" cy="794.5" r="2.45"/><circle cx="576.1" cy="794.5" r="2.45"/><circle cx="580" cy="794.5" r="2.45"/><circle cx="583.8" cy="793.6" r="2.45"/><circle cx="587.7" cy="793.6" r="2.45"/><circle cx="591.6" cy="793.6" r="2.45"/><circle cx="595.5" cy="794.7" r="2.45"/><circle cx="599.4" cy="794.7" r="2.45"/><circle cx="603.2" cy="794.7" r="2.45"/><circle cx="607.1" cy="794.7" r="2.45"/><circle cx="611" cy="794.7" r="2.45"/><circle cx="614.9" cy="794.7" r="2.45"/><circle cx="618.8" cy="794.7" r="2.45"/><circle cx="622.6" cy="794.7" r="2.45"/><circle cx="626.5" cy="792.4" r="2.45"/><circle cx="630.4" cy="790.8" r="2.45"/><circle cx="634.3" cy="791.5" r="2.45"/><circle cx="638.2" cy="791.5" r="2.45"/><circle cx="642" cy="791.5" r="2.45"/><circle cx="645.9" cy="791.5" r="2.45"/><circle cx="649.8" cy="791.5" r="2.45"/><circle cx="653.7" cy="791.5" r="2.45"/>
</g>
</g>
<rect x="46.7" y="644.5" width="635.8" height="176.6" fill="none" stroke="#dadada" stroke-width="1"/>
<g font-family="Liberation Sans, Arial, sans-serif" font-size="13.4" fill="#333">
<text x="75.7" y="836.4" text-anchor="middle">0</text>
<text x="114.5" y="836.4" text-anchor="middle">10</text>
<text x="153.3" y="836.4" text-anchor="middle">20</text>
<text x="192.1" y="836.4" text-anchor="middle">30</text>
<text x="230.9" y="836.4" text-anchor="middle">40</text>
<text x="269.6" y="836.4" text-anchor="middle">50</text>
<text x="308.4" y="836.4" text-anchor="middle">60</text>
<text x="347.2" y="836.4" text-anchor="middle">70</text>
<text x="386" y="836.4" text-anchor="middle">80</text>
<text x="424.8" y="836.4" text-anchor="middle">90</text>
<text x="463.6" y="836.4" text-anchor="middle">100</text>
<text x="502.4" y="836.4" text-anchor="middle">110</text>
<text x="541.2" y="836.4" text-anchor="middle">120</text>
<text x="580" y="836.4" text-anchor="middle">130</text>
<text x="618.8" y="836.4" text-anchor="middle">140</text>
<text x="40.8" y="826" text-anchor="end">0</text>
<text x="40.8" y="790.7" text-anchor="end">20</text>
<text x="40.8" y="755.4" text-anchor="end">40</text>
<text x="40.8" y="720.1" text-anchor="end">60</text>
<text x="40.8" y="684.7" text-anchor="end">80</text>
<text x="40.8" y="649.4" text-anchor="end">100</text>
</g>
<text font-family="Liberation Sans, Arial, sans-serif" font-size="14.15" fill="#333" text-anchor="middle" transform="translate(11.2 733.3) rotate(-90)">Prediction by One Data Source</text>
<text font-family="Liberation Sans, Arial, sans-serif" font-size="20" font-weight="bold" fill="#111" text-anchor="middle" x="364.4" y="852.2">(d)</text>
<rect x="444.6" y="652" width="231.1" height="42.5" rx="3" ry="3" fill="#fff" fill-opacity="0.8" stroke="#e4e4e4" stroke-width="1"/>
<line x1="450.4" y1="663.2" x2="479.4" y2="663.2" stroke="#2a2a2a" stroke-width="1" stroke-opacity="0.45"/>
<circle cx="464.9" cy="663.2" r="2.9" fill="#2a2a2a" fill-opacity="0.5"/>
<text font-family="Liberation Sans, Arial, sans-serif" font-size="14.25" fill="#333" x="490" y="667.8">truth</text>
<line x1="450.4" y1="681.8" x2="479.4" y2="681.8" stroke="#C44E52" stroke-width="1" stroke-opacity="0.4"/>
<circle cx="464.9" cy="681.8" r="2.9" fill="#C44E52" fill-opacity="0.45"/>
<text font-family="Liberation Sans, Arial, sans-serif" font-size="14.25" fill="#333" x="490" y="686.4">prediction by Bitstamp trans.</text>
<rect x="46.7" y="856.7" width="635.8" height="176.9" fill="#fff"/>
<path d="M75.7 856.7V1033.6M114.5 856.7V1033.6M153.3 856.7V1033.6M192.1 856.7V1033.6M230.9 856.7V1033.6M269.6 856.7V1033.6M308.4 856.7V1033.6M347.2 856.7V1033.6M386 856.7V1033.6M424.8 856.7V1033.6M463.6 856.7V1033.6M502.4 856.7V1033.6M541.2 856.7V1033.6M580 856.7V1033.6M618.8 856.7V1033.6M46.7 998.2H682.5M46.7 962.8H682.5M46.7 927.5H682.5M46.7 892.1H682.5" stroke="#e0e0e0" stroke-width="0.8" fill="none"/>
<clipPath id="cpp2"><rect x="46.7" y="856.7" width="635.8" height="176.9"/></clipPath><g clip-path="url(#cpp2)">
<polygon points="75.7,1026.7 79.6,1026.7 83.5,1026.7 87.3,1026.7 91.2,1026.7 95.1,1026.7 99,1026.7 102.9,1026.7 106.7,1026.7 110.6,1026.7 114.5,1026.7 118.4,1026.7 122.2,1026.7 126.1,1026.7 130,1026.7 133.9,1026.7 137.8,1026.7 141.6,1026.7 145.5,1026.7 149.4,1026.7 153.3,1026.7 157.2,1026.7 161,1026.7 164.9,1026.7 168.8,1026.7 172.7,1026.7 176.6,1026.7 180.4,1026.7 184.3,1026.7 188.2,1026.7 192.1,1026.7 195.9,1026.7 199.8,1026.7 203.7,1026.7 207.6,1026.7 211.5,1026.7 215.3,1026.7 219.2,1026.7 223.1,1026.7 227,1026.7 230.9,1026.7 234.7,1026.7 238.6,1026.7 242.5,1026.7 246.4,1026.7 250.3,1026.7 254.1,1026.7 258,1026.7 261.9,1026.7 265.8,1026.7 269.6,1026.7 273.5,1026.7 277.4,1026.7 281.3,1026.7 285.2,1026.7 289,1026.7 292.9,1026.7 296.8,1026.7 300.7,1026.7 304.6,1026.7 308.4,1026.7 312.3,1026.7 316.2,1026.7 320.1,1026.7 324,1026.7 327.8,1026.7 331.7,1026.7 335.6,1026.7 339.5,1026.7 343.4,1026.7 347.2,1026.7 351.1,1026.7 355,1026.7 358.9,1026.7 362.7,1026.7 366.6,1026.7 370.5,1026.7 374.4,1026.7 378.3,1026.7 382.1,1026.7 386,1026.7 389.9,1026.7 393.8,1026.7 397.7,1026.7 401.5,1026.7 405.4,1026.7 409.3,1026.7 413.2,1026.7 417.1,1026.7 420.9,1026.7 424.8,1026.7 428.7,1026.7 432.6,1026.7 436.4,1026.7 440.3,1026.7 444.2,1026.7 448.1,1026.7 452,1026.7 455.8,1026.7 459.7,1026.7 463.6,1026.7 467.5,1026.7 471.4,1026.7 475.2,1026.7 479.1,1026.7 483,1026.7 486.9,1026.7 490.8,1026.7 494.6,1026.7 498.5,1026.7 502.4,1026.7 506.3,1026.7 510.1,1026.7 514,1026.7 517.9,1026.7 521.8,1026.7 525.7,1026.7 529.5,1026.7 533.4,1026.7 537.3,1026.7 541.2,1026.7 545.1,1026.7 548.9,1026.7 552.8,1026.7 556.7,1026.7 560.6,1026.7 564.5,1026.7 568.3,1026.7 572.2,1026.7 576.1,1026.7 580,1026.7 583.8,1026.7 587.7,1026.7 591.6,1026.7 595.5,1026.7 599.4,1026.7 603.2,1026.7 607.1,1026.7 611,1026.7 614.9,1026.7 618.8,1026.7 622.6,1026.7 626.5,1026.7 630.4,1026.7 634.3,1026.7 638.2,1026.7 642,1026.7 645.9,1026.7 649.8,1026.7 653.7,1026.7 653.7,1033.6 649.8,1033.6 645.9,1033.6 642,1033.6 638.2,1033.6 634.3,1033.6 630.4,1033.6 626.5,1033.6 622.6,1033.6 618.8,1033.6 614.9,1033.6 611,1033.6 607.1,1033.6 603.2,1033.6 599.4,1033.6 595.5,1033.6 591.6,1033.6 587.7,1033.6 583.8,1033.6 580,1033.6 576.1,1033.6 572.2,1033.6 568.3,1033.6 564.5,1033.6 560.6,1033.6 556.7,1033.6 552.8,1033.6 548.9,1033.6 545.1,1033.6 541.2,1033.6 537.3,1033.6 533.4,1033.6 529.5,1033.6 525.7,1033.6 521.8,1033.6 517.9,1033.6 514,1033.6 510.1,1033.6 506.3,1033.6 502.4,1033.6 498.5,1033.6 494.6,1033.6 490.8,1033.6 486.9,1033.6 483,1033.6 479.1,1033.6 475.2,1033.6 471.4,1033.6 467.5,1033.6 463.6,1033.6 459.7,1033.6 455.8,1033.6 452,1033.6 448.1,1033.6 444.2,1033.6 440.3,1033.6 436.4,1033.6 432.6,1033.6 428.7,1033.6 424.8,1033.6 420.9,1033.6 417.1,1033.6 413.2,1033.6 409.3,1033.6 405.4,1033.6 401.5,1033.6 397.7,1033.6 393.8,1033.6 389.9,1033.6 386,1033.6 382.1,1033.6 378.3,1033.6 374.4,1033.6 370.5,1033.6 366.6,1033.6 362.7,1033.6 358.9,1033.6 355,1033.6 351.1,1033.6 347.2,1033.6 343.4,1033.6 339.5,1033.6 335.6,1033.6 331.7,1033.6 327.8,1033.6 324,1033.6 320.1,1033.6 316.2,1033.6 312.3,1033.6 308.4,1033.6 304.6,1033.6 300.7,1033.6 296.8,1033.6 292.9,1033.6 289,1033.6 285.2,1033.6 281.3,1033.6 277.4,1033.6 273.5,1033.6 269.6,1033.6 265.8,1033.6 261.9,1033.6 258,1033.6 254.1,1033.6 250.3,1033.6 246.4,1033.6 242.5,1033.6 238.6,1033.6 234.7,1033.6 230.9,1033.6 227,1033.6 223.1,1033.6 219.2,1033.6 215.3,1033.6 211.5,1033.6 207.6,1033.6 203.7,1033.6 199.8,1033.6 195.9,1033.6 192.1,1033.6 188.2,1033.6 184.3,1033.6 180.4,1033.6 176.6,1033.6 172.7,1033.6 168.8,1033.6 164.9,1033.6 161,1033.6 157.2,1033.6 153.3,1033.6 149.4,1033.6 145.5,1033.6 141.6,1033.6 137.8,1033.6 133.9,1033.6 130,1033.6 126.1,1033.6 122.2,1033.6 118.4,1033.6 114.5,1033.6 110.6,1033.6 106.7,1033.6 102.9,1033.6 99,1033.6 95.1,1033.6 91.2,1033.6 87.3,1033.6 83.5,1033.6 79.6,1033.6 75.7,1033.6" fill="#CCB974" fill-opacity="0.38"/>
<polyline points="75.7,1027.8 79.6,1025.3 83.5,1032.2 87.3,1006 91.2,1021.6 95.1,1020 99,1025.1 102.9,987.3 106.7,1021.2 110.6,1033.1 114.5,1033.1 118.4,980.5 122.2,989.4 126.1,1033.1 130,1032.7 133.9,1032.5 137.8,1030.1 141.6,1029.2 145.5,1032.2 149.4,1032.5 153.3,1032.5 157.2,1032.5 161,1032.5 164.9,1032.5 168.8,1032.5 172.7,1030.1 176.6,1032.5 180.4,1032.5 184.3,1032.5 188.2,1031.8 192.1,1032.5 195.9,1032.5 199.8,1032.5 203.7,1030.1 207.6,1032.5 211.5,1032.5 215.3,1032.5 219.2,1022.6 223.1,1031.8 227,1032.5 230.9,1032.5 234.7,1032.5 238.6,1032.5 242.5,1032.5 246.4,1032.5 250.3,1030.9 254.1,1032.2 258,1007.6 261.9,997.9 265.8,1000.3 269.6,1017.3 273.5,1030.1 277.4,1032.9 281.3,1032.2 285.2,1028.3 289,1029.2 292.9,1032.7 296.8,1030.9 300.7,1031.5 304.6,1015.9 308.4,1026.2 312.3,1020.3 316.2,1015.9 320.1,1033.1 324,1032.7 327.8,1025.6 331.7,1032.7 335.6,1032.2 339.5,1026.5 343.4,1029.2 347.2,1027.9 351.1,1029.7 355,1032.2 358.9,1032.7 362.7,1030.1 366.6,1032.5 370.5,1032.7 374.4,1032.2 378.3,1030.6 382.1,1026 386,1028.8 389.9,1032.2 393.8,1026.5 397.7,1032.2 401.5,1032.7 405.4,1030.9 409.3,1032.2 413.2,1031.8 417.1,1024 420.9,1032.2 424.8,1029.2 428.7,1032.5 432.6,1032.5 436.4,1024.9 440.3,1032.5 444.2,1032.7 448.1,1031.8 452,1032.7 455.8,1032.7 459.7,1032.5 463.6,1016.6 467.5,1018.7 471.4,1025.6 475.2,1032.7 479.1,1032.5 483,1031.3 486.9,1028.6 490.8,1024.9 494.6,989.4 498.5,1024.9 502.4,1030.9 506.3,1030.6 510.1,1032.5 514,1032.7 517.9,1032.5 521.8,1032.2 525.7,1027.9 529.5,1012.5 533.4,1026.2 537.3,947.8 541.2,1032.7 545.1,1032.9 548.9,1032.5 552.8,1030.9 556.7,1026 560.6,1032.2 564.5,1032.7 568.3,1032.5 572.2,1026.5 576.1,1024.2 580,1026 583.8,969.9 587.7,1027.4 591.6,1029.7 595.5,1030.6 599.4,1032.9 603.2,1003.2 607.1,1010.6 611,1031.8 614.9,1031.8 618.8,1031.8 622.6,1011.5 626.5,1007.1 630.4,1032.7 634.3,1032.9 638.2,1032.5 642,1028.3 645.9,1030.9 649.8,1019.1 653.7,1031.8" fill="none" stroke="#2a2a2a" stroke-width="0.8" stroke-opacity="0.45" stroke-linejoin="round"/>
<g fill="#2a2a2a" fill-opacity="0.45" stroke="#2a2a2a" stroke-opacity="0.45" stroke-width="0.5">
<circle cx="75.7" cy="1027.8" r="2.85"/><circle cx="79.6" cy="1025.3" r="2.85"/><circle cx="83.5" cy="1032.2" r="2.85"/><circle cx="87.3" cy="1006" r="2.85"/><circle cx="91.2" cy="1021.6" r="2.85"/><circle cx="95.1" cy="1020" r="2.85"/><circle cx="99" cy="1025.1" r="2.85"/><circle cx="102.9" cy="987.3" r="2.85"/><circle cx="106.7" cy="1021.2" r="2.85"/><circle cx="110.6" cy="1033.1" r="2.85"/><circle cx="114.5" cy="1033.1" r="2.85"/><circle cx="118.4" cy="980.5" r="2.85"/><circle cx="122.2" cy="989.4" r="2.85"/><circle cx="126.1" cy="1033.1" r="2.85"/><circle cx="130" cy="1032.7" r="2.85"/><circle cx="133.9" cy="1032.5" r="2.85"/><circle cx="137.8" cy="1030.1" r="2.85"/><circle cx="141.6" cy="1029.2" r="2.85"/><circle cx="145.5" cy="1032.2" r="2.85"/><circle cx="149.4" cy="1032.5" r="2.85"/><circle cx="153.3" cy="1032.5" r="2.85"/><circle cx="157.2" cy="1032.5" r="2.85"/><circle cx="161" cy="1032.5" r="2.85"/><circle cx="164.9" cy="1032.5" r="2.85"/><circle cx="168.8" cy="1032.5" r="2.85"/><circle cx="172.7" cy="1030.1" r="2.85"/><circle cx="176.6" cy="1032.5" r="2.85"/><circle cx="180.4" cy="1032.5" r="2.85"/><circle cx="184.3" cy="1032.5" r="2.85"/><circle cx="188.2" cy="1031.8" r="2.85"/><circle cx="192.1" cy="1032.5" r="2.85"/><circle cx="195.9" cy="1032.5" r="2.85"/><circle cx="199.8" cy="1032.5" r="2.85"/><circle cx="203.7" cy="1030.1" r="2.85"/><circle cx="207.6" cy="1032.5" r="2.85"/><circle cx="211.5" cy="1032.5" r="2.85"/><circle cx="215.3" cy="1032.5" r="2.85"/><circle cx="219.2" cy="1022.6" r="2.85"/><circle cx="223.1" cy="1031.8" r="2.85"/><circle cx="227" cy="1032.5" r="2.85"/><circle cx="230.9" cy="1032.5" r="2.85"/><circle cx="234.7" cy="1032.5" r="2.85"/><circle cx="238.6" cy="1032.5" r="2.85"/><circle cx="242.5" cy="1032.5" r="2.85"/><circle cx="246.4" cy="1032.5" r="2.85"/><circle cx="250.3" cy="1030.9" r="2.85"/><circle cx="254.1" cy="1032.2" r="2.85"/><circle cx="258" cy="1007.6" r="2.85"/><circle cx="261.9" cy="997.9" r="2.85"/><circle cx="265.8" cy="1000.3" r="2.85"/><circle cx="269.6" cy="1017.3" r="2.85"/><circle cx="273.5" cy="1030.1" r="2.85"/><circle cx="277.4" cy="1032.9" r="2.85"/><circle cx="281.3" cy="1032.2" r="2.85"/><circle cx="285.2" cy="1028.3" r="2.85"/><circle cx="289" cy="1029.2" r="2.85"/><circle cx="292.9" cy="1032.7" r="2.85"/><circle cx="296.8" cy="1030.9" r="2.85"/><circle cx="300.7" cy="1031.5" r="2.85"/><circle cx="304.6" cy="1015.9" r="2.85"/><circle cx="308.4" cy="1026.2" r="2.85"/><circle cx="312.3" cy="1020.3" r="2.85"/><circle cx="316.2" cy="1015.9" r="2.85"/><circle cx="320.1" cy="1033.1" r="2.85"/><circle cx="324" cy="1032.7" r="2.85"/><circle cx="327.8" cy="1025.6" r="2.85"/><circle cx="331.7" cy="1032.7" r="2.85"/><circle cx="335.6" cy="1032.2" r="2.85"/><circle cx="339.5" cy="1026.5" r="2.85"/><circle cx="343.4" cy="1029.2" r="2.85"/><circle cx="347.2" cy="1027.9" r="2.85"/><circle cx="351.1" cy="1029.7" r="2.85"/><circle cx="355" cy="1032.2" r="2.85"/><circle cx="358.9" cy="1032.7" r="2.85"/><circle cx="362.7" cy="1030.1" r="2.85"/><circle cx="366.6" cy="1032.5" r="2.85"/><circle cx="370.5" cy="1032.7" r="2.85"/><circle cx="374.4" cy="1032.2" r="2.85"/><circle cx="378.3" cy="1030.6" r="2.85"/><circle cx="382.1" cy="1026" r="2.85"/><circle cx="386" cy="1028.8" r="2.85"/><circle cx="389.9" cy="1032.2" r="2.85"/><circle cx="393.8" cy="1026.5" r="2.85"/><circle cx="397.7" cy="1032.2" r="2.85"/><circle cx="401.5" cy="1032.7" r="2.85"/><circle cx="405.4" cy="1030.9" r="2.85"/><circle cx="409.3" cy="1032.2" r="2.85"/><circle cx="413.2" cy="1031.8" r="2.85"/><circle cx="417.1" cy="1024" r="2.85"/><circle cx="420.9" cy="1032.2" r="2.85"/><circle cx="424.8" cy="1029.2" r="2.85"/><circle cx="428.7" cy="1032.5" r="2.85"/><circle cx="432.6" cy="1032.5" r="2.85"/><circle cx="436.4" cy="1024.9" r="2.85"/><circle cx="440.3" cy="1032.5" r="2.85"/><circle cx="444.2" cy="1032.7" r="2.85"/><circle cx="448.1" cy="1031.8" r="2.85"/><circle cx="452" cy="1032.7" r="2.85"/><circle cx="455.8" cy="1032.7" r="2.85"/><circle cx="459.7" cy="1032.5" r="2.85"/><circle cx="463.6" cy="1016.6" r="2.85"/><circle cx="467.5" cy="1018.7" r="2.85"/><circle cx="471.4" cy="1025.6" r="2.85"/><circle cx="475.2" cy="1032.7" r="2.85"/><circle cx="479.1" cy="1032.5" r="2.85"/><circle cx="483" cy="1031.3" r="2.85"/><circle cx="486.9" cy="1028.6" r="2.85"/><circle cx="490.8" cy="1024.9" r="2.85"/><circle cx="494.6" cy="989.4" r="2.85"/><circle cx="498.5" cy="1024.9" r="2.85"/><circle cx="502.4" cy="1030.9" r="2.85"/><circle cx="506.3" cy="1030.6" r="2.85"/><circle cx="510.1" cy="1032.5" r="2.85"/><circle cx="514" cy="1032.7" r="2.85"/><circle cx="517.9" cy="1032.5" r="2.85"/><circle cx="521.8" cy="1032.2" r="2.85"/><circle cx="525.7" cy="1027.9" r="2.85"/><circle cx="529.5" cy="1012.5" r="2.85"/><circle cx="533.4" cy="1026.2" r="2.85"/><circle cx="537.3" cy="947.8" r="2.85"/><circle cx="541.2" cy="1032.7" r="2.85"/><circle cx="545.1" cy="1032.9" r="2.85"/><circle cx="548.9" cy="1032.5" r="2.85"/><circle cx="552.8" cy="1030.9" r="2.85"/><circle cx="556.7" cy="1026" r="2.85"/><circle cx="560.6" cy="1032.2" r="2.85"/><circle cx="564.5" cy="1032.7" r="2.85"/><circle cx="568.3" cy="1032.5" r="2.85"/><circle cx="572.2" cy="1026.5" r="2.85"/><circle cx="576.1" cy="1024.2" r="2.85"/><circle cx="580" cy="1026" r="2.85"/><circle cx="583.8" cy="969.9" r="2.85"/><circle cx="587.7" cy="1027.4" r="2.85"/><circle cx="591.6" cy="1029.7" r="2.85"/><circle cx="595.5" cy="1030.6" r="2.85"/><circle cx="599.4" cy="1032.9" r="2.85"/><circle cx="603.2" cy="1003.2" r="2.85"/><circle cx="607.1" cy="1010.6" r="2.85"/><circle cx="611" cy="1031.8" r="2.85"/><circle cx="614.9" cy="1031.8" r="2.85"/><circle cx="618.8" cy="1031.8" r="2.85"/><circle cx="622.6" cy="1011.5" r="2.85"/><circle cx="626.5" cy="1007.1" r="2.85"/><circle cx="630.4" cy="1032.7" r="2.85"/><circle cx="634.3" cy="1032.9" r="2.85"/><circle cx="638.2" cy="1032.5" r="2.85"/><circle cx="642" cy="1028.3" r="2.85"/><circle cx="645.9" cy="1030.9" r="2.85"/><circle cx="649.8" cy="1019.1" r="2.85"/><circle cx="653.7" cy="1031.8" r="2.85"/>
</g>
<polyline points="75.7,1031.3 79.6,1031.3 83.5,1031.3 87.3,1031.3 91.2,1031.3 95.1,1031.3 99,1031.3 102.9,1031.3 106.7,1031.3 110.6,1031.3 114.5,1031.3 118.4,1031.3 122.2,1031.3 126.1,1031.3 130,1031.3 133.9,1031.3 137.8,1031.3 141.6,1031.3 145.5,1031.3 149.4,1031.3 153.3,1031.3 157.2,1031.3 161,1031.3 164.9,1031.3 168.8,1031.3 172.7,1031.3 176.6,1031.3 180.4,1031.3 184.3,1031.3 188.2,1031.3 192.1,1031.3 195.9,1031.3 199.8,1031.3 203.7,1031.3 207.6,1031.3 211.5,1031.3 215.3,1031.3 219.2,1031.3 223.1,1031.3 227,1031.3 230.9,1031.3 234.7,1031.3 238.6,1031.3 242.5,1031.3 246.4,1031.3 250.3,1031.3 254.1,1031.3 258,1031.3 261.9,1031.3 265.8,1031.3 269.6,1031.3 273.5,1031.3 277.4,1031.3 281.3,1031.3 285.2,1031.3 289,1031.3 292.9,1031.3 296.8,1031.3 300.7,1031.3 304.6,1031.3 308.4,1031.3 312.3,1031.3 316.2,1031.3 320.1,1031.3 324,1031.3 327.8,1031.3 331.7,1031.3 335.6,1031.3 339.5,1031.3 343.4,1031.3 347.2,1031.3 351.1,1031.3 355,1031.3 358.9,1031.3 362.7,1031.3 366.6,1031.3 370.5,1031.3 374.4,1031.3 378.3,1031.3 382.1,1031.3 386,1031.3 389.9,1031.3 393.8,1031.3 397.7,1031.3 401.5,1031.3 405.4,1031.3 409.3,1031.3 413.2,1031.3 417.1,1031.3 420.9,1031.3 424.8,1031.3 428.7,1031.3 432.6,1031.3 436.4,1031.3 440.3,1031.3 444.2,1031.3 448.1,1031.3 452,1031.3 455.8,1031.3 459.7,1031.3 463.6,1031.3 467.5,1031.3 471.4,1031.3 475.2,1031.3 479.1,1031.3 483,1031.3 486.9,1031.3 490.8,1031.3 494.6,1031.3 498.5,1031.3 502.4,1031.3 506.3,1031.3 510.1,1031.3 514,1031.3 517.9,1031.3 521.8,1031.3 525.7,1031.3 529.5,1031.3 533.4,1031.3 537.3,1031.3 541.2,1031.3 545.1,1031.3 548.9,1031.3 552.8,1031.3 556.7,1031.3 560.6,1031.3 564.5,1031.3 568.3,1031.3 572.2,1031.3 576.1,1031.3 580,1031.3 583.8,1031.3 587.7,1031.3 591.6,1031.3 595.5,1031.3 599.4,1031.3 603.2,1031.3 607.1,1031.3 611,1031.3 614.9,1031.3 618.8,1031.3 622.6,1031.3 626.5,1031.3 630.4,1031.3 634.3,1031.3 638.2,1031.3 642,1031.3 645.9,1031.3 649.8,1031.3 653.7,1031.3" fill="none" stroke="#CCB974" stroke-width="0.8" stroke-opacity="0.35" stroke-linejoin="round"/>
<path d="M75.7 1032.5V1030.1M79.6 1032.5V1030.1M83.5 1032.5V1030.1M87.3 1032.5V1030.1M91.2 1032.5V1030.1M95.1 1032.5V1030.1M99 1032.5V1030.1M102.9 1032.5V1030.1M106.7 1032.5V1030.1M110.6 1032.5V1030.1M114.5 1032.5V1030.1M118.4 1032.5V1030.1M122.2 1032.5V1030.1M126.1 1032.5V1030.1M130 1032.5V1030.1M133.9 1032.5V1030.1M137.8 1032.5V1030.1M141.6 1032.5V1030.1M145.5 1032.5V1030.1M149.4 1032.5V1030.1M153.3 1032.5V1030.1M157.2 1032.5V1030.1M161 1032.5V1030.1M164.9 1032.5V1030.1M168.8 1032.5V1030.1M172.7 1032.5V1030.1M176.6 1032.5V1030.1M180.4 1032.5V1030.1M184.3 1032.5V1030.1M188.2 1032.5V1030.1M192.1 1032.5V1030.1M195.9 1032.5V1030.1M199.8 1032.5V1030.1M203.7 1032.5V1030.1M207.6 1032.5V1030.1M211.5 1032.5V1030.1M215.3 1032.5V1030.1M219.2 1032.5V1030.1M223.1 1032.5V1030.1M227 1032.5V1030.1M230.9 1032.5V1030.1M234.7 1032.5V1030.1M238.6 1032.5V1030.1M242.5 1032.5V1030.1M246.4 1032.5V1030.1M250.3 1032.5V1030.1M254.1 1032.5V1030.1M258 1032.5V1030.1M261.9 1032.5V1030.1M265.8 1032.5V1030.1M269.6 1032.5V1030.1M273.5 1032.5V1030.1M277.4 1032.5V1030.1M281.3 1032.5V1030.1M285.2 1032.5V1030.1M289 1032.5V1030.1M292.9 1032.5V1030.1M296.8 1032.5V1030.1M300.7 1032.5V1030.1M304.6 1032.5V1030.1M308.4 1032.5V1030.1M312.3 1032.5V1030.1M316.2 1032.5V1030.1M320.1 1032.5V1030.1M324 1032.5V1030.1M327.8 1032.5V1030.1M331.7 1032.5V1030.1M335.6 1032.5V1030.1M339.5 1032.5V1030.1M343.4 1032.5V1030.1M347.2 1032.5V1030.1M351.1 1032.5V1030.1M355 1032.5V1030.1M358.9 1032.5V1030.1M362.7 1032.5V1030.1M366.6 1032.5V1030.1M370.5 1032.5V1030.1M374.4 1032.5V1030.1M378.3 1032.5V1030.1M382.1 1032.5V1030.1M386 1032.5V1030.1M389.9 1032.5V1030.1M393.8 1032.5V1030.1M397.7 1032.5V1030.1M401.5 1032.5V1030.1M405.4 1032.5V1030.1M409.3 1032.5V1030.1M413.2 1032.5V1030.1M417.1 1032.5V1030.1M420.9 1032.5V1030.1M424.8 1032.5V1030.1M428.7 1032.5V1030.1M432.6 1032.5V1030.1M436.4 1032.5V1030.1M440.3 1032.5V1030.1M444.2 1032.5V1030.1M448.1 1032.5V1030.1M452 1032.5V1030.1M455.8 1032.5V1030.1M459.7 1032.5V1030.1M463.6 1032.5V1030.1M467.5 1032.5V1030.1M471.4 1032.5V1030.1M475.2 1032.5V1030.1M479.1 1032.5V1030.1M483 1032.5V1030.1M486.9 1032.5V1030.1M490.8 1032.5V1030.1M494.6 1032.5V1030.1M498.5 1032.5V1030.1M502.4 1032.5V1030.1M506.3 1032.5V1030.1M510.1 1032.5V1030.1M514 1032.5V1030.1M517.9 1032.5V1030.1M521.8 1032.5V1030.1M525.7 1032.5V1030.1M529.5 1032.5V1030.1M533.4 1032.5V1030.1M537.3 1032.5V1030.1M541.2 1032.5V1030.1M545.1 1032.5V1030.1M548.9 1032.5V1030.1M552.8 1032.5V1030.1M556.7 1032.5V1030.1M560.6 1032.5V1030.1M564.5 1032.5V1030.1M568.3 1032.5V1030.1M572.2 1032.5V1030.1M576.1 1032.5V1030.1M580 1032.5V1030.1M583.8 1032.5V1030.1M587.7 1032.5V1030.1M591.6 1032.5V1030.1M595.5 1032.5V1030.1M599.4 1032.5V1030.1M603.2 1032.5V1030.1M607.1 1032.5V1030.1M611 1032.5V1030.1M614.9 1032.5V1030.1M618.8 1032.5V1030.1M622.6 1032.5V1030.1M626.5 1032.5V1030.1M630.4 1032.5V1030.1M634.3 1032.5V1030.1M638.2 1032.5V1030.1M642 1032.5V1030.1M645.9 1032.5V1030.1M649.8 1032.5V1030.1M653.7 1032.5V1030.1" stroke="#CCB974" stroke-width="0.9" stroke-opacity="0.4" fill="none"/>
<g fill="#CCB974" fill-opacity="0.36" stroke="#CCB974" stroke-opacity="0.36" stroke-width="0.5">
<circle cx="75.7" cy="1031.3" r="2.45"/><circle cx="79.6" cy="1031.3" r="2.45"/><circle cx="83.5" cy="1031.3" r="2.45"/><circle cx="87.3" cy="1031.3" r="2.45"/><circle cx="91.2" cy="1031.3" r="2.45"/><circle cx="95.1" cy="1031.3" r="2.45"/><circle cx="99" cy="1031.3" r="2.45"/><circle cx="102.9" cy="1031.3" r="2.45"/><circle cx="106.7" cy="1031.3" r="2.45"/><circle cx="110.6" cy="1031.3" r="2.45"/><circle cx="114.5" cy="1031.3" r="2.45"/><circle cx="118.4" cy="1031.3" r="2.45"/><circle cx="122.2" cy="1031.3" r="2.45"/><circle cx="126.1" cy="1031.3" r="2.45"/><circle cx="130" cy="1031.3" r="2.45"/><circle cx="133.9" cy="1031.3" r="2.45"/><circle cx="137.8" cy="1031.3" r="2.45"/><circle cx="141.6" cy="1031.3" r="2.45"/><circle cx="145.5" cy="1031.3" r="2.45"/><circle cx="149.4" cy="1031.3" r="2.45"/><circle cx="153.3" cy="1031.3" r="2.45"/><circle cx="157.2" cy="1031.3" r="2.45"/><circle cx="161" cy="1031.3" r="2.45"/><circle cx="164.9" cy="1031.3" r="2.45"/><circle cx="168.8" cy="1031.3" r="2.45"/><circle cx="172.7" cy="1031.3" r="2.45"/><circle cx="176.6" cy="1031.3" r="2.45"/><circle cx="180.4" cy="1031.3" r="2.45"/><circle cx="184.3" cy="1031.3" r="2.45"/><circle cx="188.2" cy="1031.3" r="2.45"/><circle cx="192.1" cy="1031.3" r="2.45"/><circle cx="195.9" cy="1031.3" r="2.45"/><circle cx="199.8" cy="1031.3" r="2.45"/><circle cx="203.7" cy="1031.3" r="2.45"/><circle cx="207.6" cy="1031.3" r="2.45"/><circle cx="211.5" cy="1031.3" r="2.45"/><circle cx="215.3" cy="1031.3" r="2.45"/><circle cx="219.2" cy="1031.3" r="2.45"/><circle cx="223.1" cy="1031.3" r="2.45"/><circle cx="227" cy="1031.3" r="2.45"/><circle cx="230.9" cy="1031.3" r="2.45"/><circle cx="234.7" cy="1031.3" r="2.45"/><circle cx="238.6" cy="1031.3" r="2.45"/><circle cx="242.5" cy="1031.3" r="2.45"/><circle cx="246.4" cy="1031.3" r="2.45"/><circle cx="250.3" cy="1031.3" r="2.45"/><circle cx="254.1" cy="1031.3" r="2.45"/><circle cx="258" cy="1031.3" r="2.45"/><circle cx="261.9" cy="1031.3" r="2.45"/><circle cx="265.8" cy="1031.3" r="2.45"/><circle cx="269.6" cy="1031.3" r="2.45"/><circle cx="273.5" cy="1031.3" r="2.45"/><circle cx="277.4" cy="1031.3" r="2.45"/><circle cx="281.3" cy="1031.3" r="2.45"/><circle cx="285.2" cy="1031.3" r="2.45"/><circle cx="289" cy="1031.3" r="2.45"/><circle cx="292.9" cy="1031.3" r="2.45"/><circle cx="296.8" cy="1031.3" r="2.45"/><circle cx="300.7" cy="1031.3" r="2.45"/><circle cx="304.6" cy="1031.3" r="2.45"/><circle cx="308.4" cy="1031.3" r="2.45"/><circle cx="312.3" cy="1031.3" r="2.45"/><circle cx="316.2" cy="1031.3" r="2.45"/><circle cx="320.1" cy="1031.3" r="2.45"/><circle cx="324" cy="1031.3" r="2.45"/><circle cx="327.8" cy="1031.3" r="2.45"/><circle cx="331.7" cy="1031.3" r="2.45"/><circle cx="335.6" cy="1031.3" r="2.45"/><circle cx="339.5" cy="1031.3" r="2.45"/><circle cx="343.4" cy="1031.3" r="2.45"/><circle cx="347.2" cy="1031.3" r="2.45"/><circle cx="351.1" cy="1031.3" r="2.45"/><circle cx="355" cy="1031.3" r="2.45"/><circle cx="358.9" cy="1031.3" r="2.45"/><circle cx="362.7" cy="1031.3" r="2.45"/><circle cx="366.6" cy="1031.3" r="2.45"/><circle cx="370.5" cy="1031.3" r="2.45"/><circle cx="374.4" cy="1031.3" r="2.45"/><circle cx="378.3" cy="1031.3" r="2.45"/><circle cx="382.1" cy="1031.3" r="2.45"/><circle cx="386" cy="1031.3" r="2.45"/><circle cx="389.9" cy="1031.3" r="2.45"/><circle cx="393.8" cy="1031.3" r="2.45"/><circle cx="397.7" cy="1031.3" r="2.45"/><circle cx="401.5" cy="1031.3" r="2.45"/><circle cx="405.4" cy="1031.3" r="2.45"/><circle cx="409.3" cy="1031.3" r="2.45"/><circle cx="413.2" cy="1031.3" r="2.45"/><circle cx="417.1" cy="1031.3" r="2.45"/><circle cx="420.9" cy="1031.3" r="2.45"/><circle cx="424.8" cy="1031.3" r="2.45"/><circle cx="428.7" cy="1031.3" r="2.45"/><circle cx="432.6" cy="1031.3" r="2.45"/><circle cx="436.4" cy="1031.3" r="2.45"/><circle cx="440.3" cy="1031.3" r="2.45"/><circle cx="444.2" cy="1031.3" r="2.45"/><circle cx="448.1" cy="1031.3" r="2.45"/><circle cx="452" cy="1031.3" r="2.45"/><circle cx="455.8" cy="1031.3" r="2.45"/><circle cx="459.7" cy="1031.3" r="2.45"/><circle cx="463.6" cy="1031.3" r="2.45"/><circle cx="467.5" cy="1031.3" r="2.45"/><circle cx="471.4" cy="1031.3" r="2.45"/><circle cx="475.2" cy="1031.3" r="2.45"/><circle cx="479.1" cy="1031.3" r="2.45"/><circle cx="483" cy="1031.3" r="2.45"/><circle cx="486.9" cy="1031.3" r="2.45"/><circle cx="490.8" cy="1031.3" r="2.45"/><circle cx="494.6" cy="1031.3" r="2.45"/><circle cx="498.5" cy="1031.3" r="2.45"/><circle cx="502.4" cy="1031.3" r="2.45"/><circle cx="506.3" cy="1031.3" r="2.45"/><circle cx="510.1" cy="1031.3" r="2.45"/><circle cx="514" cy="1031.3" r="2.45"/><circle cx="517.9" cy="1031.3" r="2.45"/><circle cx="521.8" cy="1031.3" r="2.45"/><circle cx="525.7" cy="1031.3" r="2.45"/><circle cx="529.5" cy="1031.3" r="2.45"/><circle cx="533.4" cy="1031.3" r="2.45"/><circle cx="537.3" cy="1031.3" r="2.45"/><circle cx="541.2" cy="1031.3" r="2.45"/><circle cx="545.1" cy="1031.3" r="2.45"/><circle cx="548.9" cy="1031.3" r="2.45"/><circle cx="552.8" cy="1031.3" r="2.45"/><circle cx="556.7" cy="1031.3" r="2.45"/><circle cx="560.6" cy="1031.3" r="2.45"/><circle cx="564.5" cy="1031.3" r="2.45"/><circle cx="568.3" cy="1031.3" r="2.45"/><circle cx="572.2" cy="1031.3" r="2.45"/><circle cx="576.1" cy="1031.3" r="2.45"/><circle cx="580" cy="1031.3" r="2.45"/><circle cx="583.8" cy="1031.3" r="2.45"/><circle cx="587.7" cy="1031.3" r="2.45"/><circle cx="591.6" cy="1031.3" r="2.45"/><circle cx="595.5" cy="1031.3" r="2.45"/><circle cx="599.4" cy="1031.3" r="2.45"/><circle cx="603.2" cy="1031.3" r="2.45"/><circle cx="607.1" cy="1031.3" r="2.45"/><circle cx="611" cy="1031.3" r="2.45"/><circle cx="614.9" cy="1031.3" r="2.45"/><circle cx="618.8" cy="1031.3" r="2.45"/><circle cx="622.6" cy="1031.3" r="2.45"/><circle cx="626.5" cy="1031.3" r="2.45"/><circle cx="630.4" cy="1031.3" r="2.45"/><circle cx="634.3" cy="1031.3" r="2.45"/><circle cx="638.2" cy="1031.3" r="2.45"/><circle cx="642" cy="1031.3" r="2.45"/><circle cx="645.9" cy="1031.3" r="2.45"/><circle cx="649.8" cy="1031.3" r="2.45"/><circle cx="653.7" cy="1031.3" r="2.45"/>
</g>
</g>
<rect x="46.7" y="856.7" width="635.8" height="176.9" fill="none" stroke="#dadada" stroke-width="1"/>
<g font-family="Liberation Sans, Arial, sans-serif" font-size="13.4" fill="#333">
<text x="75.7" y="1048.9" text-anchor="middle">0</text>
<text x="114.5" y="1048.9" text-anchor="middle">10</text>
<text x="153.3" y="1048.9" text-anchor="middle">20</text>
<text x="192.1" y="1048.9" text-anchor="middle">30</text>
<text x="230.9" y="1048.9" text-anchor="middle">40</text>
<text x="269.6" y="1048.9" text-anchor="middle">50</text>
<text x="308.4" y="1048.9" text-anchor="middle">60</text>
<text x="347.2" y="1048.9" text-anchor="middle">70</text>
<text x="386" y="1048.9" text-anchor="middle">80</text>
<text x="424.8" y="1048.9" text-anchor="middle">90</text>
<text x="463.6" y="1048.9" text-anchor="middle">100</text>
<text x="502.4" y="1048.9" text-anchor="middle">110</text>
<text x="541.2" y="1048.9" text-anchor="middle">120</text>
<text x="580" y="1048.9" text-anchor="middle">130</text>
<text x="618.8" y="1048.9" text-anchor="middle">140</text>
<text x="40.8" y="1038.5" text-anchor="end">0</text>
<text x="40.8" y="1003.1" text-anchor="end">20</text>
<text x="40.8" y="967.7" text-anchor="end">40</text>
<text x="40.8" y="932.4" text-anchor="end">60</text>
<text x="40.8" y="897" text-anchor="end">80</text>
<text x="40.8" y="861.6" text-anchor="end">100</text>
</g>
<text font-family="Liberation Sans, Arial, sans-serif" font-size="14.15" fill="#333" text-anchor="middle" transform="translate(11.2 945.6) rotate(-90)">Prediction by One Data Source</text>
<text font-family="Liberation Sans, Arial, sans-serif" font-size="20" font-weight="bold" fill="#111" text-anchor="middle" x="364.4" y="1065.4">(e)</text>
<rect x="420" y="864.2" width="255.7" height="42.5" rx="3" ry="3" fill="#fff" fill-opacity="0.8" stroke="#e4e4e4" stroke-width="1"/>
<line x1="425.8" y1="875.4" x2="454.8" y2="875.4" stroke="#2a2a2a" stroke-width="1" stroke-opacity="0.45"/>
<circle cx="440.3" cy="875.4" r="2.9" fill="#2a2a2a" fill-opacity="0.5"/>
<text font-family="Liberation Sans, Arial, sans-serif" font-size="14.25" fill="#333" x="465.4" y="880">truth</text>
<line x1="425.8" y1="894" x2="454.8" y2="894" stroke="#CCB974" stroke-width="1" stroke-opacity="0.4"/>
<circle cx="440.3" cy="894" r="2.9" fill="#CCB974" fill-opacity="0.45"/>
<text font-family="Liberation Sans, Arial, sans-serif" font-size="14.25" fill="#333" x="465.4" y="898.6">prediction by Bitfinex order book</text>
<rect x="46.7" y="1068.9" width="635.8" height="176.8" fill="#fff"/>
<path d="M75.7 1068.9V1245.7M114.5 1068.9V1245.7M153.3 1068.9V1245.7M192.1 1068.9V1245.7M230.9 1068.9V1245.7M269.6 1068.9V1245.7M308.4 1068.9V1245.7M347.2 1068.9V1245.7M386 1068.9V1245.7M424.8 1068.9V1245.7M463.6 1068.9V1245.7M502.4 1068.9V1245.7M541.2 1068.9V1245.7M580 1068.9V1245.7M618.8 1068.9V1245.7M46.7 1210.3H682.5M46.7 1175H682.5M46.7 1139.6H682.5M46.7 1104.3H682.5" stroke="#e0e0e0" stroke-width="0.8" fill="none"/>
<clipPath id="cpp3"><rect x="46.7" y="1068.9" width="635.8" height="176.8"/></clipPath><g clip-path="url(#cpp3)">
<polygon points="75.7,1242.5 79.6,1242.5 83.5,1242.5 87.3,1242.5 91.2,1242.5 95.1,1242.5 99,1242.5 102.9,1242.5 106.7,1242.5 110.6,1242.5 114.5,1242.5 118.4,1242.5 122.2,1242.5 126.1,1242.5 130,1242.5 133.9,1242.5 137.8,1242.5 141.6,1242.5 145.5,1242.5 149.4,1242.5 153.3,1242.5 157.2,1242.5 161,1242.5 164.9,1242.5 168.8,1242.5 172.7,1242.5 176.6,1242.5 180.4,1242.5 184.3,1242.5 188.2,1242.5 192.1,1242.5 195.9,1242.5 199.8,1242.5 203.7,1242.5 207.6,1242.5 211.5,1242.5 215.3,1242.5 219.2,1242.5 223.1,1242.5 227,1242.5 230.9,1242.5 234.7,1242.5 238.6,1242.5 242.5,1242.5 246.4,1242.5 250.3,1242.5 254.1,1242.5 258,1242.5 261.9,1242.5 265.8,1242.5 269.6,1242.5 273.5,1242.5 277.4,1242.5 281.3,1242.5 285.2,1242.5 289,1242.5 292.9,1242.5 296.8,1242.5 300.7,1242.5 304.6,1242.5 308.4,1242.5 312.3,1242.5 316.2,1242.5 320.1,1242.5 324,1242.5 327.8,1242.5 331.7,1242.5 335.6,1242.5 339.5,1242.5 343.4,1242.5 347.2,1242.5 351.1,1242.5 355,1242.5 358.9,1242.5 362.7,1242.5 366.6,1242.5 370.5,1242.5 374.4,1242.5 378.3,1242.5 382.1,1242.5 386,1242.5 389.9,1242.5 393.8,1242.5 397.7,1242.5 401.5,1242.5 405.4,1242.5 409.3,1242.5 413.2,1242.5 417.1,1242.5 420.9,1242.5 424.8,1242.5 428.7,1242.5 432.6,1242.5 436.4,1242.5 440.3,1242.5 444.2,1242.5 448.1,1242.5 452,1242.5 455.8,1242.5 459.7,1242.5 463.6,1242.5 467.5,1242.5 471.4,1242.5 475.2,1242.5 479.1,1242.5 483,1242.5 486.9,1242.5 490.8,1242.5 494.6,1242.5 498.5,1242.5 502.4,1242.5 506.3,1242.5 510.1,1242.5 514,1242.5 517.9,1242.5 521.8,1242.5 525.7,1242.5 529.5,1242.5 533.4,1242.5 537.3,1242.5 541.2,1242.5 545.1,1242.5 548.9,1242.5 552.8,1242.5 556.7,1242.5 560.6,1242.5 564.5,1242.5 568.3,1242.5 572.2,1242.5 576.1,1242.5 580,1242.5 583.8,1242.5 587.7,1242.5 591.6,1242.5 595.5,1242.5 599.4,1242.5 603.2,1242.5 607.1,1242.5 611,1242.5 614.9,1242.5 618.8,1242.5 622.6,1242.5 626.5,1242.5 630.4,1242.5 634.3,1242.5 638.2,1242.5 642,1242.5 645.9,1242.5 649.8,1242.5 653.7,1242.5 653.7,1245.7 649.8,1245.7 645.9,1245.7 642,1245.7 638.2,1245.7 634.3,1245.7 630.4,1245.7 626.5,1245.7 622.6,1245.7 618.8,1245.7 614.9,1245.7 611,1245.7 607.1,1245.7 603.2,1245.7 599.4,1245.7 595.5,1245.7 591.6,1245.7 587.7,1245.7 583.8,1245.7 580,1245.7 576.1,1245.7 572.2,1245.7 568.3,1245.7 564.5,1245.7 560.6,1245.7 556.7,1245.7 552.8,1245.7 548.9,1245.7 545.1,1245.7 541.2,1245.7 537.3,1245.7 533.4,1245.7 529.5,1245.7 525.7,1245.7 521.8,1245.7 517.9,1245.7 514,1245.7 510.1,1245.7 506.3,1245.7 502.4,1245.7 498.5,1245.7 494.6,1245.7 490.8,1245.7 486.9,1245.7 483,1245.7 479.1,1245.7 475.2,1245.7 471.4,1245.7 467.5,1245.7 463.6,1245.7 459.7,1245.7 455.8,1245.7 452,1245.7 448.1,1245.7 444.2,1245.7 440.3,1245.7 436.4,1245.7 432.6,1245.7 428.7,1245.7 424.8,1245.7 420.9,1245.7 417.1,1245.7 413.2,1245.7 409.3,1245.7 405.4,1245.7 401.5,1245.7 397.7,1245.7 393.8,1245.7 389.9,1245.7 386,1245.7 382.1,1245.7 378.3,1245.7 374.4,1245.7 370.5,1245.7 366.6,1245.7 362.7,1245.7 358.9,1245.7 355,1245.7 351.1,1245.7 347.2,1245.7 343.4,1245.7 339.5,1245.7 335.6,1245.7 331.7,1245.7 327.8,1245.7 324,1245.7 320.1,1245.7 316.2,1245.7 312.3,1245.7 308.4,1245.7 304.6,1245.7 300.7,1245.7 296.8,1245.7 292.9,1245.7 289,1245.7 285.2,1245.7 281.3,1245.7 277.4,1245.7 273.5,1245.7 269.6,1245.7 265.8,1245.7 261.9,1245.7 258,1245.7 254.1,1245.7 250.3,1245.7 246.4,1245.7 242.5,1245.7 238.6,1245.7 234.7,1245.7 230.9,1245.7 227,1245.7 223.1,1245.7 219.2,1245.7 215.3,1245.7 211.5,1245.7 207.6,1245.7 203.7,1245.7 199.8,1245.7 195.9,1245.7 192.1,1245.7 188.2,1245.7 184.3,1245.7 180.4,1245.7 176.6,1245.7 172.7,1245.7 168.8,1245.7 164.9,1245.7 161,1245.7 157.2,1245.7 153.3,1245.7 149.4,1245.7 145.5,1245.7 141.6,1245.7 137.8,1245.7 133.9,1245.7 130,1245.7 126.1,1245.7 122.2,1245.7 118.4,1245.7 114.5,1245.7 110.6,1245.7 106.7,1245.7 102.9,1245.7 99,1245.7 95.1,1245.7 91.2,1245.7 87.3,1245.7 83.5,1245.7 79.6,1245.7 75.7,1245.7" fill="#9400D3" fill-opacity="0.45"/>
<polyline points="75.7,1239.9 79.6,1237.4 83.5,1244.3 87.3,1218.1 91.2,1233.7 95.1,1232.1 99,1237.2 102.9,1199.4 106.7,1233.3 110.6,1245.2 114.5,1245.2 118.4,1192.7 122.2,1201.5 126.1,1245.2 130,1244.8 133.9,1244.6 137.8,1242.2 141.6,1241.3 145.5,1244.3 149.4,1244.6 153.3,1244.6 157.2,1244.6 161,1244.6 164.9,1244.6 168.8,1244.6 172.7,1242.2 176.6,1244.6 180.4,1244.6 184.3,1244.6 188.2,1243.9 192.1,1244.6 195.9,1244.6 199.8,1244.6 203.7,1242.2 207.6,1244.6 211.5,1244.6 215.3,1244.6 219.2,1234.7 223.1,1243.9 227,1244.6 230.9,1244.6 234.7,1244.6 238.6,1244.6 242.5,1244.6 246.4,1244.6 250.3,1243 254.1,1244.3 258,1219.7 261.9,1210 265.8,1212.5 269.6,1229.4 273.5,1242.2 277.4,1245 281.3,1244.3 285.2,1240.4 289,1241.3 292.9,1244.8 296.8,1243 300.7,1243.6 304.6,1228 308.4,1238.3 312.3,1232.4 316.2,1228 320.1,1245.2 324,1244.8 327.8,1237.7 331.7,1244.8 335.6,1244.3 339.5,1238.6 343.4,1241.3 347.2,1240 351.1,1241.8 355,1244.3 358.9,1244.8 362.7,1242.2 366.6,1244.6 370.5,1244.8 374.4,1244.3 378.3,1242.7 382.1,1238.1 386,1240.9 389.9,1244.3 393.8,1238.6 397.7,1244.3 401.5,1244.8 405.4,1243 409.3,1244.3 413.2,1243.9 417.1,1236.2 420.9,1244.3 424.8,1241.3 428.7,1244.6 432.6,1244.6 436.4,1237 440.3,1244.6 444.2,1244.8 448.1,1243.9 452,1244.8 455.8,1244.8 459.7,1244.6 463.6,1228.7 467.5,1230.8 471.4,1237.7 475.2,1244.8 479.1,1244.6 483,1243.4 486.9,1240.7 490.8,1237 494.6,1201.5 498.5,1237 502.4,1243 506.3,1242.7 510.1,1244.6 514,1244.8 517.9,1244.6 521.8,1244.3 525.7,1240 529.5,1224.7 533.4,1238.3 537.3,1160 541.2,1244.8 545.1,1245 548.9,1244.6 552.8,1243 556.7,1238.1 560.6,1244.3 564.5,1244.8 568.3,1244.6 572.2,1238.6 576.1,1236.3 580,1238.1 583.8,1182.1 587.7,1239.5 591.6,1241.8 595.5,1242.7 599.4,1245 603.2,1215.3 607.1,1222.7 611,1243.9 614.9,1243.9 618.8,1243.9 622.6,1223.6 626.5,1219.2 630.4,1244.8 634.3,1245 638.2,1244.6 642,1240.4 645.9,1243 649.8,1231.2 653.7,1243.9" fill="none" stroke="#2a2a2a" stroke-width="0.8" stroke-opacity="0.45" stroke-linejoin="round"/>
<g fill="#2a2a2a" fill-opacity="0.45" stroke="#2a2a2a" stroke-opacity="0.45" stroke-width="0.5">
<circle cx="75.7" cy="1239.9" r="2.85"/><circle cx="79.6" cy="1237.4" r="2.85"/><circle cx="83.5" cy="1244.3" r="2.85"/><circle cx="87.3" cy="1218.1" r="2.85"/><circle cx="91.2" cy="1233.7" r="2.85"/><circle cx="95.1" cy="1232.1" r="2.85"/><circle cx="99" cy="1237.2" r="2.85"/><circle cx="102.9" cy="1199.4" r="2.85"/><circle cx="106.7" cy="1233.3" r="2.85"/><circle cx="110.6" cy="1245.2" r="2.85"/><circle cx="114.5" cy="1245.2" r="2.85"/><circle cx="118.4" cy="1192.7" r="2.85"/><circle cx="122.2" cy="1201.5" r="2.85"/><circle cx="126.1" cy="1245.2" r="2.85"/><circle cx="130" cy="1244.8" r="2.85"/><circle cx="133.9" cy="1244.6" r="2.85"/><circle cx="137.8" cy="1242.2" r="2.85"/><circle cx="141.6" cy="1241.3" r="2.85"/><circle cx="145.5" cy="1244.3" r="2.85"/><circle cx="149.4" cy="1244.6" r="2.85"/><circle cx="153.3" cy="1244.6" r="2.85"/><circle cx="157.2" cy="1244.6" r="2.85"/><circle cx="161" cy="1244.6" r="2.85"/><circle cx="164.9" cy="1244.6" r="2.85"/><circle cx="168.8" cy="1244.6" r="2.85"/><circle cx="172.7" cy="1242.2" r="2.85"/><circle cx="176.6" cy="1244.6" r="2.85"/><circle cx="180.4" cy="1244.6" r="2.85"/><circle cx="184.3" cy="1244.6" r="2.85"/><circle cx="188.2" cy="1243.9" r="2.85"/><circle cx="192.1" cy="1244.6" r="2.85"/><circle cx="195.9" cy="1244.6" r="2.85"/><circle cx="199.8" cy="1244.6" r="2.85"/><circle cx="203.7" cy="1242.2" r="2.85"/><circle cx="207.6" cy="1244.6" r="2.85"/><circle cx="211.5" cy="1244.6" r="2.85"/><circle cx="215.3" cy="1244.6" r="2.85"/><circle cx="219.2" cy="1234.7" r="2.85"/><circle cx="223.1" cy="1243.9" r="2.85"/><circle cx="227" cy="1244.6" r="2.85"/><circle cx="230.9" cy="1244.6" r="2.85"/><circle cx="234.7" cy="1244.6" r="2.85"/><circle cx="238.6" cy="1244.6" r="2.85"/><circle cx="242.5" cy="1244.6" r="2.85"/><circle cx="246.4" cy="1244.6" r="2.85"/><circle cx="250.3" cy="1243" r="2.85"/><circle cx="254.1" cy="1244.3" r="2.85"/><circle cx="258" cy="1219.7" r="2.85"/><circle cx="261.9" cy="1210" r="2.85"/><circle cx="265.8" cy="1212.5" r="2.85"/><circle cx="269.6" cy="1229.4" r="2.85"/><circle cx="273.5" cy="1242.2" r="2.85"/><circle cx="277.4" cy="1245" r="2.85"/><circle cx="281.3" cy="1244.3" r="2.85"/><circle cx="285.2" cy="1240.4" r="2.85"/><circle cx="289" cy="1241.3" r="2.85"/><circle cx="292.9" cy="1244.8" r="2.85"/><circle cx="296.8" cy="1243" r="2.85"/><circle cx="300.7" cy="1243.6" r="2.85"/><circle cx="304.6" cy="1228" r="2.85"/><circle cx="308.4" cy="1238.3" r="2.85"/><circle cx="312.3" cy="1232.4" r="2.85"/><circle cx="316.2" cy="1228" r="2.85"/><circle cx="320.1" cy="1245.2" r="2.85"/><circle cx="324" cy="1244.8" r="2.85"/><circle cx="327.8" cy="1237.7" r="2.85"/><circle cx="331.7" cy="1244.8" r="2.85"/><circle cx="335.6" cy="1244.3" r="2.85"/><circle cx="339.5" cy="1238.6" r="2.85"/><circle cx="343.4" cy="1241.3" r="2.85"/><circle cx="347.2" cy="1240" r="2.85"/><circle cx="351.1" cy="1241.8" r="2.85"/><circle cx="355" cy="1244.3" r="2.85"/><circle cx="358.9" cy="1244.8" r="2.85"/><circle cx="362.7" cy="1242.2" r="2.85"/><circle cx="366.6" cy="1244.6" r="2.85"/><circle cx="370.5" cy="1244.8" r="2.85"/><circle cx="374.4" cy="1244.3" r="2.85"/><circle cx="378.3" cy="1242.7" r="2.85"/><circle cx="382.1" cy="1238.1" r="2.85"/><circle cx="386" cy="1240.9" r="2.85"/><circle cx="389.9" cy="1244.3" r="2.85"/><circle cx="393.8" cy="1238.6" r="2.85"/><circle cx="397.7" cy="1244.3" r="2.85"/><circle cx="401.5" cy="1244.8" r="2.85"/><circle cx="405.4" cy="1243" r="2.85"/><circle cx="409.3" cy="1244.3" r="2.85"/><circle cx="413.2" cy="1243.9" r="2.85"/><circle cx="417.1" cy="1236.2" r="2.85"/><circle cx="420.9" cy="1244.3" r="2.85"/><circle cx="424.8" cy="1241.3" r="2.85"/><circle cx="428.7" cy="1244.6" r="2.85"/><circle cx="432.6" cy="1244.6" r="2.85"/><circle cx="436.4" cy="1237" r="2.85"/><circle cx="440.3" cy="1244.6" r="2.85"/><circle cx="444.2" cy="1244.8" r="2.85"/><circle cx="448.1" cy="1243.9" r="2.85"/><circle cx="452" cy="1244.8" r="2.85"/><circle cx="455.8" cy="1244.8" r="2.85"/><circle cx="459.7" cy="1244.6" r="2.85"/><circle cx="463.6" cy="1228.7" r="2.85"/><circle cx="467.5" cy="1230.8" r="2.85"/><circle cx="471.4" cy="1237.7" r="2.85"/><circle cx="475.2" cy="1244.8" r="2.85"/><circle cx="479.1" cy="1244.6" r="2.85"/><circle cx="483" cy="1243.4" r="2.85"/><circle cx="486.9" cy="1240.7" r="2.85"/><circle cx="490.8" cy="1237" r="2.85"/><circle cx="494.6" cy="1201.5" r="2.85"/><circle cx="498.5" cy="1237" r="2.85"/><circle cx="502.4" cy="1243" r="2.85"/><circle cx="506.3" cy="1242.7" r="2.85"/><circle cx="510.1" cy="1244.6" r="2.85"/><circle cx="514" cy="1244.8" r="2.85"/><circle cx="517.9" cy="1244.6" r="2.85"/><circle cx="521.8" cy="1244.3" r="2.85"/><circle cx="525.7" cy="1240" r="2.85"/><circle cx="529.5" cy="1224.7" r="2.85"/><circle cx="533.4" cy="1238.3" r="2.85"/><circle cx="537.3" cy="1160" r="2.85"/><circle cx="541.2" cy="1244.8" r="2.85"/><circle cx="545.1" cy="1245" r="2.85"/><circle cx="548.9" cy="1244.6" r="2.85"/><circle cx="552.8" cy="1243" r="2.85"/><circle cx="556.7" cy="1238.1" r="2.85"/><circle cx="560.6" cy="1244.3" r="2.85"/><circle cx="564.5" cy="1244.8" r="2.85"/><circle cx="568.3" cy="1244.6" r="2.85"/><circle cx="572.2" cy="1238.6" r="2.85"/><circle cx="576.1" cy="1236.3" r="2.85"/><circle cx="580" cy="1238.1" r="2.85"/><circle cx="583.8" cy="1182.1" r="2.85"/><circle cx="587.7" cy="1239.5" r="2.85"/><circle cx="591.6" cy="1241.8" r="2.85"/><circle cx="595.5" cy="1242.7" r="2.85"/><circle cx="599.4" cy="1245" r="2.85"/><circle cx="603.2" cy="1215.3" r="2.85"/><circle cx="607.1" cy="1222.7" r="2.85"/><circle cx="611" cy="1243.9" r="2.85"/><circle cx="614.9" cy="1243.9" r="2.85"/><circle cx="618.8" cy="1243.9" r="2.85"/><circle cx="622.6" cy="1223.6" r="2.85"/><circle cx="626.5" cy="1219.2" r="2.85"/><circle cx="630.4" cy="1244.8" r="2.85"/><circle cx="634.3" cy="1245" r="2.85"/><circle cx="638.2" cy="1244.6" r="2.85"/><circle cx="642" cy="1240.4" r="2.85"/><circle cx="645.9" cy="1243" r="2.85"/><circle cx="649.8" cy="1231.2" r="2.85"/><circle cx="653.7" cy="1243.9" r="2.85"/>
</g>
<polyline points="75.7,1243.4 79.6,1243.4 83.5,1243.4 87.3,1243.4 91.2,1243.4 95.1,1243.4 99,1243.4 102.9,1243.4 106.7,1243.4 110.6,1243.4 114.5,1243.4 118.4,1243.4 122.2,1243.4 126.1,1243.4 130,1243.4 133.9,1243.4 137.8,1243.4 141.6,1243.4 145.5,1243.4 149.4,1243.4 153.3,1243.4 157.2,1243.4 161,1243.4 164.9,1243.4 168.8,1243.4 172.7,1243.4 176.6,1243.4 180.4,1243.4 184.3,1243.4 188.2,1243.4 192.1,1243.4 195.9,1243.4 199.8,1243.4 203.7,1243.4 207.6,1243.4 211.5,1243.4 215.3,1243.4 219.2,1243.4 223.1,1243.4 227,1243.4 230.9,1243.4 234.7,1243.4 238.6,1243.4 242.5,1243.4 246.4,1243.4 250.3,1243.4 254.1,1243.4 258,1243.4 261.9,1243.4 265.8,1243.4 269.6,1243.4 273.5,1243.4 277.4,1243.4 281.3,1243.4 285.2,1243.4 289,1243.4 292.9,1243.4 296.8,1243.4 300.7,1243.4 304.6,1243.4 308.4,1243.4 312.3,1243.4 316.2,1243.4 320.1,1243.4 324,1243.4 327.8,1243.4 331.7,1243.4 335.6,1243.4 339.5,1243.4 343.4,1243.4 347.2,1243.4 351.1,1243.4 355,1243.4 358.9,1243.4 362.7,1243.4 366.6,1243.4 370.5,1243.4 374.4,1243.4 378.3,1243.4 382.1,1243.4 386,1243.4 389.9,1243.4 393.8,1243.4 397.7,1243.4 401.5,1243.4 405.4,1243.4 409.3,1243.4 413.2,1243.4 417.1,1243.4 420.9,1243.4 424.8,1243.4 428.7,1243.4 432.6,1243.4 436.4,1243.4 440.3,1243.4 444.2,1243.4 448.1,1243.4 452,1243.4 455.8,1243.4 459.7,1243.4 463.6,1243.4 467.5,1243.4 471.4,1243.4 475.2,1243.4 479.1,1243.4 483,1243.4 486.9,1243.4 490.8,1243.4 494.6,1243.4 498.5,1243.4 502.4,1243.4 506.3,1243.4 510.1,1243.4 514,1243.4 517.9,1243.4 521.8,1243.4 525.7,1243.4 529.5,1243.4 533.4,1243.4 537.3,1243.4 541.2,1243.4 545.1,1243.4 548.9,1243.4 552.8,1243.4 556.7,1243.4 560.6,1243.4 564.5,1243.4 568.3,1243.4 572.2,1243.4 576.1,1243.4 580,1243.4 583.8,1243.4 587.7,1243.4 591.6,1243.4 595.5,1243.4 599.4,1243.4 603.2,1243.4 607.1,1243.4 611,1243.4 614.9,1243.4 618.8,1243.4 622.6,1243.4 626.5,1243.4 630.4,1243.4 634.3,1243.4 638.2,1243.4 642,1243.4 645.9,1243.4 649.8,1243.4 653.7,1243.4" fill="none" stroke="#9400D3" stroke-width="0.8" stroke-opacity="0.35" stroke-linejoin="round"/>
<path d="M75.7 1243.9V1242.9M79.6 1243.9V1242.9M83.5 1243.9V1242.9M87.3 1243.9V1242.9M91.2 1243.9V1242.9M95.1 1243.9V1242.9M99 1243.9V1242.9M102.9 1243.9V1242.9M106.7 1243.9V1242.9M110.6 1243.9V1242.9M114.5 1243.9V1242.9M118.4 1243.9V1242.9M122.2 1243.9V1242.9M126.1 1243.9V1242.9M130 1243.9V1242.9M133.9 1243.9V1242.9M137.8 1243.9V1242.9M141.6 1243.9V1242.9M145.5 1243.9V1242.9M149.4 1243.9V1242.9M153.3 1243.9V1242.9M157.2 1243.9V1242.9M161 1243.9V1242.9M164.9 1243.9V1242.9M168.8 1243.9V1242.9M172.7 1243.9V1242.9M176.6 1243.9V1242.9M180.4 1243.9V1242.9M184.3 1243.9V1242.9M188.2 1243.9V1242.9M192.1 1243.9V1242.9M195.9 1243.9V1242.9M199.8 1243.9V1242.9M203.7 1243.9V1242.9M207.6 1243.9V1242.9M211.5 1243.9V1242.9M215.3 1243.9V1242.9M219.2 1243.9V1242.9M223.1 1243.9V1242.9M227 1243.9V1242.9M230.9 1243.9V1242.9M234.7 1243.9V1242.9M238.6 1243.9V1242.9M242.5 1243.9V1242.9M246.4 1243.9V1242.9M250.3 1243.9V1242.9M254.1 1243.9V1242.9M258 1243.9V1242.9M261.9 1243.9V1242.9M265.8 1243.9V1242.9M269.6 1243.9V1242.9M273.5 1243.9V1242.9M277.4 1243.9V1242.9M281.3 1243.9V1242.9M285.2 1243.9V1242.9M289 1243.9V1242.9M292.9 1243.9V1242.9M296.8 1243.9V1242.9M300.7 1243.9V1242.9M304.6 1243.9V1242.9M308.4 1243.9V1242.9M312.3 1243.9V1242.9M316.2 1243.9V1242.9M320.1 1243.9V1242.9M324 1243.9V1242.9M327.8 1243.9V1242.9M331.7 1243.9V1242.9M335.6 1243.9V1242.9M339.5 1243.9V1242.9M343.4 1243.9V1242.9M347.2 1243.9V1242.9M351.1 1243.9V1242.9M355 1243.9V1242.9M358.9 1243.9V1242.9M362.7 1243.9V1242.9M366.6 1243.9V1242.9M370.5 1243.9V1242.9M374.4 1243.9V1242.9M378.3 1243.9V1242.9M382.1 1243.9V1242.9M386 1243.9V1242.9M389.9 1243.9V1242.9M393.8 1243.9V1242.9M397.7 1243.9V1242.9M401.5 1243.9V1242.9M405.4 1243.9V1242.9M409.3 1243.9V1242.9M413.2 1243.9V1242.9M417.1 1243.9V1242.9M420.9 1243.9V1242.9M424.8 1243.9V1242.9M428.7 1243.9V1242.9M432.6 1243.9V1242.9M436.4 1243.9V1242.9M440.3 1243.9V1242.9M444.2 1243.9V1242.9M448.1 1243.9V1242.9M452 1243.9V1242.9M455.8 1243.9V1242.9M459.7 1243.9V1242.9M463.6 1243.9V1242.9M467.5 1243.9V1242.9M471.4 1243.9V1242.9M475.2 1243.9V1242.9M479.1 1243.9V1242.9M483 1243.9V1242.9M486.9 1243.9V1242.9M490.8 1243.9V1242.9M494.6 1243.9V1242.9M498.5 1243.9V1242.9M502.4 1243.9V1242.9M506.3 1243.9V1242.9M510.1 1243.9V1242.9M514 1243.9V1242.9M517.9 1243.9V1242.9M521.8 1243.9V1242.9M525.7 1243.9V1242.9M529.5 1243.9V1242.9M533.4 1243.9V1242.9M537.3 1243.9V1242.9M541.2 1243.9V1242.9M545.1 1243.9V1242.9M548.9 1243.9V1242.9M552.8 1243.9V1242.9M556.7 1243.9V1242.9M560.6 1243.9V1242.9M564.5 1243.9V1242.9M568.3 1243.9V1242.9M572.2 1243.9V1242.9M576.1 1243.9V1242.9M580 1243.9V1242.9M583.8 1243.9V1242.9M587.7 1243.9V1242.9M591.6 1243.9V1242.9M595.5 1243.9V1242.9M599.4 1243.9V1242.9M603.2 1243.9V1242.9M607.1 1243.9V1242.9M611 1243.9V1242.9M614.9 1243.9V1242.9M618.8 1243.9V1242.9M622.6 1243.9V1242.9M626.5 1243.9V1242.9M630.4 1243.9V1242.9M634.3 1243.9V1242.9M638.2 1243.9V1242.9M642 1243.9V1242.9M645.9 1243.9V1242.9M649.8 1243.9V1242.9M653.7 1243.9V1242.9" stroke="#9400D3" stroke-width="0.9" stroke-opacity="0.4" fill="none"/>
<g fill="#9400D3" fill-opacity="0.5" stroke="#9400D3" stroke-opacity="0.5" stroke-width="0.5">
<circle cx="75.7" cy="1243.4" r="2.65"/><circle cx="79.6" cy="1243.4" r="2.65"/><circle cx="83.5" cy="1243.4" r="2.65"/><circle cx="87.3" cy="1243.4" r="2.65"/><circle cx="91.2" cy="1243.4" r="2.65"/><circle cx="95.1" cy="1243.4" r="2.65"/><circle cx="99" cy="1243.4" r="2.65"/><circle cx="102.9" cy="1243.4" r="2.65"/><circle cx="106.7" cy="1243.4" r="2.65"/><circle cx="110.6" cy="1243.4" r="2.65"/><circle cx="114.5" cy="1243.4" r="2.65"/><circle cx="118.4" cy="1243.4" r="2.65"/><circle cx="122.2" cy="1243.4" r="2.65"/><circle cx="126.1" cy="1243.4" r="2.65"/><circle cx="130" cy="1243.4" r="2.65"/><circle cx="133.9" cy="1243.4" r="2.65"/><circle cx="137.8" cy="1243.4" r="2.65"/><circle cx="141.6" cy="1243.4" r="2.65"/><circle cx="145.5" cy="1243.4" r="2.65"/><circle cx="149.4" cy="1243.4" r="2.65"/><circle cx="153.3" cy="1243.4" r="2.65"/><circle cx="157.2" cy="1243.4" r="2.65"/><circle cx="161" cy="1243.4" r="2.65"/><circle cx="164.9" cy="1243.4" r="2.65"/><circle cx="168.8" cy="1243.4" r="2.65"/><circle cx="172.7" cy="1243.4" r="2.65"/><circle cx="176.6" cy="1243.4" r="2.65"/><circle cx="180.4" cy="1243.4" r="2.65"/><circle cx="184.3" cy="1243.4" r="2.65"/><circle cx="188.2" cy="1243.4" r="2.65"/><circle cx="192.1" cy="1243.4" r="2.65"/><circle cx="195.9" cy="1243.4" r="2.65"/><circle cx="199.8" cy="1243.4" r="2.65"/><circle cx="203.7" cy="1243.4" r="2.65"/><circle cx="207.6" cy="1243.4" r="2.65"/><circle cx="211.5" cy="1243.4" r="2.65"/><circle cx="215.3" cy="1243.4" r="2.65"/><circle cx="219.2" cy="1243.4" r="2.65"/><circle cx="223.1" cy="1243.4" r="2.65"/><circle cx="227" cy="1243.4" r="2.65"/><circle cx="230.9" cy="1243.4" r="2.65"/><circle cx="234.7" cy="1243.4" r="2.65"/><circle cx="238.6" cy="1243.4" r="2.65"/><circle cx="242.5" cy="1243.4" r="2.65"/><circle cx="246.4" cy="1243.4" r="2.65"/><circle cx="250.3" cy="1243.4" r="2.65"/><circle cx="254.1" cy="1243.4" r="2.65"/><circle cx="258" cy="1243.4" r="2.65"/><circle cx="261.9" cy="1243.4" r="2.65"/><circle cx="265.8" cy="1243.4" r="2.65"/><circle cx="269.6" cy="1243.4" r="2.65"/><circle cx="273.5" cy="1243.4" r="2.65"/><circle cx="277.4" cy="1243.4" r="2.65"/><circle cx="281.3" cy="1243.4" r="2.65"/><circle cx="285.2" cy="1243.4" r="2.65"/><circle cx="289" cy="1243.4" r="2.65"/><circle cx="292.9" cy="1243.4" r="2.65"/><circle cx="296.8" cy="1243.4" r="2.65"/><circle cx="300.7" cy="1243.4" r="2.65"/><circle cx="304.6" cy="1243.4" r="2.65"/><circle cx="308.4" cy="1243.4" r="2.65"/><circle cx="312.3" cy="1243.4" r="2.65"/><circle cx="316.2" cy="1243.4" r="2.65"/><circle cx="320.1" cy="1243.4" r="2.65"/><circle cx="324" cy="1243.4" r="2.65"/><circle cx="327.8" cy="1243.4" r="2.65"/><circle cx="331.7" cy="1243.4" r="2.65"/><circle cx="335.6" cy="1243.4" r="2.65"/><circle cx="339.5" cy="1243.4" r="2.65"/><circle cx="343.4" cy="1243.4" r="2.65"/><circle cx="347.2" cy="1243.4" r="2.65"/><circle cx="351.1" cy="1243.4" r="2.65"/><circle cx="355" cy="1243.4" r="2.65"/><circle cx="358.9" cy="1243.4" r="2.65"/><circle cx="362.7" cy="1243.4" r="2.65"/><circle cx="366.6" cy="1243.4" r="2.65"/><circle cx="370.5" cy="1243.4" r="2.65"/><circle cx="374.4" cy="1243.4" r="2.65"/><circle cx="378.3" cy="1243.4" r="2.65"/><circle cx="382.1" cy="1243.4" r="2.65"/><circle cx="386" cy="1243.4" r="2.65"/><circle cx="389.9" cy="1243.4" r="2.65"/><circle cx="393.8" cy="1243.4" r="2.65"/><circle cx="397.7" cy="1243.4" r="2.65"/><circle cx="401.5" cy="1243.4" r="2.65"/><circle cx="405.4" cy="1243.4" r="2.65"/><circle cx="409.3" cy="1243.4" r="2.65"/><circle cx="413.2" cy="1243.4" r="2.65"/><circle cx="417.1" cy="1243.4" r="2.65"/><circle cx="420.9" cy="1243.4" r="2.65"/><circle cx="424.8" cy="1243.4" r="2.65"/><circle cx="428.7" cy="1243.4" r="2.65"/><circle cx="432.6" cy="1243.4" r="2.65"/><circle cx="436.4" cy="1243.4" r="2.65"/><circle cx="440.3" cy="1243.4" r="2.65"/><circle cx="444.2" cy="1243.4" r="2.65"/><circle cx="448.1" cy="1243.4" r="2.65"/><circle cx="452" cy="1243.4" r="2.65"/><circle cx="455.8" cy="1243.4" r="2.65"/><circle cx="459.7" cy="1243.4" r="2.65"/><circle cx="463.6" cy="1243.4" r="2.65"/><circle cx="467.5" cy="1243.4" r="2.65"/><circle cx="471.4" cy="1243.4" r="2.65"/><circle cx="475.2" cy="1243.4" r="2.65"/><circle cx="479.1" cy="1243.4" r="2.65"/><circle cx="483" cy="1243.4" r="2.65"/><circle cx="486.9" cy="1243.4" r="2.65"/><circle cx="490.8" cy="1243.4" r="2.65"/><circle cx="494.6" cy="1243.4" r="2.65"/><circle cx="498.5" cy="1243.4" r="2.65"/><circle cx="502.4" cy="1243.4" r="2.65"/><circle cx="506.3" cy="1243.4" r="2.65"/><circle cx="510.1" cy="1243.4" r="2.65"/><circle cx="514" cy="1243.4" r="2.65"/><circle cx="517.9" cy="1243.4" r="2.65"/><circle cx="521.8" cy="1243.4" r="2.65"/><circle cx="525.7" cy="1243.4" r="2.65"/><circle cx="529.5" cy="1243.4" r="2.65"/><circle cx="533.4" cy="1243.4" r="2.65"/><circle cx="537.3" cy="1243.4" r="2.65"/><circle cx="541.2" cy="1243.4" r="2.65"/><circle cx="545.1" cy="1243.4" r="2.65"/><circle cx="548.9" cy="1243.4" r="2.65"/><circle cx="552.8" cy="1243.4" r="2.65"/><circle cx="556.7" cy="1243.4" r="2.65"/><circle cx="560.6" cy="1243.4" r="2.65"/><circle cx="564.5" cy="1243.4" r="2.65"/><circle cx="568.3" cy="1243.4" r="2.65"/><circle cx="572.2" cy="1243.4" r="2.65"/><circle cx="576.1" cy="1243.4" r="2.65"/><circle cx="580" cy="1243.4" r="2.65"/><circle cx="583.8" cy="1243.4" r="2.65"/><circle cx="587.7" cy="1243.4" r="2.65"/><circle cx="591.6" cy="1243.4" r="2.65"/><circle cx="595.5" cy="1243.4" r="2.65"/><circle cx="599.4" cy="1243.4" r="2.65"/><circle cx="603.2" cy="1243.4" r="2.65"/><circle cx="607.1" cy="1243.4" r="2.65"/><circle cx="611" cy="1243.4" r="2.65"/><circle cx="614.9" cy="1243.4" r="2.65"/><circle cx="618.8" cy="1243.4" r="2.65"/><circle cx="622.6" cy="1243.4" r="2.65"/><circle cx="626.5" cy="1243.4" r="2.65"/><circle cx="630.4" cy="1243.4" r="2.65"/><circle cx="634.3" cy="1243.4" r="2.65"/><circle cx="638.2" cy="1243.4" r="2.65"/><circle cx="642" cy="1243.4" r="2.65"/><circle cx="645.9" cy="1243.4" r="2.65"/><circle cx="649.8" cy="1243.4" r="2.65"/><circle cx="653.7" cy="1243.4" r="2.65"/>
</g>
</g>
<rect x="46.7" y="1068.9" width="635.8" height="176.8" fill="none" stroke="#dadada" stroke-width="1"/>
<g font-family="Liberation Sans, Arial, sans-serif" font-size="13.4" fill="#333">
<text x="75.7" y="1261" text-anchor="middle">0</text>
<text x="114.5" y="1261" text-anchor="middle">10</text>
<text x="153.3" y="1261" text-anchor="middle">20</text>
<text x="192.1" y="1261" text-anchor="middle">30</text>
<text x="230.9" y="1261" text-anchor="middle">40</text>
<text x="269.6" y="1261" text-anchor="middle">50</text>
<text x="308.4" y="1261" text-anchor="middle">60</text>
<text x="347.2" y="1261" text-anchor="middle">70</text>
<text x="386" y="1261" text-anchor="middle">80</text>
<text x="424.8" y="1261" text-anchor="middle">90</text>
<text x="463.6" y="1261" text-anchor="middle">100</text>
<text x="502.4" y="1261" text-anchor="middle">110</text>
<text x="541.2" y="1261" text-anchor="middle">120</text>
<text x="580" y="1261" text-anchor="middle">130</text>
<text x="618.8" y="1261" text-anchor="middle">140</text>
<text x="40.8" y="1250.6" text-anchor="end">0</text>
<text x="40.8" y="1215.2" text-anchor="end">20</text>
<text x="40.8" y="1179.9" text-anchor="end">40</text>
<text x="40.8" y="1144.5" text-anchor="end">60</text>
<text x="40.8" y="1109.2" text-anchor="end">80</text>
<text x="40.8" y="1073.8" text-anchor="end">100</text>
</g>
<text font-family="Liberation Sans, Arial, sans-serif" font-size="14.15" fill="#333" text-anchor="middle" transform="translate(11.2 1157.8) rotate(-90)">Prediction by One Data Source</text>
<text font-family="Liberation Sans, Arial, sans-serif" font-size="20" font-weight="bold" fill="#111" text-anchor="middle" x="362.6" y="1280.2">(f)</text>
<rect x="411.4" y="1076.4" width="264.3" height="42.5" rx="3" ry="3" fill="#fff" fill-opacity="0.8" stroke="#e4e4e4" stroke-width="1"/>
<line x1="417.2" y1="1087.6" x2="446.2" y2="1087.6" stroke="#2a2a2a" stroke-width="1" stroke-opacity="0.45"/>
<circle cx="431.7" cy="1087.6" r="2.9" fill="#2a2a2a" fill-opacity="0.5"/>
<text font-family="Liberation Sans, Arial, sans-serif" font-size="14.25" fill="#333" x="456.8" y="1092.2">truth</text>
<line x1="417.2" y1="1106.2" x2="446.2" y2="1106.2" stroke="#9400D3" stroke-width="1" stroke-opacity="0.4"/>
<circle cx="431.7" cy="1106.2" r="2.9" fill="#9400D3" fill-opacity="0.45"/>
<text font-family="Liberation Sans, Arial, sans-serif" font-size="14.25" fill="#333" x="456.8" y="1110.8">prediction by Bitstamp order book</text>
</svg>
</body></html>
